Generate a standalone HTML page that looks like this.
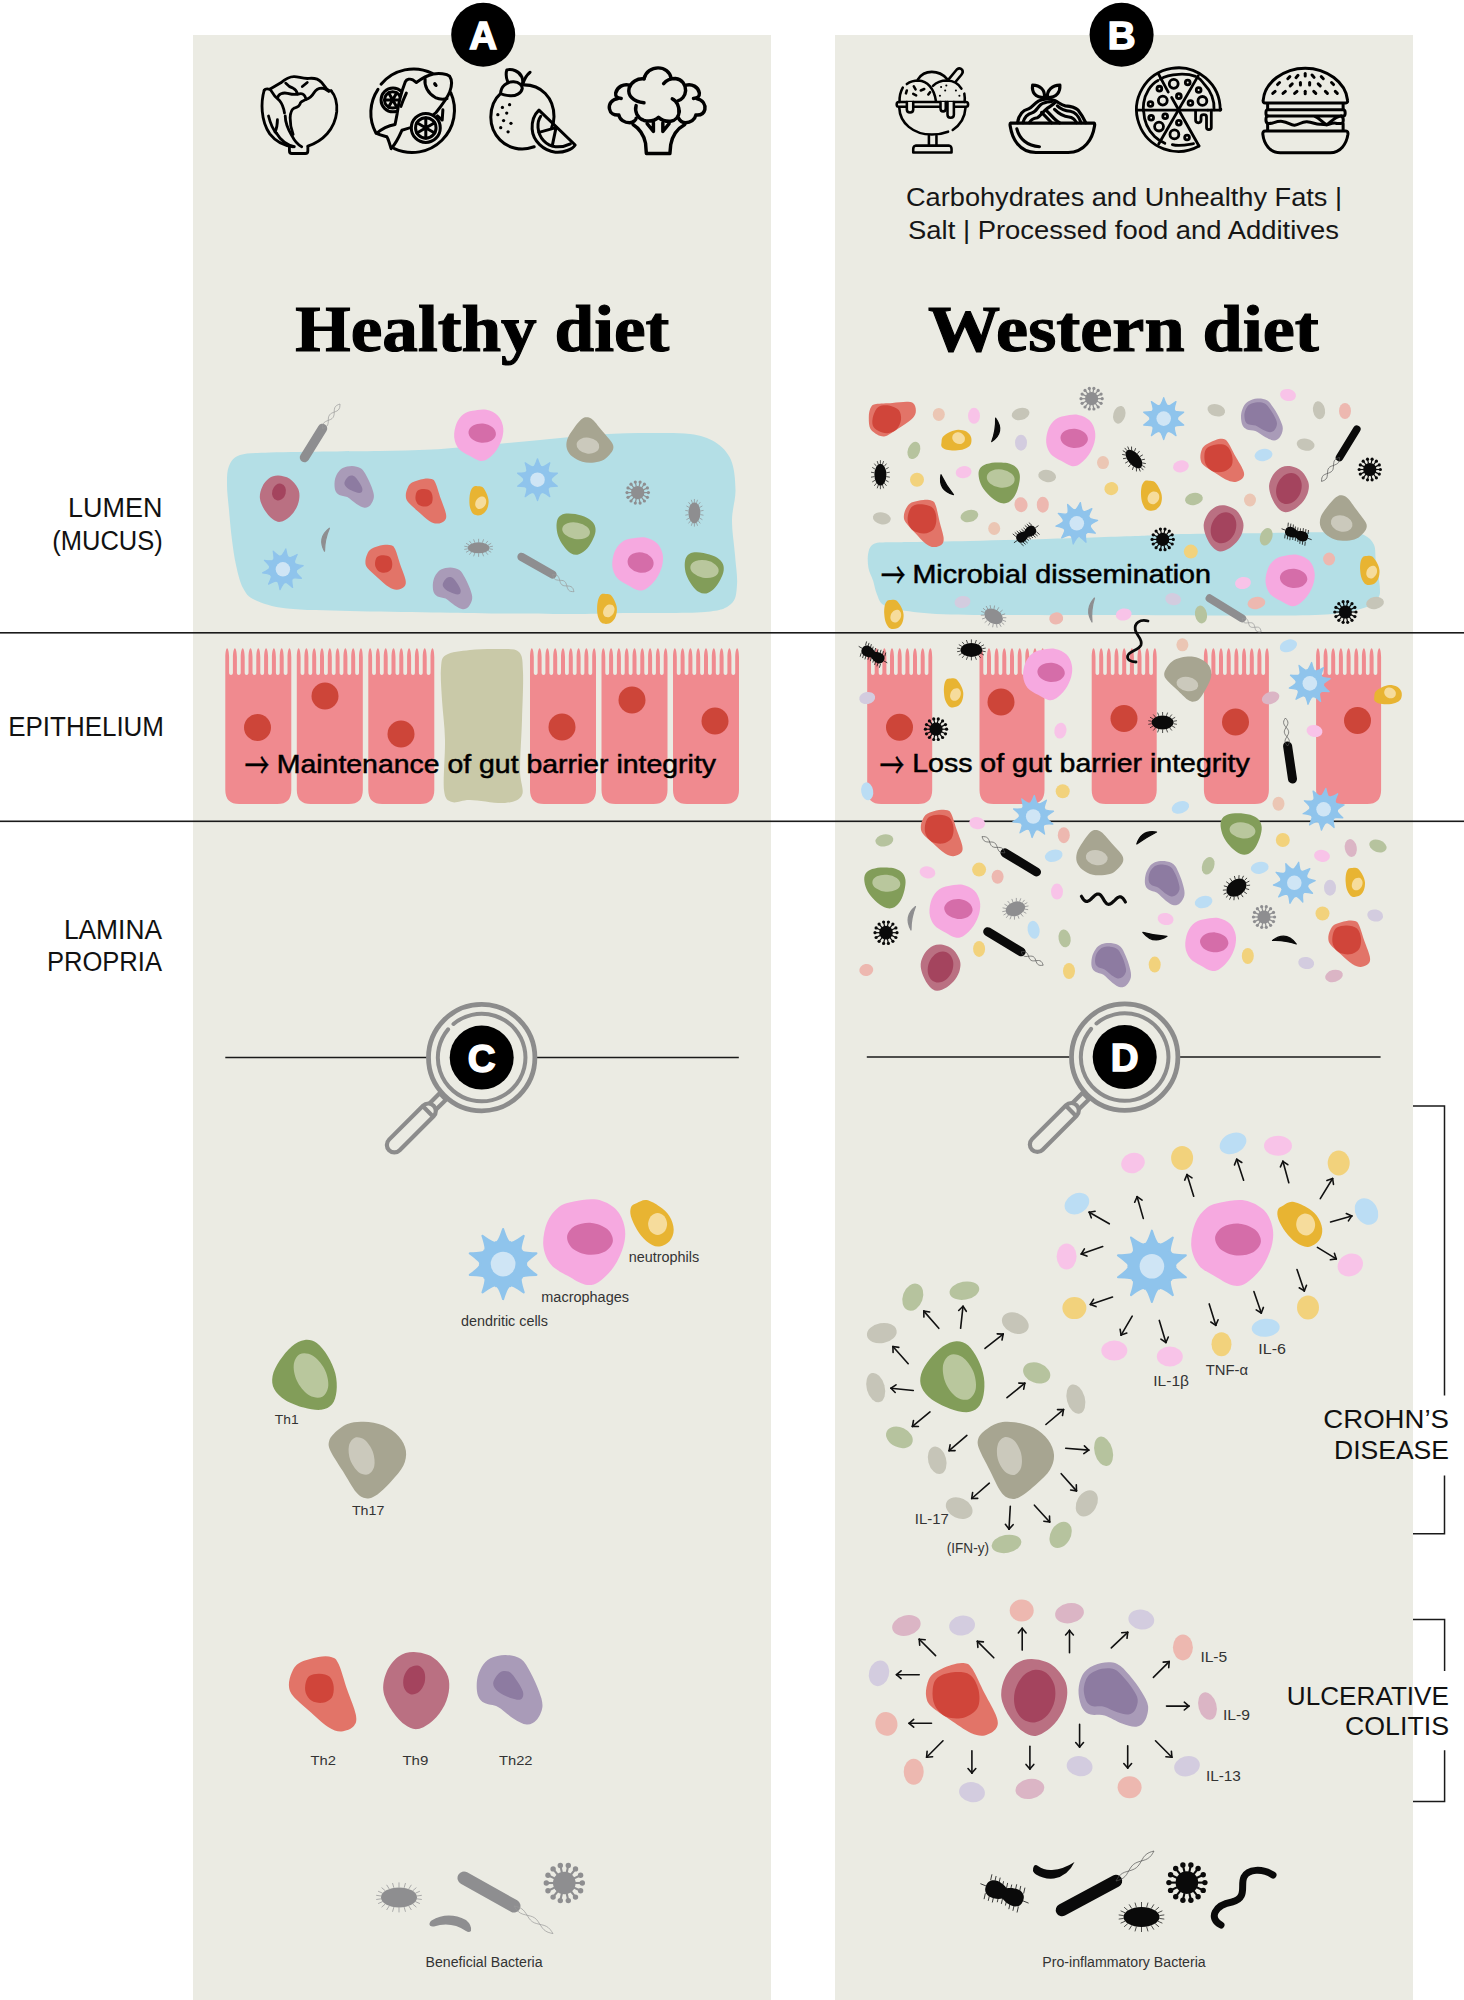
<!DOCTYPE html>
<html><head><meta charset="utf-8"><title>Healthy vs Western diet</title>
<style>html,body{margin:0;padding:0;background:#fff;width:1464px;height:2000px;overflow:hidden}svg{display:block}</style>
</head><body>
<svg width="1464" height="2000" viewBox="0 0 1464 2000">
<rect x="0" y="0" width="1464" height="2000" fill="#fff"/>
<rect x="193" y="35" width="578" height="1965" fill="#EBEBE3"/>
<rect x="835" y="35" width="578" height="1965" fill="#EBEBE3"/>
<rect x="0" y="632" width="1464" height="1.6" fill="#1a1a1a"/>
<rect x="0" y="820.5" width="1464" height="1.6" fill="#1a1a1a"/>
<circle cx="483.2" cy="34.8" r="32" fill="#000"/>
<text x="483.2" y="48.5" font-family="Liberation Sans, sans-serif" font-size="38.5" font-weight="bold" fill="#fff" text-anchor="middle" stroke="#fff" stroke-width="1.5">A</text>
<circle cx="1121.6" cy="34.8" r="32" fill="#000"/>
<text x="1121.6" y="48.5" font-family="Liberation Sans, sans-serif" font-size="38.5" font-weight="bold" fill="#fff" text-anchor="middle" stroke="#fff" stroke-width="1.5">B</text>
<text x="1124" y="206" font-family="Liberation Sans, sans-serif" font-size="25" font-weight="normal" fill="#161616" text-anchor="middle" textLength="436" lengthAdjust="spacingAndGlyphs">Carbohydrates and Unhealthy Fats |</text>
<text x="1123.5" y="239" font-family="Liberation Sans, sans-serif" font-size="25" font-weight="normal" fill="#161616" text-anchor="middle" textLength="431" lengthAdjust="spacingAndGlyphs">Salt | Processed food and Additives</text>
<text x="482.3" y="350.6" font-family="Liberation Serif, sans-serif" font-size="65" font-weight="bold" fill="#000" text-anchor="middle" textLength="374" lengthAdjust="spacingAndGlyphs" stroke="#000" stroke-width="1.1">Healthy diet</text>
<text x="1123.4" y="351.4" font-family="Liberation Serif, sans-serif" font-size="65" font-weight="bold" fill="#000" text-anchor="middle" textLength="391" lengthAdjust="spacingAndGlyphs" stroke="#000" stroke-width="1.1">Western diet</text>
<text x="162.4" y="517.2" font-family="Liberation Sans, sans-serif" font-size="27" font-weight="normal" fill="#111" text-anchor="end" textLength="94.4" lengthAdjust="spacingAndGlyphs">LUMEN</text>
<text x="162.8" y="550" font-family="Liberation Sans, sans-serif" font-size="27" font-weight="normal" fill="#111" text-anchor="end" textLength="110.5" lengthAdjust="spacingAndGlyphs">(MUCUS)</text>
<text x="8.2" y="736.3" font-family="Liberation Sans, sans-serif" font-size="27" font-weight="normal" fill="#111" text-anchor="start" textLength="155.8" lengthAdjust="spacingAndGlyphs">EPITHELIUM</text>
<text x="162" y="938.9" font-family="Liberation Sans, sans-serif" font-size="27" font-weight="normal" fill="#111" text-anchor="end" textLength="98.1" lengthAdjust="spacingAndGlyphs">LAMINA</text>
<text x="162" y="971.3" font-family="Liberation Sans, sans-serif" font-size="27" font-weight="normal" fill="#111" text-anchor="end" textLength="115.1" lengthAdjust="spacingAndGlyphs">PROPRIA</text>
<path fill="#B4DFE6" d="M229,466C231.2,461 233.2,457.2 240,455C246.8,452.8 255,453.1 270,452.5C285,451.9 311.7,451.8 330,451.5C348.3,451.2 363,451.3 380,451C397,450.7 415.3,450.4 432,449.5C448.7,448.6 462,447.1 480,445.5C498,443.9 520,441.8 540,440C560,438.2 581.7,435.7 600,434.5C618.3,433.3 635,433.1 650,433C665,432.9 679.2,432.5 690,434C700.8,435.5 708.2,437.7 715,442C721.8,446.3 727.6,452 731,460C734.4,468 735.3,480 735.5,490C735.7,500 732.1,509.2 732,520C731.9,530.8 734.2,544.2 735,555C735.8,565.8 737.7,576.8 737,585C736.3,593.2 736.3,599.5 731,604C725.7,608.5 721.8,610.5 705,612C688.2,613.5 651.3,612.7 630,613C608.7,613.3 598.7,613.9 577,614C555.3,614.1 524.2,613.8 500,613.5C475.8,613.2 457,612.9 432,612.5C407,612.1 374.2,611.7 350,611C325.8,610.3 302.8,610.3 287,608.5C271.2,606.7 262.3,603.4 255,600C247.7,596.6 246.2,593.8 243,588C239.8,582.2 237.8,573 236,565C234.2,557 233.2,549.2 232,540C230.8,530.8 229.8,519.2 229,510C228.2,500.8 227,492.3 227,485C227,477.7 226.8,471 229,466Z"/>
<line x1="304.5" y1="457.5" x2="322.5" y2="428.5" stroke="#8E8E90" stroke-width="9.5" stroke-linecap="round"/>
<polyline points="322.5,428.5 324.2,427.9 325.7,427.1 326.9,426.1 327.7,424.8 328.1,423.3 328.3,421.5 328.3,419.7 328.4,417.9 328.8,416.3 329.5,415 330.5,413.9 331.9,413 333.6,412.4 335.3,411.7 336.9,411 338.2,410.1 339.1,408.9 339.7,407.5 339.9,405.8 340,404" fill="none" stroke="#999" stroke-width="0.7"/>
<polyline points="322.5,428.5 322.6,426.7 322.8,425 323.4,423.6 324.3,422.4 325.6,421.5 327.2,420.8 328.9,420.1 330.6,419.5 332,418.6 333,417.5 333.7,416.2 334.1,414.6 334.2,412.8 334.2,411 334.4,409.2 334.8,407.7 335.6,406.4 336.8,405.4 338.3,404.6 340,404" fill="none" stroke="#999" stroke-width="0.7"/>
<path fill="#F6A9E0" d="M472.5,410.8C476.4,410 482.1,408.9 486.3,409.7C490.5,410.4 495,412.7 497.7,415.4C500.5,418.1 502.1,422.1 502.9,425.7C503.7,429.4 503.4,433.2 502.4,437.2C501.3,441.2 499.1,446.2 496.6,449.9C494.1,453.5 490.3,457.2 487.4,459C484.6,460.9 482.4,461.3 479.4,460.7C476.3,460.1 472.5,457.6 469.1,455.6C465.6,453.6 461.2,451.7 458.7,448.7C456.3,445.6 454.6,441.4 454.2,437.2C453.8,433 454.9,427.3 456.5,423.5C458,419.6 460.7,416.4 463.4,414.3C466,412.2 468.7,411.6 472.5,410.8Z"/>
<path fill="#D56DA9" d="M495.9,434.4C495.8,436.6 493.8,439.4 491.3,440.8C488.9,442.2 484.6,443 481.4,442.7C478.1,442.5 474,440.9 471.9,439.1C469.7,437.3 468.3,434.2 468.5,432C468.6,429.7 470.6,427 473.1,425.6C475.5,424.2 479.8,423.3 483,423.6C486.3,423.9 490.4,425.5 492.5,427.3C494.7,429.1 496.1,432.1 495.9,434.4Z"/>
<path fill="#A7A591" d="M610.9,453.1C609.3,455.2 606.7,458.2 603.9,459.8C601.1,461.3 597.9,462.1 594.3,462.4C590.8,462.8 586,462.8 582.3,461.8C578.7,460.8 574.9,458.7 572.3,456.6C569.7,454.4 567.8,451.6 566.9,448.7C566.1,445.9 566.2,442.6 567.2,439.4C568.3,436.2 570.8,432.6 573.2,429.3C575.5,426 578.8,421.6 581.1,419.6C583.3,417.6 584.7,417.1 586.7,417.2C588.6,417.2 590.3,417.6 593,419.9C595.6,422.2 599.4,427.5 602.5,431.2C605.6,434.8 609.5,439.1 611.3,441.8C613.1,444.5 613.5,445.6 613.4,447.5C613.3,449.4 612.5,451.1 610.9,453.1Z"/>
<ellipse cx="587.9" cy="445.6" rx="11.4" ry="8" fill="#CBC9BC" transform="rotate(8 587.9 445.6)"/>
<path fill="#BA7082" d="M278.2,475.6C281.7,475.7 286.4,476.8 289.7,478.8C292.9,480.9 296.1,484.9 297.7,488C299.4,491.1 299.6,493.9 299.4,497.2C299.2,500.4 298.2,504.2 296.6,507.5C295,510.8 292.4,514.3 289.7,516.7C287,519.1 283.4,521.5 280.5,521.8C277.6,522.2 275.2,521 272.5,519C269.8,517 266.5,513.2 264.4,509.8C262.3,506.3 260.3,502.1 259.9,498.3C259.5,494.5 260.6,490.2 262.2,486.9C263.7,483.5 266.4,480.1 269.1,478.3C271.7,476.4 274.8,475.5 278.2,475.6Z"/>
<ellipse cx="279" cy="492" rx="6.8" ry="8.6" fill="#A4445E" transform="rotate(15 279 492)"/>
<path fill="#A99BB8" d="M342.7,467.9C345.1,466.7 348.9,465.9 351.9,465.9C355,466 358.6,466.7 361.1,468.5C363.6,470.2 365,473.2 366.8,476.5C368.6,479.8 370.8,484.5 372,488C373.1,491.4 374.2,494.3 373.9,497.1C373.7,500 371.8,503.4 370.3,505.2C368.7,506.9 366.8,507.9 364.5,507.7C362.2,507.5 359.3,505.8 356.5,504C353.6,502.3 350.2,498.7 347.3,497.1C344.4,495.6 341.3,496 339.3,494.9C337.2,493.7 336,492.6 335.2,490.3C334.5,488 334.3,484 334.7,481.1C335.1,478.2 336.2,475.3 337.6,473.1C338.9,470.9 340.4,469.1 342.7,467.9Z"/>
<path fill="#8D7BA1" d="M348.4,476.5C350,475.4 352.1,475.4 353.6,476C355.1,476.5 356.2,477.9 357.6,479.9C359.1,481.9 361.7,485.8 362.2,488C362.8,490.1 362.2,491.9 361.1,492.6C359.9,493.2 357.6,492.8 355.3,492C353,491.2 349.1,489.5 347.3,488C345.5,486.4 344.2,484.7 344.4,482.8C344.6,480.9 346.9,477.6 348.4,476.5Z"/>
<path fill="#E27468" d="M412,482.6C414.6,481 420.1,479.6 423.4,479C426.7,478.4 429.5,478.4 431.6,479.1C433.6,479.8 434,479.9 435.6,483.2C437.1,486.4 439,493.6 440.7,498.6C442.5,503.7 445.2,509.9 445.9,513.6C446.6,517.2 446.2,518.7 444.8,520.4C443.3,522.1 439.9,523.5 437.3,523.6C434.7,523.7 432.5,523.1 429.3,521C426,518.9 421.4,514.4 417.8,511.3C414.3,508.1 410.1,504.7 408,502.1C406,499.5 405.9,498.1 405.8,495.8C405.7,493.5 406.5,490.5 407.5,488.3C408.5,486.1 409.4,484.1 412,482.6Z"/>
<path fill="#D0453A" d="M418.2,490.3C419.6,489.4 422.2,489 424.2,489.1C426.2,489.2 428.8,489.6 430.2,490.9C431.6,492.2 432.4,494.8 432.6,496.9C432.8,499 432.5,501.9 431.4,503.5C430.3,505.1 428,506.2 426,506.5C424,506.8 421.1,506.3 419.4,505.3C417.7,504.3 416.4,502.3 415.8,500.5C415.2,498.7 415.4,496.2 415.8,494.5C416.2,492.8 416.8,491.2 418.2,490.3Z"/>
<path fill="#E8B432" d="M477.4,486.3C478.9,486.4 481.1,486 482.7,487.3C484.3,488.7 486,492 487,494.4C487.9,496.9 488.7,499.3 488.6,501.9C488.5,504.5 487.8,507.9 486.5,510C485.3,512.2 483.2,514.1 481.1,514.9C479.1,515.6 475.9,515.6 474.1,514.6C472.3,513.5 471.2,511.1 470.4,508.7C469.6,506.3 469.3,503 469.4,500.1C469.4,497.3 469.8,493.8 470.5,491.5C471.2,489.3 472.4,487.5 473.5,486.7C474.7,485.8 475.9,486.1 477.4,486.3Z"/>
<path fill="#F6DC9C" d="M485.2,505.3C484.4,506.6 482.8,508.1 481.5,508.6C480.2,509.1 478.5,509.1 477.4,508.4C476.4,507.8 475.4,506.3 475.2,505C475.1,503.6 475.5,501.5 476.3,500.2C477.1,498.8 478.6,497.4 479.9,496.9C481.2,496.4 483,496.4 484,497C485.1,497.6 486,499.1 486.2,500.5C486.4,501.9 485.9,503.9 485.2,505.3Z"/>
<path fill="#8FC4EC" stroke="#8FC4EC" stroke-width="1.3" stroke-linejoin="round" d="M537.5,458.8Q540.3,467.5 541.8,466.6Q542.4,468.2 549.8,462.8Q547,471.5 548.7,471.6Q548.3,473.2 557.4,473.2Q550,478.6 551.3,479.7Q550,480.8 557.4,486.2Q548.3,486.2 548.7,487.8Q547,487.9 549.8,496.6Q542.4,491.2 541.8,492.8Q540.3,491.9 537.5,500.6Q534.7,491.9 533.2,492.8Q532.6,491.2 525.2,496.6Q528,487.9 526.3,487.8Q526.7,486.2 517.6,486.2Q525,480.8 523.7,479.7Q525,478.6 517.6,473.2Q526.7,473.2 526.3,471.6Q528,471.5 525.2,462.8Q532.6,468.2 533.2,466.6Q534.7,467.5 537.5,458.8Z"/>
<circle cx="537.5" cy="479.7" r="7.3" fill="#CFE5F5"/>
<g fill="#8E8E90" stroke="#8E8E90"><circle cx="637.7" cy="492.6" r="6.7" stroke="none"/><line x1="643.8" y1="492.6" x2="648.4" y2="492.6" stroke-width="1.2"/><circle cx="648.4" cy="492.6" r="1.6" stroke="none"/><line x1="643.2" y1="495.2" x2="647.4" y2="497.3" stroke-width="1.2"/><circle cx="647.4" cy="497.3" r="1.6" stroke="none"/><line x1="641.5" y1="497.4" x2="644.4" y2="501" stroke-width="1.2"/><circle cx="644.4" cy="501" r="1.6" stroke="none"/><line x1="639.1" y1="498.5" x2="640.1" y2="503.1" stroke-width="1.2"/><circle cx="640.1" cy="503.1" r="1.6" stroke="none"/><line x1="636.3" y1="498.5" x2="635.3" y2="503.1" stroke-width="1.2"/><circle cx="635.3" cy="503.1" r="1.6" stroke="none"/><line x1="633.9" y1="497.4" x2="631" y2="501" stroke-width="1.2"/><circle cx="631" cy="501" r="1.6" stroke="none"/><line x1="632.2" y1="495.2" x2="628" y2="497.3" stroke-width="1.2"/><circle cx="628" cy="497.3" r="1.6" stroke="none"/><line x1="631.6" y1="492.6" x2="627" y2="492.6" stroke-width="1.2"/><circle cx="627" cy="492.6" r="1.6" stroke="none"/><line x1="632.2" y1="490" x2="628" y2="487.9" stroke-width="1.2"/><circle cx="628" cy="487.9" r="1.6" stroke="none"/><line x1="633.9" y1="487.8" x2="631" y2="484.2" stroke-width="1.2"/><circle cx="631" cy="484.2" r="1.6" stroke="none"/><line x1="636.3" y1="486.7" x2="635.3" y2="482.1" stroke-width="1.2"/><circle cx="635.3" cy="482.1" r="1.6" stroke="none"/><line x1="639.1" y1="486.7" x2="640.1" y2="482.1" stroke-width="1.2"/><circle cx="640.1" cy="482.1" r="1.6" stroke="none"/><line x1="641.5" y1="487.8" x2="644.4" y2="484.2" stroke-width="1.2"/><circle cx="644.4" cy="484.2" r="1.6" stroke="none"/><line x1="643.2" y1="490" x2="647.4" y2="487.9" stroke-width="1.2"/><circle cx="647.4" cy="487.9" r="1.6" stroke="none"/></g>
<g transform="translate(694.4 512.8) rotate(0)"><ellipse cx="0" cy="0" rx="6" ry="10.6" fill="#8E8E90"/><line x1="5.9" y1="1.8" x2="9.1" y2="2.4" stroke="#8E8E90" stroke-width="0.7"/><line x1="5.2" y1="5.3" x2="8" y2="6.9" stroke="#8E8E90" stroke-width="0.7"/><line x1="3.9" y1="8.1" x2="5.9" y2="10.6" stroke="#8E8E90" stroke-width="0.7"/><line x1="2.1" y1="10" x2="3.1" y2="13" stroke="#8E8E90" stroke-width="0.7"/><line x1="0" y1="10.6" x2="0" y2="13.8" stroke="#8E8E90" stroke-width="0.7"/><line x1="-2.1" y1="10" x2="-3.1" y2="13" stroke="#8E8E90" stroke-width="0.7"/><line x1="-3.9" y1="8.1" x2="-5.9" y2="10.6" stroke="#8E8E90" stroke-width="0.7"/><line x1="-5.2" y1="5.3" x2="-8" y2="6.9" stroke="#8E8E90" stroke-width="0.7"/><line x1="-5.9" y1="1.8" x2="-9.1" y2="2.4" stroke="#8E8E90" stroke-width="0.7"/><line x1="-5.9" y1="-1.8" x2="-9.1" y2="-2.4" stroke="#8E8E90" stroke-width="0.7"/><line x1="-5.2" y1="-5.3" x2="-8" y2="-6.9" stroke="#8E8E90" stroke-width="0.7"/><line x1="-3.9" y1="-8.1" x2="-5.9" y2="-10.6" stroke="#8E8E90" stroke-width="0.7"/><line x1="-2.1" y1="-10" x2="-3.1" y2="-13" stroke="#8E8E90" stroke-width="0.7"/><line x1="0" y1="-10.6" x2="0" y2="-13.8" stroke="#8E8E90" stroke-width="0.7"/><line x1="2.1" y1="-10" x2="3.1" y2="-13" stroke="#8E8E90" stroke-width="0.7"/><line x1="3.9" y1="-8.1" x2="5.9" y2="-10.6" stroke="#8E8E90" stroke-width="0.7"/><line x1="5.2" y1="-5.3" x2="8" y2="-6.9" stroke="#8E8E90" stroke-width="0.7"/><line x1="5.9" y1="-1.8" x2="9.1" y2="-2.4" stroke="#8E8E90" stroke-width="0.7"/></g>
<path fill="#8E8E90" stroke="#8E8E90" stroke-width="1.2" stroke-linejoin="round" d="M329.4,528.2 Q317.2,537.6 324.5,551.2 Q324.6,539.2 329.4,528.2Z"/>
<path fill="#8FC4EC" stroke="#8FC4EC" stroke-width="1.2" stroke-linejoin="round" d="M285.8,548.9Q287.3,557.8 288.9,557.1Q289.3,558.7 297.2,554.5Q293.3,562.6 294.9,562.9Q294.3,564.5 303.2,565.7Q295.2,569.9 296.4,571.2Q294.9,572.1 301.4,578.3Q292.5,577.1 292.7,578.7Q291,578.6 292.6,587.5Q286.1,581.2 285.3,582.7Q284,581.6 280,589.7Q278.5,580.8 276.9,581.5Q276.5,579.9 268.6,584.1Q272.5,576 270.9,575.7Q271.5,574.1 262.6,572.9Q270.6,568.7 269.4,567.4Q270.9,566.5 264.4,560.3Q273.3,561.5 273.1,559.9Q274.8,560 273.2,551.1Q279.7,557.4 280.5,555.9Q281.8,557 285.8,548.9Z"/>
<circle cx="282.9" cy="569.3" r="7.2" fill="#CFE5F5"/>
<path fill="#E27468" d="M371.6,548.7C374.2,547.1 379.7,545.7 383,545.1C386.3,544.5 389.1,544.5 391.2,545.2C393.2,545.9 393.6,546 395.2,549.3C396.7,552.5 398.6,559.7 400.3,564.7C402.1,569.8 404.8,576 405.5,579.7C406.2,583.3 405.8,584.8 404.4,586.5C402.9,588.2 399.5,589.6 396.9,589.7C394.3,589.8 392.1,589.2 388.9,587.1C385.6,585 381,580.5 377.4,577.4C373.9,574.2 369.6,570.8 367.6,568.2C365.6,565.6 365.4,564.2 365.4,561.9C365.3,559.6 366.1,556.6 367.1,554.4C368.1,552.2 368.9,550.2 371.6,548.7Z"/>
<path fill="#D0453A" d="M377.8,556.4C379.2,555.5 381.8,555.1 383.8,555.2C385.8,555.3 388.4,555.7 389.8,557C391.2,558.3 392,560.9 392.2,563C392.4,565.1 392.1,568 391,569.6C389.9,571.2 387.6,572.3 385.6,572.6C383.6,572.9 380.7,572.4 379,571.4C377.3,570.4 376,568.4 375.4,566.6C374.8,564.8 375,562.3 375.4,560.6C375.8,558.9 376.4,557.3 377.8,556.4Z"/>
<g transform="translate(478.6 547.8) rotate(0)"><ellipse cx="0" cy="0" rx="11" ry="5.5" fill="#8E8E90"/><line x1="10.8" y1="1" x2="14.3" y2="1.6" stroke="#8E8E90" stroke-width="0.7"/><line x1="9.5" y1="2.7" x2="12.6" y2="4.5" stroke="#8E8E90" stroke-width="0.7"/><line x1="7.1" y1="4.2" x2="9.3" y2="6.9" stroke="#8E8E90" stroke-width="0.7"/><line x1="3.8" y1="5.2" x2="5" y2="8.5" stroke="#8E8E90" stroke-width="0.7"/><line x1="0" y1="5.5" x2="0" y2="9" stroke="#8E8E90" stroke-width="0.7"/><line x1="-3.8" y1="5.2" x2="-5" y2="8.5" stroke="#8E8E90" stroke-width="0.7"/><line x1="-7.1" y1="4.2" x2="-9.3" y2="6.9" stroke="#8E8E90" stroke-width="0.7"/><line x1="-9.5" y1="2.8" x2="-12.6" y2="4.5" stroke="#8E8E90" stroke-width="0.7"/><line x1="-10.8" y1="1" x2="-14.3" y2="1.6" stroke="#8E8E90" stroke-width="0.7"/><line x1="-10.8" y1="-1" x2="-14.3" y2="-1.6" stroke="#8E8E90" stroke-width="0.7"/><line x1="-9.5" y1="-2.8" x2="-12.6" y2="-4.5" stroke="#8E8E90" stroke-width="0.7"/><line x1="-7.1" y1="-4.2" x2="-9.3" y2="-6.9" stroke="#8E8E90" stroke-width="0.7"/><line x1="-3.8" y1="-5.2" x2="-5" y2="-8.5" stroke="#8E8E90" stroke-width="0.7"/><line x1="0" y1="-5.5" x2="0" y2="-9" stroke="#8E8E90" stroke-width="0.7"/><line x1="3.8" y1="-5.2" x2="5" y2="-8.5" stroke="#8E8E90" stroke-width="0.7"/><line x1="7.1" y1="-4.2" x2="9.3" y2="-6.9" stroke="#8E8E90" stroke-width="0.7"/><line x1="9.5" y1="-2.7" x2="12.6" y2="-4.5" stroke="#8E8E90" stroke-width="0.7"/><line x1="10.8" y1="-1" x2="14.3" y2="-1.6" stroke="#8E8E90" stroke-width="0.7"/></g>
<path fill="#A99BB8" d="M441,569.4C443.4,568.2 447.2,567.4 450.2,567.4C453.3,567.5 456.9,568.2 459.4,570C461.9,571.7 463.3,574.8 465.1,578C466.9,581.2 469.1,586 470.3,589.5C471.4,592.9 472.5,595.8 472.2,598.6C472,601.5 470.1,604.9 468.6,606.7C467,608.4 465.1,609.4 462.8,609.2C460.5,609 457.6,607.3 454.8,605.5C451.9,603.8 448.5,600.2 445.6,598.6C442.7,597.1 439.6,597.5 437.6,596.4C435.6,595.2 434.3,594.1 433.5,591.8C432.8,589.5 432.6,585.5 433,582.6C433.4,579.8 434.5,576.8 435.9,574.6C437.2,572.4 438.7,570.6 441,569.4Z"/>
<path fill="#8D7BA1" d="M446.7,578C448.3,576.9 450.4,576.9 451.9,577.5C453.4,578 454.5,579.4 455.9,581.4C457.4,583.4 460,587.4 460.5,589.5C461.1,591.6 460.5,593.4 459.4,594.1C458.2,594.8 455.9,594.2 453.6,593.5C451.3,592.7 447.4,591 445.6,589.5C443.8,587.9 442.5,586.2 442.7,584.3C442.9,582.4 445.2,579.1 446.7,578Z"/>
<line x1="521.5" y1="556.8" x2="552.5" y2="574.5" stroke="#8E8E90" stroke-width="8.3" stroke-linecap="round"/>
<polyline points="552.5,574.5 553,576.1 553.5,577.6 554.4,578.8 555.5,579.6 556.9,580 558.5,580.2 560.2,580.3 561.9,580.4 563.4,580.7 564.6,581.4 565.5,582.4 566.2,583.8 566.7,585.4 567.1,587.1 567.7,588.6 568.4,589.9 569.4,590.8 570.7,591.4 572.3,591.6 574,591.7" fill="none" stroke="#999" stroke-width="0.7"/>
<polyline points="552.5,574.5 554.2,574.6 555.8,574.8 557.1,575.4 558.1,576.3 558.8,577.6 559.4,579.1 559.8,580.8 560.3,582.4 561,583.8 561.9,584.8 563.1,585.5 564.6,585.8 566.3,585.9 568,586 569.6,586.2 571,586.6 572.1,587.4 573,588.6 573.5,590.1 574,591.7" fill="none" stroke="#999" stroke-width="0.7"/>
<path fill="#829D59" d="M578.2,554.6C575.7,555.1 573.2,554.7 570.8,553.3C568.4,551.9 565.7,549 563.6,546.1C561.4,543.2 559.3,539.4 558.1,536C556.9,532.6 556.5,528.7 556.5,525.6C556.6,522.5 557.1,519.5 558.5,517.6C559.8,515.6 561.9,514.3 564.7,513.7C567.5,513.1 571.6,513.4 575.3,514.1C579,514.8 583.7,516.1 586.8,517.7C589.9,519.3 592.4,521.4 593.9,523.7C595.3,526 595.8,528.5 595.5,531.4C595.2,534.3 593.7,537.8 592.1,540.9C590.4,544 588,547.8 585.6,550.1C583.3,552.3 580.6,554 578.2,554.6Z"/>
<ellipse cx="576.1" cy="530.8" rx="14" ry="8.3" fill="#B9C79D" transform="rotate(10 576.1 530.8)"/>
<path fill="#F6A9E0" d="M631.2,538.6C635.2,537.8 641.1,536.6 645.4,537.4C649.8,538.2 654.4,540.6 657.3,543.4C660.1,546.1 661.8,550.3 662.6,554C663.4,557.8 663.1,561.7 662.1,565.9C661,570 658.7,575.2 656.1,579C653.5,582.7 649.6,586.6 646.6,588.4C643.6,590.3 641.5,590.8 638.3,590.2C635.1,589.6 631.2,586.9 627.6,584.9C624.1,582.8 619.5,580.9 617,577.7C614.4,574.6 612.7,570.2 612.3,565.9C611.9,561.5 613,555.6 614.6,551.7C616.2,547.7 619,544.4 621.8,542.2C624.5,540 627.3,539.4 631.2,538.6Z"/>
<ellipse cx="640.6" cy="562.5" rx="13.1" ry="10.1" fill="#D56DA9" transform="rotate(10 640.6 562.5)"/>
<path fill="#829D59" d="M706.4,593.4C703.9,593.9 701.4,593.5 699,592.1C696.6,590.7 693.9,587.8 691.8,584.9C689.6,582 687.5,578.2 686.3,574.8C685.1,571.4 684.7,567.5 684.7,564.4C684.8,561.3 685.3,558.3 686.7,556.4C688,554.4 690.1,553.1 692.9,552.5C695.7,551.9 699.8,552.2 703.5,552.9C707.2,553.6 711.9,554.9 715,556.5C718.1,558.1 720.6,560.2 722.1,562.5C723.5,564.8 724,567.3 723.7,570.2C723.4,573.1 721.9,576.6 720.3,579.7C718.6,582.8 716.2,586.6 713.8,588.9C711.5,591.1 708.8,592.8 706.4,593.4Z"/>
<ellipse cx="704.5" cy="569" rx="14.3" ry="8.8" fill="#B9C79D" transform="rotate(10 704.5 569)"/>
<path fill="#E8B432" d="M605.4,593.9C606.9,594 609.2,593.6 610.8,595C612.5,596.4 614.2,599.8 615.2,602.3C616.3,604.8 617,607.4 616.9,610.1C616.9,612.8 616.1,616.2 614.8,618.5C613.5,620.7 611.4,622.7 609.2,623.5C607.1,624.2 603.8,624.2 602,623.1C600.1,622.1 598.9,619.5 598.1,617C597.3,614.5 597,611.2 597.1,608.2C597.1,605.3 597.6,601.6 598.3,599.3C599,597 600.2,595.2 601.4,594.3C602.5,593.4 603.8,593.8 605.4,593.9Z"/>
<path fill="#F6DC9C" d="M613.4,613.5C612.6,614.9 611,616.4 609.6,616.9C608.3,617.5 606.5,617.4 605.4,616.8C604.3,616.2 603.3,614.6 603.1,613.2C602.9,611.8 603.4,609.6 604.2,608.2C605,606.9 606.6,605.4 608,604.8C609.3,604.3 611.1,604.4 612.2,605C613.3,605.6 614.3,607.2 614.5,608.6C614.7,610 614.2,612.2 613.4,613.5Z"/>
<path fill="#B4DFE6" d="M868.4,552.4C869.4,548.4 870.5,545.5 874.1,543.8C877.7,542.1 883.6,542.6 890,542.3C896.4,542 899.1,542.1 912.4,541.9C925.7,541.7 947.4,541.4 969.7,540.9C992,540.4 1018.7,539.8 1046.2,539C1073.8,538.2 1113.8,536.9 1135,536.1C1156.2,535.3 1154.1,534.7 1173.2,534.2C1192.3,533.7 1224.2,533.5 1249.7,533.2C1275.2,532.9 1309.5,532.3 1326.2,532.3C1342.9,532.3 1343.6,532.5 1350,533C1356.4,533.5 1360.5,533.2 1364.5,535.2C1368.5,537.2 1372.1,540.2 1374,544.7C1375.9,549.2 1375,555 1376,562C1377,569 1379.5,580.8 1379.8,586.8C1380.1,592.8 1380.5,594.8 1377.9,598.3C1375.4,601.8 1373.1,605.1 1364.5,607.8C1355.9,610.5 1345.3,613.2 1326.2,614.5C1307.1,615.8 1274.9,615.4 1249.7,615.5C1224.5,615.6 1199.3,615.4 1175,615.3C1150.7,615.2 1128.3,615.1 1103.6,615.1C1078.9,615.1 1052.5,615.2 1027,615.1C1001.5,615 971,615.2 950.6,614.5C930.2,613.8 915.9,612.3 904.7,610.7C893.6,609.1 888.3,607.7 883.7,605C879.1,602.3 878.8,598.4 877,594.4C875.2,590.4 874.6,585.5 873.2,581C871.8,576.5 869.2,572.5 868.4,567.7C867.6,562.9 867.4,556.4 868.4,552.4Z"/>
<ellipse cx="938.8" cy="414.4" rx="6" ry="6.5" fill="#EBC6B4"/>
<ellipse cx="974" cy="415.8" rx="6" ry="8" fill="#F8C3E8"/>
<ellipse cx="1020.6" cy="414" rx="9" ry="6" fill="#C6C5B8" transform="rotate(-15 1020.6 414)"/>
<ellipse cx="1119.3" cy="414.8" rx="6" ry="9" fill="#C6C5B8" transform="rotate(15 1119.3 414.8)"/>
<ellipse cx="913.9" cy="450.4" rx="6" ry="9" fill="#B6C39E" transform="rotate(20 913.9 450.4)"/>
<ellipse cx="1021" cy="442.7" rx="6" ry="8" fill="#D3CCDF"/>
<ellipse cx="917" cy="479.8" rx="7" ry="7" fill="#F2D27C"/>
<ellipse cx="963.6" cy="472.2" rx="8" ry="6" fill="#F8C3E8" transform="rotate(-10 963.6 472.2)"/>
<ellipse cx="1103" cy="462.6" rx="6" ry="6.5" fill="#EBC6B4"/>
<ellipse cx="1047.2" cy="476" rx="9" ry="6" fill="#C6C5B8" transform="rotate(10 1047.2 476)"/>
<ellipse cx="1111.3" cy="488.6" rx="7" ry="6.5" fill="#F2D27C" transform="rotate(-10 1111.3 488.6)"/>
<ellipse cx="1021" cy="504.7" rx="6.5" ry="7.5" fill="#EDB8B0" transform="rotate(-10 1021 504.7)"/>
<ellipse cx="1042.8" cy="504.7" rx="6" ry="8" fill="#EDB8B0"/>
<ellipse cx="881.8" cy="518.3" rx="9" ry="6" fill="#C6C5B8" transform="rotate(10 881.8 518.3)"/>
<ellipse cx="969.4" cy="516" rx="9" ry="6" fill="#B6C39E" transform="rotate(-15 969.4 516)"/>
<ellipse cx="994.2" cy="528.5" rx="6" ry="6.5" fill="#EBC6B4"/>
<ellipse cx="1216.3" cy="410.2" rx="9" ry="6" fill="#C6C5B8" transform="rotate(15 1216.3 410.2)"/>
<ellipse cx="1288" cy="395" rx="8" ry="6" fill="#F8C3E8" transform="rotate(10 1288 395)"/>
<ellipse cx="1319" cy="410.2" rx="6" ry="9" fill="#C6C5B8" transform="rotate(-10 1319 410.2)"/>
<ellipse cx="1345" cy="411" rx="6" ry="8" fill="#EDB8B0"/>
<ellipse cx="1180.9" cy="466.4" rx="8" ry="6" fill="#F8C3E8" transform="rotate(-10 1180.9 466.4)"/>
<ellipse cx="1263.5" cy="455" rx="9" ry="6" fill="#BBDDF4" transform="rotate(-10 1263.5 455)"/>
<ellipse cx="1305.6" cy="444.6" rx="9" ry="6" fill="#C6C5B8" transform="rotate(10 1305.6 444.6)"/>
<ellipse cx="1193.9" cy="499" rx="9" ry="6" fill="#B6C39E" transform="rotate(-10 1193.9 499)"/>
<ellipse cx="1250" cy="500" rx="6" ry="6.5" fill="#EBC6B4"/>
<ellipse cx="1190.8" cy="551.6" rx="7" ry="7" fill="#F2D27C"/>
<ellipse cx="1266.2" cy="536.7" rx="6" ry="9" fill="#B6C39E" transform="rotate(20 1266.2 536.7)"/>
<ellipse cx="1329.1" cy="559" rx="6" ry="6.5" fill="#EDB8B0"/>
<ellipse cx="1243" cy="583" rx="8" ry="6" fill="#F8C3E8" transform="rotate(-10 1243 583)"/>
<ellipse cx="1173.2" cy="599.2" rx="8" ry="6" fill="#D3CCDF" transform="rotate(10 1173.2 599.2)"/>
<ellipse cx="1256.4" cy="603" rx="9" ry="6" fill="#EDB8B0" transform="rotate(-10 1256.4 603)"/>
<ellipse cx="1201" cy="614.5" rx="6" ry="9" fill="#B6C39E" transform="rotate(-10 1201 614.5)"/>
<ellipse cx="1375" cy="603" rx="9" ry="6" fill="#C6C5B8" transform="rotate(-10 1375 603)"/>
<ellipse cx="962.5" cy="602" rx="8" ry="6" fill="#D3CCDF" transform="rotate(-10 962.5 602)"/>
<ellipse cx="1056.2" cy="618.4" rx="7" ry="6" fill="#EDB8B0" transform="rotate(-10 1056.2 618.4)"/>
<ellipse cx="1123.7" cy="614.5" rx="8" ry="6" fill="#F8C3E8" transform="rotate(-10 1123.7 614.5)"/>
<g fill="#8E8E90" stroke="#8E8E90"><circle cx="1091.6" cy="398.7" r="6.6" stroke="none"/><line x1="1097.6" y1="398.7" x2="1102.2" y2="398.7" stroke-width="1.2"/><circle cx="1102.2" cy="398.7" r="1.6" stroke="none"/><line x1="1097" y1="401.3" x2="1101.1" y2="403.3" stroke-width="1.2"/><circle cx="1101.1" cy="403.3" r="1.6" stroke="none"/><line x1="1095.3" y1="403.4" x2="1098.2" y2="407" stroke-width="1.2"/><circle cx="1098.2" cy="407" r="1.6" stroke="none"/><line x1="1092.9" y1="404.5" x2="1093.9" y2="409" stroke-width="1.2"/><circle cx="1093.9" cy="409" r="1.6" stroke="none"/><line x1="1090.3" y1="404.5" x2="1089.3" y2="409" stroke-width="1.2"/><circle cx="1089.3" cy="409" r="1.6" stroke="none"/><line x1="1087.9" y1="403.4" x2="1085" y2="407" stroke-width="1.2"/><circle cx="1085" cy="407" r="1.6" stroke="none"/><line x1="1086.2" y1="401.3" x2="1082.1" y2="403.3" stroke-width="1.2"/><circle cx="1082.1" cy="403.3" r="1.6" stroke="none"/><line x1="1085.6" y1="398.7" x2="1081" y2="398.7" stroke-width="1.2"/><circle cx="1081" cy="398.7" r="1.6" stroke="none"/><line x1="1086.2" y1="396.1" x2="1082.1" y2="394.1" stroke-width="1.2"/><circle cx="1082.1" cy="394.1" r="1.6" stroke="none"/><line x1="1087.9" y1="394" x2="1085" y2="390.4" stroke-width="1.2"/><circle cx="1085" cy="390.4" r="1.6" stroke="none"/><line x1="1090.3" y1="392.9" x2="1089.3" y2="388.4" stroke-width="1.2"/><circle cx="1089.3" cy="388.4" r="1.6" stroke="none"/><line x1="1092.9" y1="392.9" x2="1093.9" y2="388.4" stroke-width="1.2"/><circle cx="1093.9" cy="388.4" r="1.6" stroke="none"/><line x1="1095.3" y1="394" x2="1098.2" y2="390.4" stroke-width="1.2"/><circle cx="1098.2" cy="390.4" r="1.6" stroke="none"/><line x1="1097" y1="396.1" x2="1101.1" y2="394.1" stroke-width="1.2"/><circle cx="1101.1" cy="394.1" r="1.6" stroke="none"/></g>
<path fill="#E27468" d="M869.5,426.5C868.7,423.6 868.7,417.9 868.9,414.6C869.2,411.3 870,408.5 871.2,406.7C872.4,404.9 872.6,404.5 876.1,403.9C879.7,403.3 887,403.3 892.4,402.9C897.7,402.5 904.5,401.5 908.1,401.8C911.8,402.1 913.2,402.8 914.5,404.7C915.7,406.5 916.2,410.2 915.7,412.7C915.1,415.2 913.9,417.2 911,419.8C908.2,422.4 902.6,425.7 898.7,428.3C894.7,430.9 890.3,434.1 887.3,435.4C884.3,436.7 882.8,436.5 880.6,436C878.4,435.5 875.7,433.9 873.8,432.3C871.9,430.8 870.3,429.5 869.5,426.5Z"/>
<path fill="#D0453A" d="M872.7,425.2C871.9,422.7 872.4,418.4 873.4,415.3C874.4,412.2 876.1,408.3 878.7,406.7C881.3,405 885.6,404.9 889,405.4C892.3,406 896.7,407.6 898.7,410C900.7,412.4 901.4,416.5 901,419.7C900.7,423 898.7,427.3 896.4,429.6C894.2,431.8 890.5,433 887.5,433.2C884.5,433.4 880.7,432 878.2,430.7C875.8,429.4 873.5,427.8 872.7,425.2Z"/>
<path fill="#E8B432" d="M941.5,442.6C941.7,440.9 941.4,438.6 942.9,436.8C944.3,435 947.8,433 950.4,431.8C952.9,430.7 955.5,429.7 958.2,429.7C960.8,429.6 964.2,430.3 966.4,431.5C968.5,432.8 970.4,435 971.1,437.2C971.8,439.4 971.6,442.8 970.5,444.8C969.3,446.8 966.7,448.1 964.2,449.1C961.7,450.1 958.3,450.5 955.4,450.6C952.4,450.7 948.9,450.4 946.6,449.8C944.3,449.1 942.6,447.9 941.7,446.7C940.9,445.6 941.3,444.3 941.5,442.6Z"/>
<path fill="#F6DC9C" d="M961.4,433.3C962.8,434 964.2,435.7 964.7,437C965.1,438.4 965,440.3 964.3,441.5C963.6,442.7 962.1,443.7 960.6,444C959.2,444.3 957.1,443.9 955.7,443.1C954.4,442.3 953,440.7 952.5,439.3C952.1,438 952.2,436.1 952.9,434.9C953.6,433.7 955.1,432.6 956.6,432.4C958,432.1 960.1,432.5 961.4,433.3Z"/>
<path fill="#0A0A0A" stroke="#0A0A0A" stroke-width="1.2" stroke-linejoin="round" d="M995.6,418.2 Q1005.5,431.9 991.7,441.6 Q996,430.3 995.6,418.2Z"/>
<path fill="#F6A9E0" d="M1064.5,416C1068.4,415.2 1074.1,414.1 1078.3,414.9C1082.5,415.6 1087,417.9 1089.7,420.6C1092.5,423.3 1094.1,427.3 1094.9,430.9C1095.7,434.6 1095.4,438.4 1094.4,442.4C1093.3,446.4 1091.1,451.4 1088.6,455.1C1086.1,458.7 1082.3,462.4 1079.4,464.2C1076.5,466.1 1074.4,466.5 1071.4,465.9C1068.3,465.3 1064.5,462.8 1061.1,460.8C1057.6,458.8 1053.2,456.9 1050.7,453.9C1048.3,450.8 1046.6,446.6 1046.2,442.4C1045.8,438.2 1046.9,432.5 1048.5,428.7C1050,424.8 1052.7,421.6 1055.4,419.5C1058,417.4 1060.7,416.8 1064.5,416Z"/>
<path fill="#D56DA9" d="M1087.9,439.6C1087.8,441.8 1085.8,444.6 1083.3,446C1080.9,447.4 1076.6,448.2 1073.4,447.9C1070.1,447.7 1066,446.1 1063.9,444.3C1061.7,442.5 1060.3,439.4 1060.5,437.2C1060.6,434.9 1062.6,432.2 1065.1,430.8C1067.5,429.4 1071.8,428.5 1075,428.8C1078.3,429.1 1082.4,430.7 1084.5,432.5C1086.7,434.3 1088.1,437.3 1087.9,439.6Z"/>
<g transform="translate(880.4 474.7) rotate(0)"><ellipse cx="0" cy="0" rx="6" ry="11" fill="#0A0A0A"/><line x1="5.9" y1="1.9" x2="9.4" y2="2.5" stroke="#0A0A0A" stroke-width="0.7"/><line x1="5.2" y1="5.5" x2="8.2" y2="7.2" stroke="#0A0A0A" stroke-width="0.7"/><line x1="3.9" y1="8.4" x2="6.1" y2="11.1" stroke="#0A0A0A" stroke-width="0.7"/><line x1="2.1" y1="10.3" x2="3.2" y2="13.6" stroke="#0A0A0A" stroke-width="0.7"/><line x1="0" y1="11" x2="0" y2="14.5" stroke="#0A0A0A" stroke-width="0.7"/><line x1="-2.1" y1="10.3" x2="-3.2" y2="13.6" stroke="#0A0A0A" stroke-width="0.7"/><line x1="-3.9" y1="8.4" x2="-6.1" y2="11.1" stroke="#0A0A0A" stroke-width="0.7"/><line x1="-5.2" y1="5.5" x2="-8.2" y2="7.3" stroke="#0A0A0A" stroke-width="0.7"/><line x1="-5.9" y1="1.9" x2="-9.4" y2="2.5" stroke="#0A0A0A" stroke-width="0.7"/><line x1="-5.9" y1="-1.9" x2="-9.4" y2="-2.5" stroke="#0A0A0A" stroke-width="0.7"/><line x1="-5.2" y1="-5.5" x2="-8.2" y2="-7.3" stroke="#0A0A0A" stroke-width="0.7"/><line x1="-3.9" y1="-8.4" x2="-6.1" y2="-11.1" stroke="#0A0A0A" stroke-width="0.7"/><line x1="-2.1" y1="-10.3" x2="-3.2" y2="-13.6" stroke="#0A0A0A" stroke-width="0.7"/><line x1="0" y1="-11" x2="0" y2="-14.5" stroke="#0A0A0A" stroke-width="0.7"/><line x1="2.1" y1="-10.3" x2="3.2" y2="-13.6" stroke="#0A0A0A" stroke-width="0.7"/><line x1="3.9" y1="-8.4" x2="6.1" y2="-11.1" stroke="#0A0A0A" stroke-width="0.7"/><line x1="5.2" y1="-5.5" x2="8.2" y2="-7.2" stroke="#0A0A0A" stroke-width="0.7"/><line x1="5.9" y1="-1.9" x2="9.4" y2="-2.5" stroke="#0A0A0A" stroke-width="0.7"/></g>
<path fill="#0A0A0A" stroke="#0A0A0A" stroke-width="1.2" stroke-linejoin="round" d="M941,474.7 Q937.9,490.5 953.5,494.7 Q946.1,485.4 941,474.7Z"/>
<path fill="#829D59" d="M1008.6,502.3C1006.2,503.5 1003.7,503.8 1000.9,503C998.1,502.2 994.6,500 991.7,497.7C988.8,495.4 985.7,492.2 983.6,489.1C981.5,486 980,482.2 979.2,479.2C978.5,476.1 978.2,472.9 979,470.6C979.8,468.2 981.6,466.4 984.2,465.1C986.8,463.7 991,463 994.9,462.6C998.7,462.3 1003.8,462.4 1007.3,463.1C1010.8,463.9 1013.9,465.3 1016,467.2C1018.1,469.1 1019.2,471.6 1019.7,474.5C1020.2,477.5 1019.6,481.4 1018.8,484.9C1018,488.5 1016.5,492.9 1014.8,495.8C1013.1,498.6 1010.9,501.1 1008.6,502.3Z"/>
<ellipse cx="1000.7" cy="478.5" rx="14" ry="9" fill="#B9C79D" transform="rotate(8 1000.7 478.5)"/>
<g transform="translate(1134 459) rotate(-40)"><ellipse cx="0" cy="0" rx="6" ry="11" fill="#0A0A0A"/><line x1="5.9" y1="1.9" x2="9.4" y2="2.5" stroke="#0A0A0A" stroke-width="0.7"/><line x1="5.2" y1="5.5" x2="8.2" y2="7.2" stroke="#0A0A0A" stroke-width="0.7"/><line x1="3.9" y1="8.4" x2="6.1" y2="11.1" stroke="#0A0A0A" stroke-width="0.7"/><line x1="2.1" y1="10.3" x2="3.2" y2="13.6" stroke="#0A0A0A" stroke-width="0.7"/><line x1="0" y1="11" x2="0" y2="14.5" stroke="#0A0A0A" stroke-width="0.7"/><line x1="-2.1" y1="10.3" x2="-3.2" y2="13.6" stroke="#0A0A0A" stroke-width="0.7"/><line x1="-3.9" y1="8.4" x2="-6.1" y2="11.1" stroke="#0A0A0A" stroke-width="0.7"/><line x1="-5.2" y1="5.5" x2="-8.2" y2="7.3" stroke="#0A0A0A" stroke-width="0.7"/><line x1="-5.9" y1="1.9" x2="-9.4" y2="2.5" stroke="#0A0A0A" stroke-width="0.7"/><line x1="-5.9" y1="-1.9" x2="-9.4" y2="-2.5" stroke="#0A0A0A" stroke-width="0.7"/><line x1="-5.2" y1="-5.5" x2="-8.2" y2="-7.3" stroke="#0A0A0A" stroke-width="0.7"/><line x1="-3.9" y1="-8.4" x2="-6.1" y2="-11.1" stroke="#0A0A0A" stroke-width="0.7"/><line x1="-2.1" y1="-10.3" x2="-3.2" y2="-13.6" stroke="#0A0A0A" stroke-width="0.7"/><line x1="0" y1="-11" x2="0" y2="-14.5" stroke="#0A0A0A" stroke-width="0.7"/><line x1="2.1" y1="-10.3" x2="3.2" y2="-13.6" stroke="#0A0A0A" stroke-width="0.7"/><line x1="3.9" y1="-8.4" x2="6.1" y2="-11.1" stroke="#0A0A0A" stroke-width="0.7"/><line x1="5.2" y1="-5.5" x2="8.2" y2="-7.2" stroke="#0A0A0A" stroke-width="0.7"/><line x1="5.9" y1="-1.9" x2="9.4" y2="-2.5" stroke="#0A0A0A" stroke-width="0.7"/></g>
<path fill="#8FC4EC" stroke="#8FC4EC" stroke-width="1.3" stroke-linejoin="round" d="M1080.4,502.6Q1081.7,511.7 1083.3,511.1Q1083.7,512.7 1091.9,508.7Q1087.6,516.8 1089.3,517.2Q1088.6,518.8 1097.6,520.4Q1089.4,524.4 1090.4,525.7Q1089,526.6 1095.3,533.2Q1086.3,531.6 1086.4,533.3Q1084.7,533.1 1086,542.2Q1079.6,535.6 1078.7,537Q1077.5,535.9 1073.2,544Q1071.9,534.9 1070.3,535.5Q1069.9,533.9 1061.7,537.9Q1066,529.8 1064.3,529.4Q1065,527.8 1056,526.2Q1064.2,522.2 1063.2,520.9Q1064.6,520 1058.3,513.4Q1067.3,515 1067.2,513.3Q1068.9,513.5 1067.6,504.4Q1074,511 1074.9,509.6Q1076.1,510.7 1080.4,502.6Z"/>
<circle cx="1076.8" cy="523.3" r="7.3" fill="#CFE5F5"/>
<path fill="#E27468" d="M911.5,502.6C914.3,501.3 920.1,500.2 923.5,499.9C926.9,499.6 929.9,499.9 931.9,500.8C933.9,501.7 934.4,501.9 935.7,505.4C937,508.8 938.3,516.3 939.6,521.7C940.9,527.1 943.2,533.7 943.6,537.5C943.9,541.3 943.4,542.9 941.8,544.5C940.2,546.1 936.5,547.3 933.8,547.1C931.2,547 929,546.1 925.8,543.7C922.6,541.3 918.2,536.2 914.9,532.7C911.5,529.1 907.5,525.2 905.6,522.3C903.8,519.5 903.7,518 903.9,515.6C904,513.3 905.1,510.2 906.3,508.1C907.6,505.9 908.6,504 911.5,502.6Z"/>
<path fill="#D0453A" d="M913.4,505.7C915.8,504.4 920.2,504.1 923.6,504.6C926.9,505.1 931.2,506.1 933.3,508.4C935.4,510.8 936.4,515.2 936.4,518.7C936.5,522.2 935.6,526.9 933.5,529.4C931.4,531.8 927.4,533.3 924.1,533.5C920.7,533.7 915.9,532.5 913.2,530.6C910.5,528.7 908.6,525.2 907.9,522.2C907.2,519.1 907.9,515 908.8,512.3C909.7,509.5 910.9,507 913.4,505.7Z"/>
<g transform="translate(1026.2 534.2) rotate(-35)"><path fill="#0A0A0A" d="M-11,0 C-11,-6 -4.4,-6 0,-3.2 C4.4,-6 11,-6 11,0 C11,6 4.4,6 0,3.2 C-4.4,6 -11,6 -11,0Z"/><line x1="-9.8" y1="-4" x2="-10.8" y2="-8" stroke="#0A0A0A" stroke-width="0.7"/><line x1="-9.8" y1="4" x2="-8.8" y2="8" stroke="#0A0A0A" stroke-width="0.7"/><line x1="-7.3" y1="-4" x2="-8.3" y2="-8" stroke="#0A0A0A" stroke-width="0.7"/><line x1="-7.3" y1="4" x2="-6.3" y2="8" stroke="#0A0A0A" stroke-width="0.7"/><line x1="-4.9" y1="-4" x2="-5.9" y2="-8" stroke="#0A0A0A" stroke-width="0.7"/><line x1="-4.9" y1="4" x2="-3.9" y2="8" stroke="#0A0A0A" stroke-width="0.7"/><line x1="-2.4" y1="-2.8" x2="-3.4" y2="-6.8" stroke="#0A0A0A" stroke-width="0.7"/><line x1="-2.4" y1="2.8" x2="-1.4" y2="6.8" stroke="#0A0A0A" stroke-width="0.7"/><line x1="0" y1="-2.8" x2="-1" y2="-6.8" stroke="#0A0A0A" stroke-width="0.7"/><line x1="0" y1="2.8" x2="1" y2="6.8" stroke="#0A0A0A" stroke-width="0.7"/><line x1="2.4" y1="-2.8" x2="1.4" y2="-6.8" stroke="#0A0A0A" stroke-width="0.7"/><line x1="2.4" y1="2.8" x2="3.4" y2="6.8" stroke="#0A0A0A" stroke-width="0.7"/><line x1="4.9" y1="-4" x2="3.9" y2="-8" stroke="#0A0A0A" stroke-width="0.7"/><line x1="4.9" y1="4" x2="5.9" y2="8" stroke="#0A0A0A" stroke-width="0.7"/><line x1="7.3" y1="-4" x2="6.3" y2="-8" stroke="#0A0A0A" stroke-width="0.7"/><line x1="7.3" y1="4" x2="8.3" y2="8" stroke="#0A0A0A" stroke-width="0.7"/><line x1="9.8" y1="-4" x2="8.8" y2="-8" stroke="#0A0A0A" stroke-width="0.7"/><line x1="9.8" y1="4" x2="10.8" y2="8" stroke="#0A0A0A" stroke-width="0.7"/><line x1="-11" y1="0" x2="-15" y2="0" stroke="#0A0A0A" stroke-width="0.7"/><line x1="11" y1="0" x2="15" y2="0" stroke="#0A0A0A" stroke-width="0.7"/></g>
<path fill="#8FC4EC" stroke="#8FC4EC" stroke-width="1.3" stroke-linejoin="round" d="M1163.7,397.6Q1166.5,406.3 1168,405.4Q1168.6,407 1176,401.6Q1173.2,410.3 1174.9,410.5Q1174.5,412.1 1183.7,412.1Q1176.3,417.5 1177.6,418.6Q1176.3,419.7 1183.7,425.1Q1174.5,425.1 1174.9,426.7Q1173.2,426.9 1176,435.6Q1168.6,430.2 1168,431.8Q1166.5,430.9 1163.7,439.6Q1160.9,430.9 1159.4,431.8Q1158.8,430.2 1151.4,435.6Q1154.2,426.9 1152.5,426.7Q1152.9,425.1 1143.7,425.1Q1151.1,419.7 1149.8,418.6Q1151.1,417.5 1143.7,412.1Q1152.9,412.1 1152.5,410.5Q1154.2,410.3 1151.4,401.6Q1158.8,407 1159.4,405.4Q1160.9,406.3 1163.7,397.6Z"/>
<circle cx="1163.7" cy="418.6" r="7.3" fill="#CFE5F5"/>
<path fill="#A99BB8" d="M1248.1,401.4C1250.4,400 1254.2,398.7 1257.4,398.5C1260.5,398.3 1264.3,398.7 1267,400.3C1269.7,401.9 1271.5,404.9 1273.6,408.1C1275.8,411.2 1278.4,416 1280,419.4C1281.5,422.8 1282.9,425.7 1282.8,428.7C1282.8,431.6 1281.2,435.3 1279.8,437.3C1278.3,439.2 1276.5,440.4 1274.1,440.4C1271.7,440.4 1268.6,438.9 1265.5,437.3C1262.4,435.8 1258.5,432.4 1255.4,431.1C1252.3,429.7 1249.1,430.4 1246.9,429.4C1244.8,428.4 1243.4,427.4 1242.4,425.1C1241.4,422.8 1240.9,418.7 1241,415.7C1241.1,412.7 1242.1,409.6 1243.2,407.2C1244.4,404.8 1245.7,402.8 1248.1,401.4Z"/>
<path fill="#8D7BA1" d="M1250,404.3C1251.9,403.2 1254.8,402.3 1257.3,402.2C1259.7,402 1262.7,402.3 1264.8,403.4C1266.9,404.5 1268.2,406.7 1269.9,408.9C1271.6,411.2 1273.6,414.6 1274.8,417.1C1276,419.5 1277,421.6 1277,423.7C1276.9,425.9 1275.7,428.5 1274.5,430C1273.4,431.4 1271.9,432.2 1270.1,432.2C1268.2,432.2 1265.8,431.2 1263.4,430.1C1261,429 1258,426.5 1255.6,425.6C1253.2,424.7 1250.7,425.2 1249,424.5C1247.3,423.8 1246.2,423 1245.4,421.4C1244.7,419.7 1244.3,416.8 1244.4,414.6C1244.5,412.5 1245.3,410.2 1246.2,408.5C1247.1,406.7 1248.2,405.3 1250,404.3Z"/>
<path fill="#E27468" d="M1204.5,445.7C1206.8,443.7 1212,441.3 1215.1,440.2C1218.2,439 1221,438.5 1223.1,438.9C1225.3,439.2 1225.7,439.2 1227.8,442.2C1229.9,445.1 1233,451.8 1235.6,456.5C1238.1,461.1 1242,466.8 1243.2,470.3C1244.5,473.7 1244.4,475.3 1243.3,477.2C1242.2,479.1 1239.1,481.2 1236.5,481.7C1234,482.2 1231.7,482 1228.2,480.5C1224.6,479 1219.2,475.4 1215.2,472.9C1211.2,470.4 1206.4,467.8 1204,465.6C1201.5,463.4 1201.1,462 1200.6,459.8C1200.1,457.5 1200.4,454.4 1201,452.1C1201.7,449.7 1202.1,447.7 1204.5,445.7Z"/>
<path fill="#D0453A" d="M1207,448.1C1209,446.3 1213.1,444.9 1216.3,444.5C1219.5,444.1 1223.8,444 1226.3,445.7C1228.9,447.3 1230.9,451.2 1231.8,454.4C1232.7,457.7 1233.1,462.3 1231.8,465.2C1230.5,468 1227.1,470.4 1224,471.4C1220.9,472.5 1216.1,472.5 1213.1,471.4C1210.1,470.3 1207.5,467.5 1206,464.8C1204.6,462.2 1204.2,458.2 1204.4,455.4C1204.5,452.6 1205.1,449.9 1207,448.1Z"/>
<line x1="1356.8" y1="429.3" x2="1339.5" y2="457.4" stroke="#0A0A0A" stroke-width="7.6" stroke-linecap="round"/>
<polyline points="1339.5,457.4 1337.8,458 1336.3,458.7 1335.1,459.7 1334.2,460.9 1333.8,462.5 1333.6,464.2 1333.5,466 1333.3,467.8 1333,469.4 1332.3,470.7 1331.2,471.8 1329.7,472.6 1328.1,473.2 1326.4,473.8 1324.8,474.5 1323.4,475.3 1322.5,476.5 1321.9,477.9 1321.6,479.6 1321.5,481.4" fill="none" stroke="#555" stroke-width="0.7"/>
<polyline points="1339.5,457.4 1339.4,459.2 1339.1,460.9 1338.5,462.3 1337.6,463.5 1336.2,464.3 1334.6,465 1332.9,465.6 1331.3,466.2 1329.8,467 1328.7,468.1 1328,469.4 1327.7,471 1327.5,472.8 1327.4,474.6 1327.2,476.3 1326.8,477.9 1325.9,479.1 1324.7,480.1 1323.2,480.8 1321.5,481.4" fill="none" stroke="#555" stroke-width="0.7"/>
<g fill="#0A0A0A" stroke="#0A0A0A"><circle cx="1369.8" cy="469.5" r="6.6" stroke="none"/><line x1="1375.8" y1="469.5" x2="1380.4" y2="469.5" stroke-width="1.2"/><circle cx="1380.4" cy="469.5" r="1.6" stroke="none"/><line x1="1375.2" y1="472.1" x2="1379.3" y2="474.1" stroke-width="1.2"/><circle cx="1379.3" cy="474.1" r="1.6" stroke="none"/><line x1="1373.5" y1="474.2" x2="1376.4" y2="477.8" stroke-width="1.2"/><circle cx="1376.4" cy="477.8" r="1.6" stroke="none"/><line x1="1371.1" y1="475.3" x2="1372.1" y2="479.8" stroke-width="1.2"/><circle cx="1372.1" cy="479.8" r="1.6" stroke="none"/><line x1="1368.5" y1="475.3" x2="1367.5" y2="479.8" stroke-width="1.2"/><circle cx="1367.5" cy="479.8" r="1.6" stroke="none"/><line x1="1366.1" y1="474.2" x2="1363.2" y2="477.8" stroke-width="1.2"/><circle cx="1363.2" cy="477.8" r="1.6" stroke="none"/><line x1="1364.4" y1="472.1" x2="1360.3" y2="474.1" stroke-width="1.2"/><circle cx="1360.3" cy="474.1" r="1.6" stroke="none"/><line x1="1363.8" y1="469.5" x2="1359.2" y2="469.5" stroke-width="1.2"/><circle cx="1359.2" cy="469.5" r="1.6" stroke="none"/><line x1="1364.4" y1="466.9" x2="1360.3" y2="464.9" stroke-width="1.2"/><circle cx="1360.3" cy="464.9" r="1.6" stroke="none"/><line x1="1366.1" y1="464.8" x2="1363.2" y2="461.2" stroke-width="1.2"/><circle cx="1363.2" cy="461.2" r="1.6" stroke="none"/><line x1="1368.5" y1="463.7" x2="1367.5" y2="459.2" stroke-width="1.2"/><circle cx="1367.5" cy="459.2" r="1.6" stroke="none"/><line x1="1371.1" y1="463.7" x2="1372.1" y2="459.2" stroke-width="1.2"/><circle cx="1372.1" cy="459.2" r="1.6" stroke="none"/><line x1="1373.5" y1="464.8" x2="1376.4" y2="461.2" stroke-width="1.2"/><circle cx="1376.4" cy="461.2" r="1.6" stroke="none"/><line x1="1375.2" y1="466.9" x2="1379.3" y2="464.9" stroke-width="1.2"/><circle cx="1379.3" cy="464.9" r="1.6" stroke="none"/></g>
<path fill="#BA7082" d="M1291.1,466.3C1294.5,467 1299,468.8 1301.9,471.4C1304.7,474 1307.1,478.5 1308.2,481.8C1309.3,485.1 1309,488 1308.2,491.2C1307.5,494.3 1305.8,497.9 1303.7,500.8C1301.5,503.8 1298.3,506.8 1295.3,508.7C1292.2,510.6 1288.2,512.3 1285.4,512.2C1282.5,512 1280.2,510.4 1277.9,507.9C1275.6,505.5 1273.1,501.2 1271.6,497.5C1270.1,493.7 1268.8,489.2 1269.1,485.4C1269.4,481.6 1271.3,477.5 1273.3,474.5C1275.4,471.5 1278.7,468.7 1281.6,467.3C1284.6,465.9 1287.8,465.6 1291.1,466.3Z"/>
<path fill="#A4445E" d="M1300.3,493.2C1299.1,496.1 1296.9,499.2 1294.6,501C1292.3,502.8 1289.2,504 1286.7,504.1C1284.3,504.1 1281.5,503 1279.7,501.2C1277.9,499.5 1276.5,496.4 1276.2,493.5C1275.8,490.7 1276.3,486.9 1277.5,484C1278.7,481.1 1281,478 1283.2,476.1C1285.5,474.3 1288.6,473.1 1291.1,473.1C1293.6,473 1296.3,474.2 1298.1,475.9C1299.9,477.7 1301.3,480.7 1301.6,483.6C1302,486.5 1301.5,490.3 1300.3,493.2Z"/>
<path fill="#E8B432" d="M1149,480.7C1150.7,480.9 1153,480.6 1154.8,482.1C1156.6,483.5 1158.6,487 1159.8,489.6C1160.9,492.1 1161.9,494.7 1161.9,497.4C1162,500 1161.3,503.4 1160.1,505.6C1158.8,507.7 1156.6,509.6 1154.4,510.3C1152.2,511 1148.8,510.8 1146.8,509.7C1144.8,508.5 1143.5,505.9 1142.5,503.4C1141.5,500.9 1141.1,497.5 1141,494.6C1140.9,491.6 1141.2,488.1 1141.8,485.8C1142.5,483.5 1143.7,481.8 1144.9,480.9C1146,480.1 1147.3,480.5 1149,480.7Z"/>
<path fill="#F6DC9C" d="M1158.3,500.6C1157.6,502 1155.9,503.4 1154.6,503.9C1153.2,504.3 1151.3,504.2 1150.1,503.5C1148.9,502.8 1147.9,501.3 1147.6,499.8C1147.3,498.4 1147.7,496.3 1148.5,494.9C1149.3,493.6 1150.9,492.2 1152.3,491.7C1153.6,491.3 1155.5,491.4 1156.7,492.1C1157.9,492.8 1159,494.3 1159.2,495.8C1159.5,497.2 1159.1,499.3 1158.3,500.6Z"/>
<path fill="#BA7082" d="M1225.7,505.5C1229.1,506.2 1233.6,508 1236.5,510.6C1239.3,513.2 1241.7,517.7 1242.8,521C1243.9,524.3 1243.6,527.2 1242.8,530.4C1242.1,533.5 1240.4,537.1 1238.3,540C1236.1,543 1232.9,546 1229.9,547.9C1226.8,549.8 1222.8,551.5 1220,551.4C1217.1,551.2 1214.8,549.6 1212.5,547.1C1210.2,544.7 1207.7,540.4 1206.2,536.7C1204.7,532.9 1203.4,528.4 1203.7,524.6C1204,520.8 1205.9,516.7 1207.9,513.7C1210,510.7 1213.3,507.9 1216.2,506.5C1219.2,505.1 1222.4,504.8 1225.7,505.5Z"/>
<path fill="#A4445E" d="M1234.9,532.4C1233.7,535.3 1231.5,538.4 1229.2,540.2C1226.9,542 1223.8,543.2 1221.3,543.3C1218.9,543.3 1216.1,542.2 1214.3,540.4C1212.5,538.7 1211.1,535.6 1210.8,532.7C1210.4,529.9 1210.9,526.1 1212.1,523.2C1213.3,520.3 1215.6,517.2 1217.8,515.3C1220.1,513.5 1223.2,512.3 1225.7,512.3C1228.2,512.2 1230.9,513.4 1232.7,515.1C1234.5,516.9 1235.9,519.9 1236.2,522.8C1236.6,525.7 1236.1,529.5 1234.9,532.4Z"/>
<g fill="#0A0A0A" stroke="#0A0A0A"><circle cx="1162.7" cy="539.4" r="6.6" stroke="none"/><line x1="1168.7" y1="539.4" x2="1173.3" y2="539.4" stroke-width="1.2"/><circle cx="1173.3" cy="539.4" r="1.6" stroke="none"/><line x1="1168.1" y1="542" x2="1172.2" y2="544" stroke-width="1.2"/><circle cx="1172.2" cy="544" r="1.6" stroke="none"/><line x1="1166.4" y1="544.1" x2="1169.3" y2="547.7" stroke-width="1.2"/><circle cx="1169.3" cy="547.7" r="1.6" stroke="none"/><line x1="1164" y1="545.2" x2="1165" y2="549.7" stroke-width="1.2"/><circle cx="1165" cy="549.7" r="1.6" stroke="none"/><line x1="1161.4" y1="545.2" x2="1160.4" y2="549.7" stroke-width="1.2"/><circle cx="1160.4" cy="549.7" r="1.6" stroke="none"/><line x1="1159" y1="544.1" x2="1156.1" y2="547.7" stroke-width="1.2"/><circle cx="1156.1" cy="547.7" r="1.6" stroke="none"/><line x1="1157.3" y1="542" x2="1153.2" y2="544" stroke-width="1.2"/><circle cx="1153.2" cy="544" r="1.6" stroke="none"/><line x1="1156.7" y1="539.4" x2="1152.1" y2="539.4" stroke-width="1.2"/><circle cx="1152.1" cy="539.4" r="1.6" stroke="none"/><line x1="1157.3" y1="536.8" x2="1153.2" y2="534.8" stroke-width="1.2"/><circle cx="1153.2" cy="534.8" r="1.6" stroke="none"/><line x1="1159" y1="534.7" x2="1156.1" y2="531.1" stroke-width="1.2"/><circle cx="1156.1" cy="531.1" r="1.6" stroke="none"/><line x1="1161.4" y1="533.6" x2="1160.4" y2="529.1" stroke-width="1.2"/><circle cx="1160.4" cy="529.1" r="1.6" stroke="none"/><line x1="1164" y1="533.6" x2="1165" y2="529.1" stroke-width="1.2"/><circle cx="1165" cy="529.1" r="1.6" stroke="none"/><line x1="1166.4" y1="534.7" x2="1169.3" y2="531.1" stroke-width="1.2"/><circle cx="1169.3" cy="531.1" r="1.6" stroke="none"/><line x1="1168.1" y1="536.8" x2="1172.2" y2="534.8" stroke-width="1.2"/><circle cx="1172.2" cy="534.8" r="1.6" stroke="none"/></g>
<g transform="translate(1296.6 534.2) rotate(20)"><path fill="#0A0A0A" d="M-12,0 C-12,-6 -4.8,-6 0,-3.2 C4.8,-6 12,-6 12,0 C12,6 4.8,6 0,3.2 C-4.8,6 -12,6 -12,0Z"/><line x1="-10.7" y1="-4" x2="-11.7" y2="-8" stroke="#0A0A0A" stroke-width="0.7"/><line x1="-10.7" y1="4" x2="-9.7" y2="8" stroke="#0A0A0A" stroke-width="0.7"/><line x1="-8" y1="-4" x2="-9" y2="-8" stroke="#0A0A0A" stroke-width="0.7"/><line x1="-8" y1="4" x2="-7" y2="8" stroke="#0A0A0A" stroke-width="0.7"/><line x1="-5.3" y1="-4" x2="-6.3" y2="-8" stroke="#0A0A0A" stroke-width="0.7"/><line x1="-5.3" y1="4" x2="-4.3" y2="8" stroke="#0A0A0A" stroke-width="0.7"/><line x1="-2.7" y1="-2.8" x2="-3.7" y2="-6.8" stroke="#0A0A0A" stroke-width="0.7"/><line x1="-2.7" y1="2.8" x2="-1.7" y2="6.8" stroke="#0A0A0A" stroke-width="0.7"/><line x1="0" y1="-2.8" x2="-1" y2="-6.8" stroke="#0A0A0A" stroke-width="0.7"/><line x1="0" y1="2.8" x2="1" y2="6.8" stroke="#0A0A0A" stroke-width="0.7"/><line x1="2.7" y1="-2.8" x2="1.7" y2="-6.8" stroke="#0A0A0A" stroke-width="0.7"/><line x1="2.7" y1="2.8" x2="3.7" y2="6.8" stroke="#0A0A0A" stroke-width="0.7"/><line x1="5.3" y1="-4" x2="4.3" y2="-8" stroke="#0A0A0A" stroke-width="0.7"/><line x1="5.3" y1="4" x2="6.3" y2="8" stroke="#0A0A0A" stroke-width="0.7"/><line x1="8" y1="-4" x2="7" y2="-8" stroke="#0A0A0A" stroke-width="0.7"/><line x1="8" y1="4" x2="9" y2="8" stroke="#0A0A0A" stroke-width="0.7"/><line x1="10.7" y1="-4" x2="9.7" y2="-8" stroke="#0A0A0A" stroke-width="0.7"/><line x1="10.7" y1="4" x2="11.7" y2="8" stroke="#0A0A0A" stroke-width="0.7"/><line x1="-12" y1="0" x2="-16" y2="0" stroke="#0A0A0A" stroke-width="0.7"/><line x1="12" y1="0" x2="16" y2="0" stroke="#0A0A0A" stroke-width="0.7"/></g>
<path fill="#A7A591" d="M1363.9,532.4C1362.2,534.3 1359.4,537.2 1356.6,538.6C1353.7,540 1350.5,540.6 1346.9,540.8C1343.3,540.9 1338.5,540.7 1334.9,539.5C1331.3,538.4 1327.6,536.1 1325.2,533.8C1322.7,531.4 1320.9,528.5 1320.2,525.6C1319.5,522.7 1319.8,519.5 1321,516.3C1322.2,513.2 1325,509.7 1327.4,506.6C1329.9,503.4 1333.5,499.2 1335.9,497.3C1338.2,495.4 1339.6,495 1341.6,495.2C1343.6,495.3 1345.2,495.8 1347.7,498.2C1350.3,500.7 1353.8,506.2 1356.7,510C1359.5,513.8 1363.2,518.2 1364.9,521.1C1366.6,523.9 1366.9,525 1366.7,526.9C1366.5,528.7 1365.6,530.4 1363.9,532.4Z"/>
<ellipse cx="1341.7" cy="523.5" rx="11" ry="8" fill="#CBC9BC" transform="rotate(15 1341.7 523.5)"/>
<path fill="#F6A9E0" d="M1283.9,556C1287.8,555.2 1293.5,554.1 1297.7,554.9C1301.9,555.6 1306.4,557.9 1309.1,560.6C1311.9,563.3 1313.5,567.3 1314.3,570.9C1315.1,574.6 1314.8,578.4 1313.8,582.4C1312.7,586.4 1310.5,591.4 1308,595.1C1305.5,598.7 1301.7,602.4 1298.8,604.2C1295.9,606 1293.8,606.5 1290.8,605.9C1287.7,605.3 1283.9,602.8 1280.5,600.8C1277,598.8 1272.6,596.9 1270.1,593.9C1267.7,590.8 1266,586.6 1265.6,582.4C1265.2,578.2 1266.3,572.5 1267.9,568.7C1269.4,564.8 1272.1,561.6 1274.8,559.5C1277.4,557.4 1280.1,556.8 1283.9,556Z"/>
<path fill="#D56DA9" d="M1307.3,579.6C1307.2,581.8 1305.2,584.6 1302.7,586C1300.3,587.4 1296,588.2 1292.8,587.9C1289.5,587.7 1285.4,586.1 1283.3,584.3C1281.1,582.5 1279.7,579.4 1279.9,577.2C1280,574.9 1282,572.2 1284.5,570.8C1286.9,569.4 1291.2,568.5 1294.4,568.8C1297.7,569.1 1301.8,570.7 1303.9,572.5C1306.1,574.3 1307.5,577.3 1307.3,579.6Z"/>
<path fill="#E8B432" d="M1366.9,556C1368.5,556 1370.6,555.4 1372.3,556.6C1374,557.8 1376,561 1377.2,563.3C1378.4,565.6 1379.3,568.1 1379.5,570.7C1379.6,573.3 1379.2,576.6 1378.1,578.9C1377.1,581.2 1375.1,583.3 1373.1,584.2C1371.2,585.1 1368,585.4 1366.2,584.5C1364.3,583.6 1362.9,581.3 1361.9,578.9C1360.9,576.6 1360.4,573.4 1360.2,570.5C1359.9,567.7 1360.1,564.1 1360.6,561.8C1361.1,559.5 1362.1,557.7 1363.1,556.7C1364.2,555.8 1365.4,556 1366.9,556Z"/>
<path fill="#F6DC9C" d="M1376.3,574.3C1375.7,575.7 1374.2,577.2 1373,577.9C1371.8,578.5 1370,578.6 1368.9,578.1C1367.8,577.6 1366.7,576.2 1366.4,574.8C1366.1,573.5 1366.4,571.4 1367,570C1367.7,568.5 1369.1,567 1370.4,566.4C1371.6,565.7 1373.4,565.6 1374.5,566.1C1375.6,566.7 1376.6,568.1 1376.9,569.4C1377.3,570.8 1377,572.9 1376.3,574.3Z"/>
<line x1="1209.6" y1="598.3" x2="1242.1" y2="618.4" stroke="#8E8E90" stroke-width="8" stroke-linecap="round"/>
<polyline points="1242.1,618.4 1242.5,619.9 1243,621.2 1243.7,622.2 1244.7,622.8 1246,623 1247.4,622.9 1249,622.8 1250.5,622.7 1251.8,622.8 1252.9,623.2 1253.7,624.1 1254.3,625.3 1254.7,626.8 1255.1,628.3 1255.5,629.7 1256.2,630.8 1257.1,631.5 1258.3,631.8 1259.7,631.9 1261.2,631.7" fill="none" stroke="#999" stroke-width="0.7"/>
<polyline points="1242.1,618.4 1243.6,618.2 1245,618.3 1246.2,618.6 1247.1,619.3 1247.8,620.4 1248.2,621.8 1248.6,623.3 1249,624.8 1249.6,626 1250.4,626.9 1251.5,627.3 1252.8,627.4 1254.3,627.3 1255.9,627.2 1257.3,627.1 1258.6,627.3 1259.6,627.9 1260.3,628.9 1260.8,630.2 1261.2,631.7" fill="none" stroke="#999" stroke-width="0.7"/>
<g fill="#0A0A0A" stroke="#0A0A0A"><circle cx="1345.4" cy="612" r="6.6" stroke="none"/><line x1="1351.4" y1="612" x2="1356" y2="612" stroke-width="1.2"/><circle cx="1356" cy="612" r="1.6" stroke="none"/><line x1="1350.8" y1="614.6" x2="1354.9" y2="616.6" stroke-width="1.2"/><circle cx="1354.9" cy="616.6" r="1.6" stroke="none"/><line x1="1349.1" y1="616.7" x2="1352" y2="620.3" stroke-width="1.2"/><circle cx="1352" cy="620.3" r="1.6" stroke="none"/><line x1="1346.7" y1="617.8" x2="1347.7" y2="622.3" stroke-width="1.2"/><circle cx="1347.7" cy="622.3" r="1.6" stroke="none"/><line x1="1344.1" y1="617.8" x2="1343.1" y2="622.3" stroke-width="1.2"/><circle cx="1343.1" cy="622.3" r="1.6" stroke="none"/><line x1="1341.7" y1="616.7" x2="1338.8" y2="620.3" stroke-width="1.2"/><circle cx="1338.8" cy="620.3" r="1.6" stroke="none"/><line x1="1340" y1="614.6" x2="1335.9" y2="616.6" stroke-width="1.2"/><circle cx="1335.9" cy="616.6" r="1.6" stroke="none"/><line x1="1339.4" y1="612" x2="1334.8" y2="612" stroke-width="1.2"/><circle cx="1334.8" cy="612" r="1.6" stroke="none"/><line x1="1340" y1="609.4" x2="1335.9" y2="607.4" stroke-width="1.2"/><circle cx="1335.9" cy="607.4" r="1.6" stroke="none"/><line x1="1341.7" y1="607.3" x2="1338.8" y2="603.7" stroke-width="1.2"/><circle cx="1338.8" cy="603.7" r="1.6" stroke="none"/><line x1="1344.1" y1="606.2" x2="1343.1" y2="601.7" stroke-width="1.2"/><circle cx="1343.1" cy="601.7" r="1.6" stroke="none"/><line x1="1346.7" y1="606.2" x2="1347.7" y2="601.7" stroke-width="1.2"/><circle cx="1347.7" cy="601.7" r="1.6" stroke="none"/><line x1="1349.1" y1="607.3" x2="1352" y2="603.7" stroke-width="1.2"/><circle cx="1352" cy="603.7" r="1.6" stroke="none"/><line x1="1350.8" y1="609.4" x2="1354.9" y2="607.4" stroke-width="1.2"/><circle cx="1354.9" cy="607.4" r="1.6" stroke="none"/></g>
<path fill="#E8B432" d="M891,600C892.6,600 894.7,599.4 896.4,600.6C898.1,601.8 900.1,605 901.3,607.3C902.5,609.6 903.4,612.1 903.6,614.7C903.7,617.3 903.3,620.6 902.2,622.9C901.2,625.2 899.2,627.3 897.2,628.2C895.3,629.1 892.1,629.4 890.3,628.5C888.4,627.6 887,625.3 886,622.9C885,620.6 884.5,617.4 884.3,614.5C884,611.7 884.2,608.1 884.7,605.8C885.2,603.5 886.2,601.7 887.2,600.7C888.3,599.8 889.5,600 891,600Z"/>
<path fill="#F6DC9C" d="M900.4,618.3C899.8,619.7 898.3,621.2 897.1,621.9C895.9,622.5 894.1,622.6 893,622.1C891.9,621.6 890.8,620.2 890.5,618.8C890.2,617.5 890.5,615.4 891.1,614C891.8,612.5 893.2,611 894.5,610.4C895.7,609.7 897.5,609.6 898.6,610.1C899.7,610.7 900.7,612.1 901,613.4C901.4,614.8 901.1,616.9 900.4,618.3Z"/>
<g transform="translate(993.6 616.4) rotate(30)"><ellipse cx="0" cy="0" rx="10" ry="7" fill="#8E8E90"/><line x1="9.8" y1="1.2" x2="13.3" y2="1.8" stroke="#8E8E90" stroke-width="0.7"/><line x1="8.7" y1="3.5" x2="11.7" y2="5.2" stroke="#8E8E90" stroke-width="0.7"/><line x1="6.4" y1="5.4" x2="8.7" y2="8" stroke="#8E8E90" stroke-width="0.7"/><line x1="3.4" y1="6.6" x2="4.6" y2="9.9" stroke="#8E8E90" stroke-width="0.7"/><line x1="0" y1="7" x2="0" y2="10.5" stroke="#8E8E90" stroke-width="0.7"/><line x1="-3.4" y1="6.6" x2="-4.6" y2="9.9" stroke="#8E8E90" stroke-width="0.7"/><line x1="-6.4" y1="5.4" x2="-8.7" y2="8" stroke="#8E8E90" stroke-width="0.7"/><line x1="-8.7" y1="3.5" x2="-11.7" y2="5.3" stroke="#8E8E90" stroke-width="0.7"/><line x1="-9.8" y1="1.2" x2="-13.3" y2="1.8" stroke="#8E8E90" stroke-width="0.7"/><line x1="-9.8" y1="-1.2" x2="-13.3" y2="-1.8" stroke="#8E8E90" stroke-width="0.7"/><line x1="-8.7" y1="-3.5" x2="-11.7" y2="-5.3" stroke="#8E8E90" stroke-width="0.7"/><line x1="-6.4" y1="-5.4" x2="-8.7" y2="-8" stroke="#8E8E90" stroke-width="0.7"/><line x1="-3.4" y1="-6.6" x2="-4.6" y2="-9.9" stroke="#8E8E90" stroke-width="0.7"/><line x1="0" y1="-7" x2="0" y2="-10.5" stroke="#8E8E90" stroke-width="0.7"/><line x1="3.4" y1="-6.6" x2="4.6" y2="-9.9" stroke="#8E8E90" stroke-width="0.7"/><line x1="6.4" y1="-5.4" x2="8.7" y2="-8" stroke="#8E8E90" stroke-width="0.7"/><line x1="8.7" y1="-3.5" x2="11.7" y2="-5.2" stroke="#8E8E90" stroke-width="0.7"/><line x1="9.8" y1="-1.2" x2="13.3" y2="-1.8" stroke="#8E8E90" stroke-width="0.7"/></g>
<path fill="#8E8E90" stroke="#8E8E90" stroke-width="1.2" stroke-linejoin="round" d="M1094.5,598 Q1084.3,609.1 1092,622 Q1090.7,609.7 1094.5,598Z"/>
<text transform="translate(880.8 589.2) scale(0.83 1.2)" font-family="'Noto Sans CJK JP', sans-serif" font-size="30" fill="#000" stroke="#000" stroke-width="0.25">→</text>
<text x="912.4" y="583" font-family="Liberation Sans, sans-serif" font-size="25.5" font-weight="normal" fill="#000" text-anchor="start" textLength="298.6" lengthAdjust="spacingAndGlyphs" stroke="#000" stroke-width="0.5">Microbial dissemination</text>
<path fill="#F08A8F" d="M225.3,790L225.3,657.2C225.4,652.2 226.1,648.6 227.1,648.2C228.2,648.6 229,652.2 229.1,657.2L229.1,672.8C229.1,675.7 232.9,675.7 232.9,672.8L232.9,657.2C233,652.2 233.8,648.6 234.9,648.2C236,648.6 236.8,652.2 236.9,657.2L236.9,672.8C236.9,675.7 240.7,675.7 240.7,672.8L240.7,657.2C240.8,652.2 241.6,648.6 242.7,648.2C243.8,648.6 244.6,652.2 244.7,657.2L244.7,672.8C244.7,675.7 248.5,675.7 248.5,672.8L248.5,657.2C248.6,652.2 249.4,648.6 250.5,648.2C251.6,648.6 252.4,652.2 252.5,657.2L252.5,672.8C252.5,675.7 256.3,675.7 256.3,672.8L256.3,657.2C256.4,652.2 257.2,648.6 258.3,648.2C259.4,648.6 260.2,652.2 260.3,657.2L260.3,672.8C260.3,675.7 264.1,675.7 264.1,672.8L264.1,657.2C264.2,652.2 265,648.6 266.1,648.2C267.2,648.6 268,652.2 268.1,657.2L268.1,672.8C268.1,675.7 271.9,675.7 271.9,672.8L271.9,657.2C272,652.2 272.8,648.6 273.9,648.2C275,648.6 275.8,652.2 275.9,657.2L275.9,672.8C275.9,675.7 279.7,675.7 279.7,672.8L279.7,657.2C279.8,652.2 280.6,648.6 281.7,648.2C282.8,648.6 283.6,652.2 283.7,657.2L283.7,672.8C283.7,675.7 287.5,675.7 287.5,672.8L287.5,657.2C287.6,652.2 288.4,648.6 289.5,648.2C290.5,648.6 291.2,652.2 291.3,657.2L291.3,790Q291.3,804 277.3,804L239.3,804Q225.3,804 225.3,790Z"/>
<path fill="#F08A8F" d="M296.8,790L296.8,657.2C296.9,652.2 297.6,648.6 298.6,648.2C299.7,648.6 300.5,652.2 300.6,657.2L300.6,672.8C300.6,675.7 304.4,675.7 304.4,672.8L304.4,657.2C304.5,652.2 305.3,648.6 306.4,648.2C307.5,648.6 308.3,652.2 308.4,657.2L308.4,672.8C308.4,675.7 312.2,675.7 312.2,672.8L312.2,657.2C312.3,652.2 313.1,648.6 314.2,648.2C315.3,648.6 316.1,652.2 316.2,657.2L316.2,672.8C316.2,675.7 320,675.7 320,672.8L320,657.2C320.1,652.2 320.9,648.6 322,648.2C323.1,648.6 323.9,652.2 324,657.2L324,672.8C324,675.7 327.8,675.7 327.8,672.8L327.8,657.2C327.9,652.2 328.7,648.6 329.8,648.2C330.9,648.6 331.7,652.2 331.8,657.2L331.8,672.8C331.8,675.7 335.6,675.7 335.6,672.8L335.6,657.2C335.7,652.2 336.5,648.6 337.6,648.2C338.7,648.6 339.5,652.2 339.6,657.2L339.6,672.8C339.6,675.7 343.4,675.7 343.4,672.8L343.4,657.2C343.5,652.2 344.3,648.6 345.4,648.2C346.5,648.6 347.3,652.2 347.4,657.2L347.4,672.8C347.4,675.7 351.2,675.7 351.2,672.8L351.2,657.2C351.3,652.2 352.1,648.6 353.2,648.2C354.3,648.6 355.1,652.2 355.2,657.2L355.2,672.8C355.2,675.7 359,675.7 359,672.8L359,657.2C359.1,652.2 359.9,648.6 361,648.2C362,648.6 362.7,652.2 362.8,657.2L362.8,790Q362.8,804 348.8,804L310.8,804Q296.8,804 296.8,790Z"/>
<path fill="#F08A8F" d="M368.3,790L368.3,657.2C368.4,652.2 369.1,648.6 370.1,648.2C371.2,648.6 372,652.2 372.1,657.2L372.1,672.8C372.1,675.7 375.9,675.7 375.9,672.8L375.9,657.2C376,652.2 376.8,648.6 377.9,648.2C379,648.6 379.8,652.2 379.9,657.2L379.9,672.8C379.9,675.7 383.7,675.7 383.7,672.8L383.7,657.2C383.8,652.2 384.6,648.6 385.7,648.2C386.8,648.6 387.6,652.2 387.7,657.2L387.7,672.8C387.7,675.7 391.5,675.7 391.5,672.8L391.5,657.2C391.6,652.2 392.4,648.6 393.5,648.2C394.6,648.6 395.4,652.2 395.5,657.2L395.5,672.8C395.5,675.7 399.3,675.7 399.3,672.8L399.3,657.2C399.4,652.2 400.2,648.6 401.3,648.2C402.4,648.6 403.2,652.2 403.3,657.2L403.3,672.8C403.3,675.7 407.1,675.7 407.1,672.8L407.1,657.2C407.2,652.2 408,648.6 409.1,648.2C410.2,648.6 411,652.2 411.1,657.2L411.1,672.8C411.1,675.7 414.9,675.7 414.9,672.8L414.9,657.2C415,652.2 415.8,648.6 416.9,648.2C418,648.6 418.8,652.2 418.9,657.2L418.9,672.8C418.9,675.7 422.7,675.7 422.7,672.8L422.7,657.2C422.8,652.2 423.6,648.6 424.7,648.2C425.8,648.6 426.6,652.2 426.7,657.2L426.7,672.8C426.7,675.7 430.5,675.7 430.5,672.8L430.5,657.2C430.6,652.2 431.4,648.6 432.5,648.2C433.5,648.6 434.2,652.2 434.3,657.2L434.3,790Q434.3,804 420.3,804L382.3,804Q368.3,804 368.3,790Z"/>
<path fill="#F08A8F" d="M530,790L530,657.2C530.1,652.2 530.8,648.6 531.8,648.2C532.9,648.6 533.7,652.2 533.8,657.2L533.8,672.8C533.8,675.7 537.6,675.7 537.6,672.8L537.6,657.2C537.7,652.2 538.5,648.6 539.6,648.2C540.7,648.6 541.5,652.2 541.6,657.2L541.6,672.8C541.6,675.7 545.4,675.7 545.4,672.8L545.4,657.2C545.5,652.2 546.3,648.6 547.4,648.2C548.5,648.6 549.3,652.2 549.4,657.2L549.4,672.8C549.4,675.7 553.2,675.7 553.2,672.8L553.2,657.2C553.3,652.2 554.1,648.6 555.2,648.2C556.3,648.6 557.1,652.2 557.2,657.2L557.2,672.8C557.2,675.7 561,675.7 561,672.8L561,657.2C561.1,652.2 561.9,648.6 563,648.2C564.1,648.6 564.9,652.2 565,657.2L565,672.8C565,675.7 568.8,675.7 568.8,672.8L568.8,657.2C568.9,652.2 569.7,648.6 570.8,648.2C571.9,648.6 572.7,652.2 572.8,657.2L572.8,672.8C572.8,675.7 576.6,675.7 576.6,672.8L576.6,657.2C576.7,652.2 577.5,648.6 578.6,648.2C579.7,648.6 580.5,652.2 580.6,657.2L580.6,672.8C580.6,675.7 584.4,675.7 584.4,672.8L584.4,657.2C584.5,652.2 585.3,648.6 586.4,648.2C587.5,648.6 588.3,652.2 588.4,657.2L588.4,672.8C588.4,675.7 592.2,675.7 592.2,672.8L592.2,657.2C592.3,652.2 593.1,648.6 594.2,648.2C595.2,648.6 595.9,652.2 596,657.2L596,790Q596,804 582,804L544,804Q530,804 530,790Z"/>
<path fill="#F08A8F" d="M601.5,790L601.5,657.2C601.6,652.2 602.3,648.6 603.3,648.2C604.4,648.6 605.2,652.2 605.3,657.2L605.3,672.8C605.3,675.7 609.1,675.7 609.1,672.8L609.1,657.2C609.2,652.2 610,648.6 611.1,648.2C612.2,648.6 613,652.2 613.1,657.2L613.1,672.8C613.1,675.7 616.9,675.7 616.9,672.8L616.9,657.2C617,652.2 617.8,648.6 618.9,648.2C620,648.6 620.8,652.2 620.9,657.2L620.9,672.8C620.9,675.7 624.7,675.7 624.7,672.8L624.7,657.2C624.8,652.2 625.6,648.6 626.7,648.2C627.8,648.6 628.6,652.2 628.7,657.2L628.7,672.8C628.7,675.7 632.5,675.7 632.5,672.8L632.5,657.2C632.6,652.2 633.4,648.6 634.5,648.2C635.6,648.6 636.4,652.2 636.5,657.2L636.5,672.8C636.5,675.7 640.3,675.7 640.3,672.8L640.3,657.2C640.4,652.2 641.2,648.6 642.3,648.2C643.4,648.6 644.2,652.2 644.3,657.2L644.3,672.8C644.3,675.7 648.1,675.7 648.1,672.8L648.1,657.2C648.2,652.2 649,648.6 650.1,648.2C651.2,648.6 652,652.2 652.1,657.2L652.1,672.8C652.1,675.7 655.9,675.7 655.9,672.8L655.9,657.2C656,652.2 656.8,648.6 657.9,648.2C659,648.6 659.8,652.2 659.9,657.2L659.9,672.8C659.9,675.7 663.7,675.7 663.7,672.8L663.7,657.2C663.8,652.2 664.6,648.6 665.7,648.2C666.7,648.6 667.4,652.2 667.5,657.2L667.5,790Q667.5,804 653.5,804L615.5,804Q601.5,804 601.5,790Z"/>
<path fill="#F08A8F" d="M673,790L673,657.2C673.1,652.2 673.8,648.6 674.8,648.2C675.9,648.6 676.7,652.2 676.8,657.2L676.8,672.8C676.8,675.7 680.6,675.7 680.6,672.8L680.6,657.2C680.7,652.2 681.5,648.6 682.6,648.2C683.7,648.6 684.5,652.2 684.6,657.2L684.6,672.8C684.6,675.7 688.4,675.7 688.4,672.8L688.4,657.2C688.5,652.2 689.3,648.6 690.4,648.2C691.5,648.6 692.3,652.2 692.4,657.2L692.4,672.8C692.4,675.7 696.2,675.7 696.2,672.8L696.2,657.2C696.3,652.2 697.1,648.6 698.2,648.2C699.3,648.6 700.1,652.2 700.2,657.2L700.2,672.8C700.2,675.7 704,675.7 704,672.8L704,657.2C704.1,652.2 704.9,648.6 706,648.2C707.1,648.6 707.9,652.2 708,657.2L708,672.8C708,675.7 711.8,675.7 711.8,672.8L711.8,657.2C711.9,652.2 712.7,648.6 713.8,648.2C714.9,648.6 715.7,652.2 715.8,657.2L715.8,672.8C715.8,675.7 719.6,675.7 719.6,672.8L719.6,657.2C719.7,652.2 720.5,648.6 721.6,648.2C722.7,648.6 723.5,652.2 723.6,657.2L723.6,672.8C723.6,675.7 727.4,675.7 727.4,672.8L727.4,657.2C727.5,652.2 728.3,648.6 729.4,648.2C730.5,648.6 731.3,652.2 731.4,657.2L731.4,672.8C731.4,675.7 735.2,675.7 735.2,672.8L735.2,657.2C735.3,652.2 736.1,648.6 737.2,648.2C738.2,648.6 738.9,652.2 739,657.2L739,790Q739,804 725,804L687,804Q673,804 673,790Z"/>
<path fill="#C9C9A8" d="M446,655C450.8,652 461,651 470,650C479,649 491.8,648.7 500,649C508.2,649.3 515.2,648.2 519,652C522.8,655.8 522.5,660.7 523,672C523.5,683.3 522.5,703.7 522,720C521.5,736.3 520,757.5 520,770C520,782.5 524.5,789.5 522,795C519.5,800.5 513.7,802.2 505,803C496.3,803.8 478.8,800.2 470,800C461.2,799.8 456.3,803.7 452,802C447.7,800.3 445.2,800.3 444,790C442.8,779.7 445.3,755 445,740C444.7,725 442.7,712 442,700C441.3,688 440.3,675.5 441,668C441.7,660.5 441.2,658 446,655Z"/>
<circle cx="257.5" cy="727.5" r="13.5" fill="#CD4539"/>
<circle cx="325" cy="696" r="13.5" fill="#CD4539"/>
<circle cx="401" cy="734" r="13.5" fill="#CD4539"/>
<circle cx="562" cy="727" r="13.5" fill="#CD4539"/>
<circle cx="632" cy="700" r="13.5" fill="#CD4539"/>
<circle cx="715" cy="721" r="13.5" fill="#CD4539"/>
<text transform="translate(244.5 778.8) scale(0.83 1.2)" font-family="'Noto Sans CJK JP', sans-serif" font-size="30" fill="#000" stroke="#000" stroke-width="0.25">→</text>
<text x="276.8" y="772.8" font-family="Liberation Sans, sans-serif" font-size="26.5" font-weight="normal" fill="#000" text-anchor="start" textLength="439.2" lengthAdjust="spacingAndGlyphs" stroke="#000" stroke-width="0.5">Maintenance of gut barrier integrity</text>
<path fill="#F08A8F" d="M867.2,790L867.2,657.2C867.3,652.2 868,648.6 869,648.2C870.1,648.6 870.9,652.2 871,657.2L871,672.8C871,675.7 874.7,675.7 874.7,672.8L874.7,657.2C874.8,652.2 875.6,648.6 876.7,648.2C877.8,648.6 878.6,652.2 878.7,657.2L878.7,672.8C878.7,675.7 882.4,675.7 882.4,672.8L882.4,657.2C882.5,652.2 883.2,648.6 884.4,648.2C885.5,648.6 886.2,652.2 886.4,657.2L886.4,672.8C886.4,675.7 890,675.7 890,672.8L890,657.2C890.1,652.2 890.9,648.6 892,648.2C893.1,648.6 893.9,652.2 894,657.2L894,672.8C894,675.7 897.7,675.7 897.7,672.8L897.7,657.2C897.8,652.2 898.6,648.6 899.7,648.2C900.8,648.6 901.6,652.2 901.7,657.2L901.7,672.8C901.7,675.7 905.4,675.7 905.4,672.8L905.4,657.2C905.5,652.2 906.3,648.6 907.4,648.2C908.5,648.6 909.3,652.2 909.4,657.2L909.4,672.8C909.4,675.7 913,675.7 913,672.8L913,657.2C913.1,652.2 913.9,648.6 915,648.2C916.1,648.6 916.9,652.2 917,657.2L917,672.8C917,675.7 920.7,675.7 920.7,672.8L920.7,657.2C920.8,652.2 921.6,648.6 922.7,648.2C923.8,648.6 924.6,652.2 924.7,657.2L924.7,672.8C924.7,675.7 928.4,675.7 928.4,672.8L928.4,657.2C928.5,652.2 929.3,648.6 930.4,648.2C931.4,648.6 932.1,652.2 932.2,657.2L932.2,790Q932.2,804 918.2,804L881.2,804Q867.2,804 867.2,790Z"/>
<path fill="#F08A8F" d="M979.5,790L979.5,657.2C979.6,652.2 980.3,648.6 981.3,648.2C982.4,648.6 983.2,652.2 983.3,657.2L983.3,672.8C983.3,675.7 987,675.7 987,672.8L987,657.2C987.1,652.2 987.9,648.6 989,648.2C990.1,648.6 990.9,652.2 991,657.2L991,672.8C991,675.7 994.6,675.7 994.6,672.8L994.6,657.2C994.8,652.2 995.5,648.6 996.6,648.2C997.8,648.6 998.5,652.2 998.6,657.2L998.6,672.8C998.6,675.7 1002.3,675.7 1002.3,672.8L1002.3,657.2C1002.4,652.2 1003.2,648.6 1004.3,648.2C1005.4,648.6 1006.2,652.2 1006.3,657.2L1006.3,672.8C1006.3,675.7 1010,675.7 1010,672.8L1010,657.2C1010.1,652.2 1010.9,648.6 1012,648.2C1013.1,648.6 1013.9,652.2 1014,657.2L1014,672.8C1014,675.7 1017.7,675.7 1017.7,672.8L1017.7,657.2C1017.8,652.2 1018.6,648.6 1019.7,648.2C1020.8,648.6 1021.6,652.2 1021.7,657.2L1021.7,672.8C1021.7,675.7 1025.3,675.7 1025.3,672.8L1025.3,657.2C1025.4,652.2 1026.2,648.6 1027.3,648.2C1028.4,648.6 1029.2,652.2 1029.3,657.2L1029.3,672.8C1029.3,675.7 1033,675.7 1033,672.8L1033,657.2C1033.1,652.2 1033.9,648.6 1035,648.2C1036.1,648.6 1036.9,652.2 1037,657.2L1037,672.8C1037,675.7 1040.7,675.7 1040.7,672.8L1040.7,657.2C1040.8,652.2 1041.6,648.6 1042.7,648.2C1043.7,648.6 1044.4,652.2 1044.5,657.2L1044.5,790Q1044.5,804 1030.5,804L993.5,804Q979.5,804 979.5,790Z"/>
<path fill="#F08A8F" d="M1091.7,790L1091.7,657.2C1091.8,652.2 1092.5,648.6 1093.5,648.2C1094.6,648.6 1095.4,652.2 1095.5,657.2L1095.5,672.8C1095.5,675.7 1099.2,675.7 1099.2,672.8L1099.2,657.2C1099.3,652.2 1100.1,648.6 1101.2,648.2C1102.3,648.6 1103.1,652.2 1103.2,657.2L1103.2,672.8C1103.2,675.7 1106.8,675.7 1106.8,672.8L1106.8,657.2C1106.9,652.2 1107.8,648.6 1108.8,648.2C1109.9,648.6 1110.8,652.2 1110.8,657.2L1110.8,672.8C1110.8,675.7 1114.5,675.7 1114.5,672.8L1114.5,657.2C1114.6,652.2 1115.4,648.6 1116.5,648.2C1117.6,648.6 1118.4,652.2 1118.5,657.2L1118.5,672.8C1118.5,675.7 1122.2,675.7 1122.2,672.8L1122.2,657.2C1122.3,652.2 1123.1,648.6 1124.2,648.2C1125.3,648.6 1126.1,652.2 1126.2,657.2L1126.2,672.8C1126.2,675.7 1129.9,675.7 1129.9,672.8L1129.9,657.2C1130,652.2 1130.8,648.6 1131.9,648.2C1133,648.6 1133.8,652.2 1133.9,657.2L1133.9,672.8C1133.9,675.7 1137.5,675.7 1137.5,672.8L1137.5,657.2C1137.6,652.2 1138.5,648.6 1139.5,648.2C1140.6,648.6 1141.5,652.2 1141.5,657.2L1141.5,672.8C1141.5,675.7 1145.2,675.7 1145.2,672.8L1145.2,657.2C1145.3,652.2 1146.1,648.6 1147.2,648.2C1148.3,648.6 1149.1,652.2 1149.2,657.2L1149.2,672.8C1149.2,675.7 1152.9,675.7 1152.9,672.8L1152.9,657.2C1153,652.2 1153.8,648.6 1154.9,648.2C1155.9,648.6 1156.6,652.2 1156.7,657.2L1156.7,790Q1156.7,804 1142.7,804L1105.7,804Q1091.7,804 1091.7,790Z"/>
<path fill="#F08A8F" d="M1203.9,790L1203.9,657.2C1204,652.2 1204.7,648.6 1205.7,648.2C1206.8,648.6 1207.6,652.2 1207.7,657.2L1207.7,672.8C1207.7,675.7 1211.4,675.7 1211.4,672.8L1211.4,657.2C1211.5,652.2 1212.3,648.6 1213.4,648.2C1214.5,648.6 1215.3,652.2 1215.4,657.2L1215.4,672.8C1215.4,675.7 1219,675.7 1219,672.8L1219,657.2C1219.1,652.2 1220,648.6 1221,648.2C1222.1,648.6 1223,652.2 1223,657.2L1223,672.8C1223,675.7 1226.7,675.7 1226.7,672.8L1226.7,657.2C1226.8,652.2 1227.6,648.6 1228.7,648.2C1229.8,648.6 1230.6,652.2 1230.7,657.2L1230.7,672.8C1230.7,675.7 1234.4,675.7 1234.4,672.8L1234.4,657.2C1234.5,652.2 1235.3,648.6 1236.4,648.2C1237.5,648.6 1238.3,652.2 1238.4,657.2L1238.4,672.8C1238.4,675.7 1242.1,675.7 1242.1,672.8L1242.1,657.2C1242.2,652.2 1243,648.6 1244.1,648.2C1245.2,648.6 1246,652.2 1246.1,657.2L1246.1,672.8C1246.1,675.7 1249.8,675.7 1249.8,672.8L1249.8,657.2C1249.8,652.2 1250.7,648.6 1251.8,648.2C1252.8,648.6 1253.7,652.2 1253.8,657.2L1253.8,672.8C1253.8,675.7 1257.4,675.7 1257.4,672.8L1257.4,657.2C1257.5,652.2 1258.3,648.6 1259.4,648.2C1260.5,648.6 1261.3,652.2 1261.4,657.2L1261.4,672.8C1261.4,675.7 1265.1,675.7 1265.1,672.8L1265.1,657.2C1265.2,652.2 1266,648.6 1267.1,648.2C1268.1,648.6 1268.8,652.2 1268.9,657.2L1268.9,790Q1268.9,804 1254.9,804L1217.9,804Q1203.9,804 1203.9,790Z"/>
<path fill="#F08A8F" d="M1316.1,790L1316.1,657.2C1316.2,652.2 1316.9,648.6 1317.9,648.2C1319,648.6 1319.8,652.2 1319.9,657.2L1319.9,672.8C1319.9,675.7 1323.6,675.7 1323.6,672.8L1323.6,657.2C1323.7,652.2 1324.5,648.6 1325.6,648.2C1326.7,648.6 1327.5,652.2 1327.6,657.2L1327.6,672.8C1327.6,675.7 1331.2,675.7 1331.2,672.8L1331.2,657.2C1331.3,652.2 1332.1,648.6 1333.2,648.2C1334.3,648.6 1335.1,652.2 1335.2,657.2L1335.2,672.8C1335.2,675.7 1338.9,675.7 1338.9,672.8L1338.9,657.2C1339,652.2 1339.8,648.6 1340.9,648.2C1342,648.6 1342.8,652.2 1342.9,657.2L1342.9,672.8C1342.9,675.7 1346.6,675.7 1346.6,672.8L1346.6,657.2C1346.7,652.2 1347.5,648.6 1348.6,648.2C1349.7,648.6 1350.5,652.2 1350.6,657.2L1350.6,672.8C1350.6,675.7 1354.3,675.7 1354.3,672.8L1354.3,657.2C1354.4,652.2 1355.2,648.6 1356.3,648.2C1357.4,648.6 1358.2,652.2 1358.3,657.2L1358.3,672.8C1358.3,675.7 1361.9,675.7 1361.9,672.8L1361.9,657.2C1362,652.2 1362.8,648.6 1363.9,648.2C1365,648.6 1365.8,652.2 1365.9,657.2L1365.9,672.8C1365.9,675.7 1369.6,675.7 1369.6,672.8L1369.6,657.2C1369.7,652.2 1370.5,648.6 1371.6,648.2C1372.7,648.6 1373.5,652.2 1373.6,657.2L1373.6,672.8C1373.6,675.7 1377.3,675.7 1377.3,672.8L1377.3,657.2C1377.4,652.2 1378.2,648.6 1379.3,648.2C1380.3,648.6 1381,652.2 1381.1,657.2L1381.1,790Q1381.1,804 1367.1,804L1330.1,804Q1316.1,804 1316.1,790Z"/>
<circle cx="899.5" cy="727.3" r="13.5" fill="#CD4539"/>
<circle cx="1001" cy="702" r="13.5" fill="#CD4539"/>
<circle cx="1124" cy="718.5" r="13.5" fill="#CD4539"/>
<circle cx="1235.5" cy="722" r="13.5" fill="#CD4539"/>
<circle cx="1357.5" cy="720.5" r="13.5" fill="#CD4539"/>
<ellipse cx="867.2" cy="698" rx="8" ry="6" fill="#D3CCDF" transform="rotate(-10 867.2 698)"/>
<ellipse cx="1060.4" cy="730.6" rx="6" ry="8" fill="#F8C3E8" transform="rotate(10 1060.4 730.6)"/>
<ellipse cx="1182.4" cy="644.8" rx="6" ry="6.5" fill="#EBC6B4"/>
<ellipse cx="1288.4" cy="645.8" rx="9" ry="6" fill="#BBDDF4" transform="rotate(-20 1288.4 645.8)"/>
<ellipse cx="1270.6" cy="697.9" rx="9" ry="6" fill="#DBB5C5" transform="rotate(-20 1270.6 697.9)"/>
<ellipse cx="1314.5" cy="731" rx="8" ry="6" fill="#F8C3E8" transform="rotate(10 1314.5 731)"/>
<ellipse cx="867.2" cy="791.3" rx="6" ry="9" fill="#BBDDF4" transform="rotate(-10 867.2 791.3)"/>
<ellipse cx="1062.7" cy="791.3" rx="7" ry="7" fill="#F2D27C"/>
<g transform="translate(873 654.6) rotate(30)"><path fill="#0A0A0A" d="M-12.5,0 C-12.5,-6.4 -5,-6.4 0,-3.4 C5,-6.4 12.5,-6.4 12.5,0 C12.5,6.4 5,6.4 0,3.4 C-5,6.4 -12.5,6.4 -12.5,0Z"/><line x1="-11.1" y1="-4.2" x2="-12.1" y2="-8.2" stroke="#0A0A0A" stroke-width="0.7"/><line x1="-11.1" y1="4.2" x2="-10.1" y2="8.2" stroke="#0A0A0A" stroke-width="0.7"/><line x1="-8.3" y1="-4.2" x2="-9.3" y2="-8.2" stroke="#0A0A0A" stroke-width="0.7"/><line x1="-8.3" y1="4.2" x2="-7.3" y2="8.2" stroke="#0A0A0A" stroke-width="0.7"/><line x1="-5.6" y1="-4.2" x2="-6.6" y2="-8.2" stroke="#0A0A0A" stroke-width="0.7"/><line x1="-5.6" y1="4.2" x2="-4.6" y2="8.2" stroke="#0A0A0A" stroke-width="0.7"/><line x1="-2.8" y1="-3" x2="-3.8" y2="-7" stroke="#0A0A0A" stroke-width="0.7"/><line x1="-2.8" y1="3" x2="-1.8" y2="7" stroke="#0A0A0A" stroke-width="0.7"/><line x1="0" y1="-3" x2="-1" y2="-7" stroke="#0A0A0A" stroke-width="0.7"/><line x1="0" y1="3" x2="1" y2="7" stroke="#0A0A0A" stroke-width="0.7"/><line x1="2.8" y1="-3" x2="1.8" y2="-7" stroke="#0A0A0A" stroke-width="0.7"/><line x1="2.8" y1="3" x2="3.8" y2="7" stroke="#0A0A0A" stroke-width="0.7"/><line x1="5.6" y1="-4.2" x2="4.6" y2="-8.2" stroke="#0A0A0A" stroke-width="0.7"/><line x1="5.6" y1="4.2" x2="6.6" y2="8.2" stroke="#0A0A0A" stroke-width="0.7"/><line x1="8.3" y1="-4.2" x2="7.3" y2="-8.2" stroke="#0A0A0A" stroke-width="0.7"/><line x1="8.3" y1="4.2" x2="9.3" y2="8.2" stroke="#0A0A0A" stroke-width="0.7"/><line x1="11.1" y1="-4.2" x2="10.1" y2="-8.2" stroke="#0A0A0A" stroke-width="0.7"/><line x1="11.1" y1="4.2" x2="12.1" y2="8.2" stroke="#0A0A0A" stroke-width="0.7"/><line x1="-12.5" y1="0" x2="-16.5" y2="0" stroke="#0A0A0A" stroke-width="0.7"/><line x1="12.5" y1="0" x2="16.5" y2="0" stroke="#0A0A0A" stroke-width="0.7"/></g>
<g transform="translate(971.4 649.9) rotate(0)"><ellipse cx="0" cy="0" rx="11" ry="7" fill="#0A0A0A"/><line x1="10.8" y1="1.2" x2="14.3" y2="1.8" stroke="#0A0A0A" stroke-width="0.7"/><line x1="9.5" y1="3.5" x2="12.6" y2="5.2" stroke="#0A0A0A" stroke-width="0.7"/><line x1="7.1" y1="5.4" x2="9.3" y2="8" stroke="#0A0A0A" stroke-width="0.7"/><line x1="3.8" y1="6.6" x2="5" y2="9.9" stroke="#0A0A0A" stroke-width="0.7"/><line x1="0" y1="7" x2="0" y2="10.5" stroke="#0A0A0A" stroke-width="0.7"/><line x1="-3.8" y1="6.6" x2="-5" y2="9.9" stroke="#0A0A0A" stroke-width="0.7"/><line x1="-7.1" y1="5.4" x2="-9.3" y2="8" stroke="#0A0A0A" stroke-width="0.7"/><line x1="-9.5" y1="3.5" x2="-12.6" y2="5.3" stroke="#0A0A0A" stroke-width="0.7"/><line x1="-10.8" y1="1.2" x2="-14.3" y2="1.8" stroke="#0A0A0A" stroke-width="0.7"/><line x1="-10.8" y1="-1.2" x2="-14.3" y2="-1.8" stroke="#0A0A0A" stroke-width="0.7"/><line x1="-9.5" y1="-3.5" x2="-12.6" y2="-5.3" stroke="#0A0A0A" stroke-width="0.7"/><line x1="-7.1" y1="-5.4" x2="-9.3" y2="-8" stroke="#0A0A0A" stroke-width="0.7"/><line x1="-3.8" y1="-6.6" x2="-5" y2="-9.9" stroke="#0A0A0A" stroke-width="0.7"/><line x1="0" y1="-7" x2="0" y2="-10.5" stroke="#0A0A0A" stroke-width="0.7"/><line x1="3.8" y1="-6.6" x2="5" y2="-9.9" stroke="#0A0A0A" stroke-width="0.7"/><line x1="7.1" y1="-5.4" x2="9.3" y2="-8" stroke="#0A0A0A" stroke-width="0.7"/><line x1="9.5" y1="-3.5" x2="12.6" y2="-5.2" stroke="#0A0A0A" stroke-width="0.7"/><line x1="10.8" y1="-1.2" x2="14.3" y2="-1.8" stroke="#0A0A0A" stroke-width="0.7"/></g>
<path fill="#F6A9E0" d="M1041.4,650C1045.3,649.2 1051,648.1 1055.2,648.9C1059.4,649.6 1063.9,651.9 1066.6,654.6C1069.4,657.3 1071,661.3 1071.8,664.9C1072.6,668.6 1072.3,672.4 1071.3,676.4C1070.2,680.4 1068,685.4 1065.5,689.1C1063,692.7 1059.2,696.4 1056.3,698.2C1053.4,700 1051.3,700.5 1048.3,699.9C1045.2,699.3 1041.4,696.8 1038,694.8C1034.5,692.8 1030.1,690.9 1027.6,687.9C1025.2,684.8 1023.5,680.6 1023.1,676.4C1022.7,672.2 1023.8,666.5 1025.4,662.7C1026.9,658.8 1029.6,655.6 1032.3,653.5C1034.9,651.4 1037.6,650.8 1041.4,650Z"/>
<path fill="#D56DA9" d="M1064.8,673.6C1064.7,675.8 1062.7,678.6 1060.2,680C1057.8,681.4 1053.5,682.2 1050.3,681.9C1047,681.7 1042.9,680.1 1040.8,678.3C1038.6,676.5 1037.2,673.4 1037.4,671.2C1037.5,668.9 1039.5,666.2 1042,664.8C1044.4,663.4 1048.7,662.5 1051.9,662.8C1055.2,663.1 1059.3,664.7 1061.4,666.5C1063.6,668.3 1065,671.3 1064.8,673.6Z"/>
<path fill="#E8B432" d="M950.7,678.4C952.3,678.4 954.4,677.8 956.1,679C957.8,680.2 959.8,683.4 961,685.7C962.2,688 963.1,690.5 963.3,693.1C963.4,695.7 963,699 961.9,701.3C960.9,703.6 958.9,705.7 956.9,706.6C955,707.5 951.8,707.8 950,706.9C948.1,706 946.7,703.7 945.7,701.3C944.7,699 944.2,695.8 944,692.9C943.7,690.1 943.9,686.5 944.4,684.2C944.9,681.9 945.9,680.1 946.9,679.1C948,678.2 949.2,678.4 950.7,678.4Z"/>
<path fill="#F6DC9C" d="M960.1,696.7C959.5,698.1 958,699.6 956.8,700.3C955.6,700.9 953.8,701 952.7,700.5C951.6,700 950.5,698.6 950.2,697.2C949.9,695.9 950.2,693.8 950.8,692.4C951.5,690.9 952.9,689.4 954.2,688.8C955.4,688.1 957.2,688 958.3,688.5C959.4,689.1 960.4,690.5 960.7,691.8C961.1,693.2 960.8,695.3 960.1,696.7Z"/>
<g fill="#0A0A0A" stroke="#0A0A0A"><circle cx="936" cy="729.2" r="6.6" stroke="none"/><line x1="942" y1="729.2" x2="946.6" y2="729.2" stroke-width="1.2"/><circle cx="946.6" cy="729.2" r="1.6" stroke="none"/><line x1="941.4" y1="731.8" x2="945.5" y2="733.8" stroke-width="1.2"/><circle cx="945.5" cy="733.8" r="1.6" stroke="none"/><line x1="939.7" y1="733.9" x2="942.6" y2="737.5" stroke-width="1.2"/><circle cx="942.6" cy="737.5" r="1.6" stroke="none"/><line x1="937.3" y1="735" x2="938.3" y2="739.5" stroke-width="1.2"/><circle cx="938.3" cy="739.5" r="1.6" stroke="none"/><line x1="934.7" y1="735" x2="933.7" y2="739.5" stroke-width="1.2"/><circle cx="933.7" cy="739.5" r="1.6" stroke="none"/><line x1="932.3" y1="733.9" x2="929.4" y2="737.5" stroke-width="1.2"/><circle cx="929.4" cy="737.5" r="1.6" stroke="none"/><line x1="930.6" y1="731.8" x2="926.5" y2="733.8" stroke-width="1.2"/><circle cx="926.5" cy="733.8" r="1.6" stroke="none"/><line x1="930" y1="729.2" x2="925.4" y2="729.2" stroke-width="1.2"/><circle cx="925.4" cy="729.2" r="1.6" stroke="none"/><line x1="930.6" y1="726.6" x2="926.5" y2="724.6" stroke-width="1.2"/><circle cx="926.5" cy="724.6" r="1.6" stroke="none"/><line x1="932.3" y1="724.5" x2="929.4" y2="720.9" stroke-width="1.2"/><circle cx="929.4" cy="720.9" r="1.6" stroke="none"/><line x1="934.7" y1="723.4" x2="933.7" y2="718.9" stroke-width="1.2"/><circle cx="933.7" cy="718.9" r="1.6" stroke="none"/><line x1="937.3" y1="723.4" x2="938.3" y2="718.9" stroke-width="1.2"/><circle cx="938.3" cy="718.9" r="1.6" stroke="none"/><line x1="939.7" y1="724.5" x2="942.6" y2="720.9" stroke-width="1.2"/><circle cx="942.6" cy="720.9" r="1.6" stroke="none"/><line x1="941.4" y1="726.6" x2="945.5" y2="724.6" stroke-width="1.2"/><circle cx="945.5" cy="724.6" r="1.6" stroke="none"/></g>
<path fill="none" stroke="#0A0A0A" stroke-width="2.8" stroke-linecap="round" d="M1148,621 C1140,619 1134,623 1135.3,630 C1136.5,636 1143,639 1141,645 C1139,650 1130,651 1127.8,655.5 C1126.5,660 1131,662 1136,662"/>
<path fill="#A7A591" d="M1166,668.9C1167.3,666.7 1169.6,663.3 1172.1,661.5C1174.7,659.6 1177.8,658.4 1181.3,657.6C1184.8,656.9 1189.5,656.3 1193.3,656.8C1197.1,657.3 1201.1,658.9 1203.9,660.8C1206.7,662.6 1209,665.2 1210.2,667.9C1211.4,670.7 1211.6,673.9 1211,677.2C1210.4,680.5 1208.3,684.4 1206.4,687.9C1204.5,691.5 1201.7,696.3 1199.7,698.6C1197.7,700.8 1196.4,701.5 1194.4,701.6C1192.5,701.8 1190.7,701.7 1187.8,699.7C1184.9,697.7 1180.5,692.9 1177,689.7C1173.5,686.4 1169.1,682.7 1167,680.2C1164.8,677.7 1164.4,676.7 1164.2,674.8C1164,672.9 1164.7,671.1 1166,668.9Z"/>
<ellipse cx="1187.4" cy="684" rx="11" ry="7" fill="#CBC9BC" transform="rotate(10 1187.4 684)"/>
<path fill="#8FC4EC" stroke="#8FC4EC" stroke-width="1.3" stroke-linejoin="round" d="M1311.6,662.5Q1313.7,671.4 1315.2,670.6Q1315.7,672.3 1323.6,667.6Q1320,676 1321.7,676.3Q1321.1,677.9 1330.3,678.7Q1322.4,683.4 1323.6,684.6Q1322.2,685.6 1329.1,691.6Q1320,690.8 1320.3,692.5Q1318.5,692.5 1320.6,701.4Q1313.7,695.4 1312.9,696.9Q1311.5,695.9 1308,704.3Q1305.9,695.4 1304.4,696.2Q1303.9,694.5 1296,699.2Q1299.6,690.8 1297.9,690.5Q1298.5,688.9 1289.3,688.1Q1297.2,683.4 1296,682.2Q1297.4,681.2 1290.5,675.2Q1299.6,676 1299.3,674.3Q1301.1,674.3 1299,665.4Q1305.9,671.4 1306.7,669.9Q1308.1,670.9 1311.6,662.5Z"/>
<circle cx="1309.8" cy="683.4" r="7.3" fill="#CFE5F5"/>
<path fill="#E8B432" d="M1374.3,696.9C1374.5,695.4 1374.2,693.3 1375.6,691.6C1376.9,690 1380.1,688.2 1382.5,687.1C1384.8,686 1387.2,685.2 1389.6,685.1C1392.1,685.1 1395.2,685.7 1397.2,686.8C1399.1,687.9 1400.9,689.9 1401.5,692C1402.1,694 1401.9,697.1 1400.9,698.9C1399.8,700.8 1397.5,702 1395.2,702.9C1392.9,703.8 1389.8,704.2 1387.1,704.3C1384.4,704.4 1381.1,704.1 1379,703.5C1376.9,702.9 1375.3,701.8 1374.6,700.8C1373.8,699.7 1374.2,698.5 1374.3,696.9Z"/>
<path fill="#F6DC9C" d="M1392.6,688.4C1393.9,689.1 1395.1,690.6 1395.6,691.8C1396,693.1 1395.9,694.9 1395.3,695.9C1394.6,697 1393.2,698 1391.9,698.2C1390.6,698.5 1388.6,698.1 1387.4,697.4C1386.2,696.7 1384.9,695.2 1384.5,694C1384,692.7 1384.2,690.9 1384.8,689.9C1385.4,688.8 1386.9,687.8 1388.2,687.6C1389.5,687.3 1391.4,687.7 1392.6,688.4Z"/>
<g transform="translate(1162.6 722.5) rotate(0)"><ellipse cx="0" cy="0" rx="11" ry="7" fill="#0A0A0A"/><line x1="10.8" y1="1.2" x2="14.3" y2="1.8" stroke="#0A0A0A" stroke-width="0.7"/><line x1="9.5" y1="3.5" x2="12.6" y2="5.2" stroke="#0A0A0A" stroke-width="0.7"/><line x1="7.1" y1="5.4" x2="9.3" y2="8" stroke="#0A0A0A" stroke-width="0.7"/><line x1="3.8" y1="6.6" x2="5" y2="9.9" stroke="#0A0A0A" stroke-width="0.7"/><line x1="0" y1="7" x2="0" y2="10.5" stroke="#0A0A0A" stroke-width="0.7"/><line x1="-3.8" y1="6.6" x2="-5" y2="9.9" stroke="#0A0A0A" stroke-width="0.7"/><line x1="-7.1" y1="5.4" x2="-9.3" y2="8" stroke="#0A0A0A" stroke-width="0.7"/><line x1="-9.5" y1="3.5" x2="-12.6" y2="5.3" stroke="#0A0A0A" stroke-width="0.7"/><line x1="-10.8" y1="1.2" x2="-14.3" y2="1.8" stroke="#0A0A0A" stroke-width="0.7"/><line x1="-10.8" y1="-1.2" x2="-14.3" y2="-1.8" stroke="#0A0A0A" stroke-width="0.7"/><line x1="-9.5" y1="-3.5" x2="-12.6" y2="-5.3" stroke="#0A0A0A" stroke-width="0.7"/><line x1="-7.1" y1="-5.4" x2="-9.3" y2="-8" stroke="#0A0A0A" stroke-width="0.7"/><line x1="-3.8" y1="-6.6" x2="-5" y2="-9.9" stroke="#0A0A0A" stroke-width="0.7"/><line x1="0" y1="-7" x2="0" y2="-10.5" stroke="#0A0A0A" stroke-width="0.7"/><line x1="3.8" y1="-6.6" x2="5" y2="-9.9" stroke="#0A0A0A" stroke-width="0.7"/><line x1="7.1" y1="-5.4" x2="9.3" y2="-8" stroke="#0A0A0A" stroke-width="0.7"/><line x1="9.5" y1="-3.5" x2="12.6" y2="-5.2" stroke="#0A0A0A" stroke-width="0.7"/><line x1="10.8" y1="-1.2" x2="14.3" y2="-1.8" stroke="#0A0A0A" stroke-width="0.7"/></g>
<line x1="1292.5" y1="779" x2="1287.6" y2="746" stroke="#0A0A0A" stroke-width="9" stroke-linecap="round"/>
<polyline points="1287.6,746 1288.5,744.5 1289.2,743.1 1289.4,741.6 1289.2,740.2 1288.6,738.9 1287.6,737.5 1286.5,736.2 1285.4,734.9 1284.7,733.6 1284.3,732.2 1284.4,730.8 1285,729.3 1285.8,727.8 1286.7,726.3 1287.5,724.9 1287.9,723.4 1287.9,722 1287.4,720.7 1286.5,719.3 1285.4,718" fill="none" stroke="#555" stroke-width="0.7"/>
<polyline points="1287.6,746 1286.5,744.7 1285.6,743.3 1285.1,742 1285.1,740.6 1285.5,739.1 1286.3,737.7 1287.2,736.2 1288,734.7 1288.6,733.2 1288.7,731.8 1288.3,730.4 1287.6,729.1 1286.5,727.8 1285.4,726.5 1284.4,725.1 1283.8,723.8 1283.6,722.4 1283.8,720.9 1284.5,719.5 1285.4,718" fill="none" stroke="#555" stroke-width="0.7"/>
<text transform="translate(879.6 778.7) scale(0.83 1.2)" font-family="'Noto Sans CJK JP', sans-serif" font-size="30" fill="#000" stroke="#000" stroke-width="0.25">→</text>
<text x="912.2" y="771.6" font-family="Liberation Sans, sans-serif" font-size="26.5" font-weight="normal" fill="#000" text-anchor="start" textLength="337.6" lengthAdjust="spacingAndGlyphs" stroke="#000" stroke-width="0.5">Loss of gut barrier integrity</text>
<ellipse cx="977.2" cy="823.2" rx="8" ry="6" fill="#F8C3E8" transform="rotate(10 977.2 823.2)"/>
<ellipse cx="1063.8" cy="835.2" rx="6" ry="8" fill="#EDB8B0"/>
<ellipse cx="884.4" cy="840.4" rx="9" ry="6" fill="#B6C39E" transform="rotate(-10 884.4 840.4)"/>
<ellipse cx="1053.7" cy="855.7" rx="9" ry="6" fill="#BBDDF4" transform="rotate(-15 1053.7 855.7)"/>
<ellipse cx="927.5" cy="872.4" rx="8" ry="6" fill="#F8C3E8" transform="rotate(10 927.5 872.4)"/>
<ellipse cx="979.1" cy="869.6" rx="7" ry="7" fill="#F2D27C"/>
<ellipse cx="997.6" cy="876.8" rx="6" ry="7" fill="#EDB8B0"/>
<ellipse cx="1180.4" cy="807.4" rx="9" ry="6" fill="#BBDDF4" transform="rotate(-20 1180.4 807.4)"/>
<ellipse cx="1278.5" cy="803.8" rx="6" ry="7" fill="#EBC6B4"/>
<ellipse cx="1282.8" cy="840" rx="7" ry="7" fill="#F2D27C"/>
<ellipse cx="1350.8" cy="848" rx="6" ry="9" fill="#DBB5C5" transform="rotate(-10 1350.8 848)"/>
<ellipse cx="1377.9" cy="846" rx="9" ry="6" fill="#B6C39E" transform="rotate(20 1377.9 846)"/>
<ellipse cx="1322" cy="855.9" rx="8" ry="6" fill="#F8C3E8" transform="rotate(10 1322 855.9)"/>
<ellipse cx="1208.2" cy="865.8" rx="6" ry="9" fill="#B6C39E" transform="rotate(20 1208.2 865.8)"/>
<ellipse cx="1259.7" cy="867.8" rx="9" ry="6" fill="#BBDDF4" transform="rotate(-10 1259.7 867.8)"/>
<ellipse cx="1057" cy="891.6" rx="6" ry="8" fill="#F8C3E8"/>
<ellipse cx="1033.6" cy="929.8" rx="6" ry="9" fill="#BBDDF4" transform="rotate(-10 1033.6 929.8)"/>
<ellipse cx="1064.6" cy="938.4" rx="6" ry="9" fill="#B6C39E" transform="rotate(-10 1064.6 938.4)"/>
<ellipse cx="979.1" cy="948.9" rx="6" ry="8" fill="#F2D27C"/>
<ellipse cx="866.3" cy="970" rx="7" ry="6" fill="#EDB8B0" transform="rotate(-10 866.3 970)"/>
<ellipse cx="1069" cy="971" rx="6" ry="8" fill="#F2D27C"/>
<ellipse cx="1203.6" cy="902" rx="9" ry="6" fill="#BBDDF4" transform="rotate(-15 1203.6 902)"/>
<ellipse cx="1322.5" cy="913.5" rx="7" ry="7" fill="#F2D27C"/>
<ellipse cx="1375.2" cy="915.5" rx="8" ry="6" fill="#D3CCDF" transform="rotate(10 1375.2 915.5)"/>
<ellipse cx="1165.6" cy="919" rx="8" ry="6" fill="#F8C3E8" transform="rotate(10 1165.6 919)"/>
<ellipse cx="1154.7" cy="964.6" rx="6" ry="8" fill="#F2D27C"/>
<ellipse cx="1247.8" cy="956" rx="6" ry="8" fill="#F2D27C"/>
<ellipse cx="1306.2" cy="963" rx="8" ry="6" fill="#D3CCDF" transform="rotate(10 1306.2 963)"/>
<ellipse cx="1334" cy="975.9" rx="9" ry="6" fill="#DBB5C5" transform="rotate(-15 1334 975.9)"/>
<ellipse cx="1330" cy="887.7" rx="6" ry="8" fill="#D3CCDF"/>
<path fill="#E27468" d="M927.2,813.8C930,812.2 935.7,810.7 939,810.1C942.4,809.5 945.4,809.5 947.5,810.2C949.5,810.9 950,811 951.6,814.4C953.2,817.8 955.2,825.1 956.9,830.3C958.7,835.6 961.6,842 962.3,845.8C963,849.5 962.6,851.1 961.1,852.8C959.6,854.6 956.1,856.1 953.4,856.2C950.7,856.3 948.5,855.6 945.1,853.5C941.7,851.3 936.9,846.7 933.3,843.4C929.6,840.2 925.2,836.6 923.1,833.9C921.1,831.3 920.9,829.8 920.8,827.4C920.7,825 921.5,821.9 922.6,819.7C923.7,817.4 924.5,815.4 927.2,813.8Z"/>
<path fill="#D0453A" d="M929.4,816.7C931.8,815.2 936.1,814.5 939.5,814.7C942.8,814.9 947.2,815.5 949.5,817.7C951.8,819.8 953.2,824.1 953.5,827.6C953.9,831.1 953.3,835.9 951.5,838.5C949.7,841.2 945.8,843 942.5,843.5C939.1,844 934.3,843.1 931.4,841.5C928.6,839.8 926.4,836.5 925.4,833.6C924.4,830.6 924.7,826.4 925.4,823.6C926.1,820.8 927.1,818.2 929.4,816.7Z"/>
<path fill="#8FC4EC" stroke="#8FC4EC" stroke-width="1.3" stroke-linejoin="round" d="M1034.3,795.5Q1036.7,804.4 1038.2,803.6Q1038.7,805.2 1046.4,800.2Q1043.1,808.7 1044.8,809Q1044.3,810.6 1053.5,811.1Q1045.8,816.1 1047,817.2Q1045.7,818.3 1052.8,824Q1043.7,823.5 1044,825.2Q1042.3,825.3 1044.6,834.1Q1037.5,828.3 1036.8,829.9Q1035.4,828.9 1032.1,837.5Q1029.7,828.6 1028.2,829.4Q1027.7,827.8 1020,832.8Q1023.3,824.3 1021.6,824Q1022.1,822.4 1012.9,821.9Q1020.6,816.9 1019.4,815.8Q1020.7,814.7 1013.6,809Q1022.7,809.5 1022.4,807.8Q1024.1,807.7 1021.8,798.9Q1028.9,804.7 1029.6,803.1Q1031,804.1 1034.3,795.5Z"/>
<circle cx="1033.2" cy="816.5" r="7.3" fill="#CFE5F5"/>
<line x1="1036.5" y1="872" x2="1004.9" y2="852.8" stroke="#0A0A0A" stroke-width="9" stroke-linecap="round"/>
<polyline points="1004.9,852.8 1004.3,851.2 1003.6,849.7 1002.7,848.6 1001.5,847.9 1000.1,847.5 998.4,847.4 996.7,847.4 995,847.4 993.5,847.1 992.2,846.5 991.2,845.5 990.4,844.1 989.8,842.6 989.3,840.9 988.6,839.4 987.8,838.1 986.7,837.3 985.3,836.8 983.7,836.6 982,836.6" fill="none" stroke="#555" stroke-width="0.7"/>
<polyline points="1004.9,852.8 1003.2,852.8 1001.6,852.6 1000.2,852.1 999.1,851.3 998.3,850 997.6,848.5 997.1,846.8 996.5,845.3 995.7,843.9 994.7,842.9 993.4,842.3 991.9,842 990.2,842 988.5,842 986.8,841.9 985.4,841.5 984.2,840.8 983.3,839.7 982.6,838.2 982,836.6" fill="none" stroke="#555" stroke-width="0.7"/>
<path fill="#A7A591" d="M1121.1,865.1C1119.5,867.2 1117,870.3 1114.3,871.9C1111.6,873.6 1108.4,874.5 1104.8,874.9C1101.2,875.4 1096.5,875.6 1092.8,874.8C1089.1,873.9 1085.2,871.9 1082.6,869.8C1080,867.8 1077.9,865 1076.9,862.2C1076,859.4 1076,856.1 1076.9,852.9C1077.8,849.6 1080.3,846 1082.5,842.6C1084.7,839.2 1087.9,834.7 1090,832.6C1092.2,830.5 1093.6,830 1095.5,830C1097.5,830 1099.2,830.3 1102,832.5C1104.7,834.7 1108.7,839.9 1111.9,843.4C1115.1,847 1119.2,851.1 1121.1,853.7C1123,856.4 1123.3,857.5 1123.3,859.4C1123.3,861.3 1122.6,863 1121.1,865.1Z"/>
<ellipse cx="1096.7" cy="857.6" rx="11" ry="7.5" fill="#CBC9BC" transform="rotate(10 1096.7 857.6)"/>
<path fill="#8FC4EC" stroke="#8FC4EC" stroke-width="1.3" stroke-linejoin="round" d="M1325.8,788.4Q1327.7,797.4 1329.2,796.6Q1329.7,798.3 1337.7,793.7Q1333.9,802.1 1335.6,802.4Q1335,804 1344.1,804.9Q1336.2,809.5 1337.4,810.7Q1336,811.7 1342.8,817.8Q1333.7,816.9 1333.9,818.6Q1332.2,818.5 1334.1,827.5Q1327.3,821.3 1326.5,822.9Q1325.1,821.8 1321.4,830.2Q1319.5,821.2 1318,822Q1317.5,820.3 1309.5,824.9Q1313.3,816.5 1311.6,816.2Q1312.2,814.6 1303.1,813.7Q1311,809.1 1309.8,807.9Q1311.2,806.9 1304.4,800.8Q1313.5,801.7 1313.3,800Q1315,800.1 1313.1,791.1Q1319.9,797.3 1320.7,795.7Q1322.1,796.8 1325.8,788.4Z"/>
<circle cx="1323.6" cy="809.3" r="7.3" fill="#CFE5F5"/>
<path fill="#0A0A0A" stroke="#0A0A0A" stroke-width="1.2" stroke-linejoin="round" d="M1136.8,844 Q1141.5,829.4 1156.6,832 Q1146.3,837.3 1136.8,844Z"/>
<path fill="#829D59" d="M1248.1,853.9C1245.7,854.9 1243.2,855 1240.5,854C1237.7,853 1234.4,850.4 1231.8,847.9C1229.1,845.3 1226.2,841.9 1224.4,838.6C1222.6,835.4 1221.4,831.5 1220.9,828.3C1220.4,825.2 1220.4,822 1221.5,819.8C1222.5,817.5 1224.4,815.8 1227.1,814.7C1229.9,813.6 1234.1,813.2 1237.9,813.2C1241.8,813.2 1246.9,813.7 1250.3,814.8C1253.7,815.9 1256.7,817.6 1258.6,819.6C1260.5,821.7 1261.4,824.2 1261.7,827.2C1261.9,830.2 1261,834.1 1259.9,837.5C1258.7,841 1256.9,845.2 1255,848C1253,850.7 1250.6,852.9 1248.1,853.9Z"/>
<ellipse cx="1242.5" cy="830.3" rx="13" ry="8" fill="#B9C79D" transform="rotate(8 1242.5 830.3)"/>
<path fill="#829D59" d="M894.3,907.3C891.9,908.5 889.4,908.8 886.6,908C883.8,907.2 880.3,905 877.4,902.7C874.5,900.4 871.4,897.2 869.3,894.1C867.2,891 865.7,887.2 864.9,884.2C864.2,881.1 863.9,877.9 864.7,875.6C865.5,873.2 867.3,871.4 869.9,870.1C872.5,868.7 876.7,868 880.6,867.6C884.4,867.3 889.5,867.4 893,868.1C896.5,868.9 899.6,870.3 901.7,872.2C903.8,874.1 904.9,876.6 905.4,879.5C905.9,882.5 905.3,886.4 904.5,889.9C903.7,893.5 902.2,897.9 900.5,900.8C898.8,903.6 896.6,906.1 894.3,907.3Z"/>
<ellipse cx="886.3" cy="883.2" rx="14" ry="8.5" fill="#B9C79D" transform="rotate(5 886.3 883.2)"/>
<path fill="#F6A9E0" d="M948.4,885.9C952.4,885.1 958.3,883.9 962.6,884.7C967,885.5 971.6,887.9 974.5,890.7C977.3,893.4 979,897.6 979.8,901.3C980.6,905.1 980.3,909 979.3,913.2C978.2,917.3 975.9,922.5 973.3,926.3C970.7,930 966.8,933.9 963.8,935.7C960.8,937.6 958.7,938.1 955.5,937.5C952.3,936.9 948.4,934.2 944.8,932.2C941.3,930.1 936.7,928.2 934.2,925C931.6,921.9 929.9,917.5 929.5,913.2C929.1,908.8 930.2,902.9 931.8,899C933.4,895 936.2,891.7 939,889.5C941.7,887.3 944.5,886.7 948.4,885.9Z"/>
<path fill="#D56DA9" d="M972.6,910.3C972.4,912.6 970.4,915.5 967.9,916.9C965.3,918.3 960.9,919.2 957.6,918.9C954.2,918.6 950,917 947.8,915.1C945.5,913.3 944,910.1 944.2,907.8C944.4,905.5 946.5,902.6 949,901.2C951.5,899.7 955.9,898.9 959.3,899.1C962.6,899.4 966.9,901.1 969.1,902.9C971.3,904.8 972.8,907.9 972.6,910.3Z"/>
<path fill="#8E8E90" stroke="#8E8E90" stroke-width="1.2" stroke-linejoin="round" d="M915.5,906.5 Q903.4,916.4 911,930 Q910.9,917.8 915.5,906.5Z"/>
<g fill="#0A0A0A" stroke="#0A0A0A"><circle cx="886" cy="932.7" r="6.9" stroke="none"/><line x1="892.2" y1="932.7" x2="897" y2="932.7" stroke-width="1.2"/><circle cx="897" cy="932.7" r="1.6" stroke="none"/><line x1="891.6" y1="935.4" x2="895.9" y2="937.5" stroke-width="1.2"/><circle cx="895.9" cy="937.5" r="1.6" stroke="none"/><line x1="889.9" y1="937.6" x2="892.9" y2="941.3" stroke-width="1.2"/><circle cx="892.9" cy="941.3" r="1.6" stroke="none"/><line x1="887.4" y1="938.8" x2="888.4" y2="943.4" stroke-width="1.2"/><circle cx="888.4" cy="943.4" r="1.6" stroke="none"/><line x1="884.6" y1="938.8" x2="883.6" y2="943.4" stroke-width="1.2"/><circle cx="883.6" cy="943.4" r="1.6" stroke="none"/><line x1="882.1" y1="937.6" x2="879.1" y2="941.3" stroke-width="1.2"/><circle cx="879.1" cy="941.3" r="1.6" stroke="none"/><line x1="880.4" y1="935.4" x2="876.1" y2="937.5" stroke-width="1.2"/><circle cx="876.1" cy="937.5" r="1.6" stroke="none"/><line x1="879.8" y1="932.7" x2="875" y2="932.7" stroke-width="1.2"/><circle cx="875" cy="932.7" r="1.6" stroke="none"/><line x1="880.4" y1="930" x2="876.1" y2="927.9" stroke-width="1.2"/><circle cx="876.1" cy="927.9" r="1.6" stroke="none"/><line x1="882.1" y1="927.8" x2="879.1" y2="924.1" stroke-width="1.2"/><circle cx="879.1" cy="924.1" r="1.6" stroke="none"/><line x1="884.6" y1="926.6" x2="883.6" y2="922" stroke-width="1.2"/><circle cx="883.6" cy="922" r="1.6" stroke="none"/><line x1="887.4" y1="926.6" x2="888.4" y2="922" stroke-width="1.2"/><circle cx="888.4" cy="922" r="1.6" stroke="none"/><line x1="889.9" y1="927.8" x2="892.9" y2="924.1" stroke-width="1.2"/><circle cx="892.9" cy="924.1" r="1.6" stroke="none"/><line x1="891.6" y1="930" x2="895.9" y2="927.9" stroke-width="1.2"/><circle cx="895.9" cy="927.9" r="1.6" stroke="none"/></g>
<g transform="translate(1015.4 908.8) rotate(-20)"><ellipse cx="0" cy="0" rx="10" ry="7" fill="#8E8E90"/><line x1="9.8" y1="1.2" x2="13.3" y2="1.8" stroke="#8E8E90" stroke-width="0.7"/><line x1="8.7" y1="3.5" x2="11.7" y2="5.2" stroke="#8E8E90" stroke-width="0.7"/><line x1="6.4" y1="5.4" x2="8.7" y2="8" stroke="#8E8E90" stroke-width="0.7"/><line x1="3.4" y1="6.6" x2="4.6" y2="9.9" stroke="#8E8E90" stroke-width="0.7"/><line x1="0" y1="7" x2="0" y2="10.5" stroke="#8E8E90" stroke-width="0.7"/><line x1="-3.4" y1="6.6" x2="-4.6" y2="9.9" stroke="#8E8E90" stroke-width="0.7"/><line x1="-6.4" y1="5.4" x2="-8.7" y2="8" stroke="#8E8E90" stroke-width="0.7"/><line x1="-8.7" y1="3.5" x2="-11.7" y2="5.3" stroke="#8E8E90" stroke-width="0.7"/><line x1="-9.8" y1="1.2" x2="-13.3" y2="1.8" stroke="#8E8E90" stroke-width="0.7"/><line x1="-9.8" y1="-1.2" x2="-13.3" y2="-1.8" stroke="#8E8E90" stroke-width="0.7"/><line x1="-8.7" y1="-3.5" x2="-11.7" y2="-5.3" stroke="#8E8E90" stroke-width="0.7"/><line x1="-6.4" y1="-5.4" x2="-8.7" y2="-8" stroke="#8E8E90" stroke-width="0.7"/><line x1="-3.4" y1="-6.6" x2="-4.6" y2="-9.9" stroke="#8E8E90" stroke-width="0.7"/><line x1="0" y1="-7" x2="0" y2="-10.5" stroke="#8E8E90" stroke-width="0.7"/><line x1="3.4" y1="-6.6" x2="4.6" y2="-9.9" stroke="#8E8E90" stroke-width="0.7"/><line x1="6.4" y1="-5.4" x2="8.7" y2="-8" stroke="#8E8E90" stroke-width="0.7"/><line x1="8.7" y1="-3.5" x2="11.7" y2="-5.2" stroke="#8E8E90" stroke-width="0.7"/><line x1="9.8" y1="-1.2" x2="13.3" y2="-1.8" stroke="#8E8E90" stroke-width="0.7"/></g>
<polyline points="1081.4,896.3 1082.3,897.8 1083.3,899.2 1084.2,900.3 1085.3,901.1 1086.3,901.5 1087.5,901.4 1088.6,900.9 1089.9,900.1 1091.1,899 1092.4,897.7 1093.7,896.5 1094.9,895.4 1096.2,894.5 1097.3,894.1 1098.5,894 1099.5,894.3 1100.6,895.1 1101.5,896.2 1102.5,897.6 1103.4,899.1 1104.3,900.7 1105.3,902.1 1106.2,903.2 1107.3,904 1108.3,904.3 1109.5,904.2 1110.6,903.8 1111.9,902.9 1113.1,901.8 1114.4,900.6 1115.7,899.3 1116.9,898.2 1118.2,897.4 1119.3,896.9 1120.5,896.8 1121.5,897.2 1122.6,898 1123.5,899.1 1124.5,900.5 1125.4,902" fill="none" stroke="#0A0A0A" stroke-width="3.2" stroke-linecap="round" stroke-linejoin="round"/>
<line x1="987.7" y1="931.7" x2="1021.2" y2="951.8" stroke="#0A0A0A" stroke-width="9" stroke-linecap="round"/>
<polyline points="1021.2,951.8 1021.8,953.3 1022.5,954.7 1023.4,955.7 1024.5,956.3 1025.9,956.5 1027.4,956.4 1029.1,956.2 1030.7,956.1 1032.1,956.2 1033.3,956.6 1034.3,957.5 1035.1,958.7 1035.7,960.2 1036.2,961.8 1036.9,963.2 1037.7,964.3 1038.8,965 1040.1,965.4 1041.6,965.4 1043.2,965.2" fill="none" stroke="#555" stroke-width="0.7"/>
<polyline points="1021.2,951.8 1022.8,951.6 1024.3,951.6 1025.6,952 1026.7,952.7 1027.5,953.8 1028.2,955.2 1028.7,956.8 1029.3,958.3 1030.1,959.5 1031.1,960.4 1032.3,960.8 1033.7,960.9 1035.3,960.8 1037,960.6 1038.5,960.5 1039.9,960.7 1041,961.3 1041.9,962.3 1042.6,963.7 1043.2,965.2" fill="none" stroke="#555" stroke-width="0.7"/>
<path fill="#BA7082" d="M942.7,944.8C946.1,945.5 950.6,947.3 953.5,949.9C956.3,952.5 958.7,957 959.8,960.3C960.9,963.6 960.6,966.5 959.8,969.7C959.1,972.8 957.4,976.4 955.3,979.3C953.1,982.3 949.9,985.3 946.9,987.2C943.8,989.1 939.8,990.8 937,990.7C934.1,990.5 931.8,988.9 929.5,986.4C927.2,984 924.7,979.7 923.2,976C921.7,972.2 920.4,967.7 920.7,963.9C921,960.1 922.9,956 924.9,953C927,950 930.3,947.2 933.2,945.8C936.2,944.4 939.4,944.1 942.7,944.8Z"/>
<path fill="#A4445E" d="M951.9,971.7C950.7,974.6 948.5,977.7 946.2,979.5C943.9,981.3 940.8,982.5 938.3,982.6C935.9,982.6 933.1,981.5 931.3,979.7C929.5,978 928.1,974.9 927.8,972C927.4,969.2 927.9,965.4 929.1,962.5C930.3,959.6 932.6,956.5 934.8,954.6C937.1,952.8 940.2,951.6 942.7,951.6C945.2,951.5 947.9,952.7 949.7,954.4C951.5,956.2 952.9,959.2 953.2,962.1C953.6,965 953.1,968.8 951.9,971.7Z"/>
<path fill="#A99BB8" d="M1101.4,944.3C1104,943.3 1107.9,942.7 1111,943.1C1114.2,943.5 1117.9,944.5 1120.3,946.5C1122.7,948.6 1123.8,951.8 1125.4,955.3C1127,958.8 1128.8,963.9 1129.7,967.6C1130.6,971.2 1131.5,974.3 1130.9,977.2C1130.4,980.1 1128.2,983.5 1126.4,985.2C1124.6,986.8 1122.6,987.6 1120.3,987.2C1117.9,986.8 1115.1,984.8 1112.3,982.7C1109.5,980.7 1106.3,976.7 1103.5,974.8C1100.7,973 1097.4,973.1 1095.4,971.7C1093.4,970.4 1092.3,969.1 1091.7,966.7C1091.1,964.3 1091.3,960.1 1092,957.2C1092.6,954.3 1094.1,951.3 1095.6,949.2C1097.2,947 1098.9,945.3 1101.4,944.3Z"/>
<path fill="#8D7BA1" d="M1102.8,947.5C1104.8,946.8 1107.9,946.4 1110.3,946.7C1112.8,947 1115.7,947.7 1117.5,949.2C1119.4,950.7 1120.3,953 1121.6,955.6C1122.8,958.1 1124.3,961.8 1125,964.4C1125.7,967 1126.4,969.2 1126,971.4C1125.6,973.5 1123.9,975.9 1122.5,977.1C1121.1,978.2 1119.6,978.8 1117.7,978.5C1115.9,978.2 1113.7,976.7 1111.5,975.2C1109.3,973.7 1106.8,970.8 1104.6,969.5C1102.4,968.1 1099.8,968.2 1098.3,967.2C1096.7,966.2 1095.8,965.3 1095.4,963.6C1094.9,961.8 1095,958.8 1095.5,956.7C1096,954.6 1097.1,952.5 1098.3,951C1099.6,949.4 1100.8,948.2 1102.8,947.5Z"/>
<path fill="#A99BB8" d="M1154.9,862.3C1157.5,861.3 1161.4,860.7 1164.5,861.1C1167.7,861.5 1171.4,862.5 1173.8,864.5C1176.2,866.6 1177.3,869.8 1178.9,873.3C1180.5,876.8 1182.3,881.9 1183.2,885.6C1184.1,889.2 1185,892.3 1184.4,895.2C1183.9,898.1 1181.7,901.5 1179.9,903.2C1178.1,904.8 1176.1,905.6 1173.8,905.2C1171.4,904.8 1168.6,902.8 1165.8,900.7C1163,898.7 1159.8,894.7 1157,892.8C1154.2,891 1150.9,891.1 1148.9,889.7C1146.9,888.4 1145.8,887.1 1145.2,884.7C1144.6,882.3 1144.8,878.1 1145.5,875.2C1146.1,872.3 1147.6,869.3 1149.1,867.2C1150.7,865 1152.4,863.3 1154.9,862.3Z"/>
<path fill="#8D7BA1" d="M1156.3,865.5C1158.3,864.8 1161.4,864.4 1163.8,864.7C1166.3,865 1169.2,865.7 1171,867.2C1172.9,868.7 1173.8,871 1175.1,873.6C1176.3,876.1 1177.8,879.8 1178.5,882.4C1179.2,885 1179.9,887.2 1179.5,889.4C1179.1,891.5 1177.4,893.9 1176,895.1C1174.6,896.2 1173.1,896.8 1171.2,896.5C1169.4,896.2 1167.2,894.7 1165,893.2C1162.8,891.7 1160.3,888.8 1158.1,887.5C1155.9,886.1 1153.3,886.2 1151.8,885.2C1150.2,884.2 1149.3,883.3 1148.9,881.6C1148.4,879.8 1148.5,876.8 1149,874.7C1149.5,872.6 1150.6,870.5 1151.8,869C1153.1,867.4 1154.3,866.2 1156.3,865.5Z"/>
<path fill="#8FC4EC" stroke="#8FC4EC" stroke-width="1.3" stroke-linejoin="round" d="M1298.7,862.3Q1299.6,871.4 1301.2,870.8Q1301.5,872.5 1309.9,868.7Q1305.3,876.7 1307,877.2Q1306.2,878.7 1315.2,880.6Q1306.8,884.3 1307.9,885.7Q1306.3,886.5 1312.5,893.3Q1303.5,891.4 1303.6,893.1Q1301.9,892.9 1302.8,902Q1296.7,895.2 1295.7,896.6Q1294.5,895.4 1289.9,903.3Q1289,894.2 1287.4,894.8Q1287.1,893.1 1278.7,896.9Q1283.3,888.9 1281.6,888.4Q1282.4,886.9 1273.4,885Q1281.8,881.3 1280.7,879.9Q1282.3,879.1 1276.1,872.3Q1285.1,874.2 1285,872.5Q1286.7,872.7 1285.8,863.6Q1291.9,870.4 1292.9,869Q1294.1,870.2 1298.7,862.3Z"/>
<circle cx="1294.3" cy="882.8" r="7.3" fill="#CFE5F5"/>
<path fill="#E8B432" d="M1352.4,867.9C1354,867.9 1356.1,867.3 1357.8,868.5C1359.5,869.7 1361.5,872.9 1362.7,875.2C1363.9,877.5 1364.8,880 1365,882.6C1365.1,885.2 1364.7,888.5 1363.6,890.8C1362.6,893.1 1360.6,895.2 1358.6,896.1C1356.7,897 1353.5,897.3 1351.7,896.4C1349.8,895.5 1348.4,893.2 1347.4,890.8C1346.4,888.5 1345.9,885.3 1345.7,882.4C1345.4,879.6 1345.6,876 1346.1,873.7C1346.6,871.4 1347.6,869.6 1348.6,868.6C1349.7,867.7 1350.9,867.9 1352.4,867.9Z"/>
<path fill="#F6DC9C" d="M1361.8,886.2C1361.2,887.6 1359.7,889.1 1358.5,889.8C1357.3,890.4 1355.5,890.5 1354.4,890C1353.3,889.5 1352.2,888.1 1351.9,886.7C1351.6,885.4 1351.9,883.3 1352.5,881.9C1353.2,880.4 1354.6,878.9 1355.9,878.3C1357.1,877.6 1358.9,877.5 1360,878C1361.1,878.6 1362.1,880 1362.4,881.3C1362.8,882.7 1362.5,884.8 1361.8,886.2Z"/>
<g transform="translate(1236.5 887.7) rotate(-35)"><ellipse cx="0" cy="0" rx="11" ry="8" fill="#0A0A0A"/><line x1="10.8" y1="1.4" x2="14.3" y2="2" stroke="#0A0A0A" stroke-width="0.7"/><line x1="9.5" y1="4" x2="12.6" y2="5.7" stroke="#0A0A0A" stroke-width="0.7"/><line x1="7.1" y1="6.1" x2="9.3" y2="8.8" stroke="#0A0A0A" stroke-width="0.7"/><line x1="3.8" y1="7.5" x2="5" y2="10.8" stroke="#0A0A0A" stroke-width="0.7"/><line x1="0" y1="8" x2="0" y2="11.5" stroke="#0A0A0A" stroke-width="0.7"/><line x1="-3.8" y1="7.5" x2="-5" y2="10.8" stroke="#0A0A0A" stroke-width="0.7"/><line x1="-7.1" y1="6.1" x2="-9.3" y2="8.8" stroke="#0A0A0A" stroke-width="0.7"/><line x1="-9.5" y1="4" x2="-12.6" y2="5.8" stroke="#0A0A0A" stroke-width="0.7"/><line x1="-10.8" y1="1.4" x2="-14.3" y2="2" stroke="#0A0A0A" stroke-width="0.7"/><line x1="-10.8" y1="-1.4" x2="-14.3" y2="-2" stroke="#0A0A0A" stroke-width="0.7"/><line x1="-9.5" y1="-4" x2="-12.6" y2="-5.8" stroke="#0A0A0A" stroke-width="0.7"/><line x1="-7.1" y1="-6.1" x2="-9.3" y2="-8.8" stroke="#0A0A0A" stroke-width="0.7"/><line x1="-3.8" y1="-7.5" x2="-5" y2="-10.8" stroke="#0A0A0A" stroke-width="0.7"/><line x1="0" y1="-8" x2="0" y2="-11.5" stroke="#0A0A0A" stroke-width="0.7"/><line x1="3.8" y1="-7.5" x2="5" y2="-10.8" stroke="#0A0A0A" stroke-width="0.7"/><line x1="7.1" y1="-6.1" x2="9.3" y2="-8.8" stroke="#0A0A0A" stroke-width="0.7"/><line x1="9.5" y1="-4" x2="12.6" y2="-5.7" stroke="#0A0A0A" stroke-width="0.7"/><line x1="10.8" y1="-1.4" x2="14.3" y2="-2" stroke="#0A0A0A" stroke-width="0.7"/></g>
<g fill="#8E8E90" stroke="#8E8E90"><circle cx="1264" cy="917" r="6.6" stroke="none"/><line x1="1270" y1="917" x2="1274.6" y2="917" stroke-width="1.2"/><circle cx="1274.6" cy="917" r="1.6" stroke="none"/><line x1="1269.4" y1="919.6" x2="1273.5" y2="921.6" stroke-width="1.2"/><circle cx="1273.5" cy="921.6" r="1.6" stroke="none"/><line x1="1267.7" y1="921.7" x2="1270.6" y2="925.3" stroke-width="1.2"/><circle cx="1270.6" cy="925.3" r="1.6" stroke="none"/><line x1="1265.3" y1="922.8" x2="1266.3" y2="927.3" stroke-width="1.2"/><circle cx="1266.3" cy="927.3" r="1.6" stroke="none"/><line x1="1262.7" y1="922.8" x2="1261.7" y2="927.3" stroke-width="1.2"/><circle cx="1261.7" cy="927.3" r="1.6" stroke="none"/><line x1="1260.3" y1="921.7" x2="1257.4" y2="925.3" stroke-width="1.2"/><circle cx="1257.4" cy="925.3" r="1.6" stroke="none"/><line x1="1258.6" y1="919.6" x2="1254.5" y2="921.6" stroke-width="1.2"/><circle cx="1254.5" cy="921.6" r="1.6" stroke="none"/><line x1="1258" y1="917" x2="1253.4" y2="917" stroke-width="1.2"/><circle cx="1253.4" cy="917" r="1.6" stroke="none"/><line x1="1258.6" y1="914.4" x2="1254.5" y2="912.4" stroke-width="1.2"/><circle cx="1254.5" cy="912.4" r="1.6" stroke="none"/><line x1="1260.3" y1="912.3" x2="1257.4" y2="908.7" stroke-width="1.2"/><circle cx="1257.4" cy="908.7" r="1.6" stroke="none"/><line x1="1262.7" y1="911.2" x2="1261.7" y2="906.7" stroke-width="1.2"/><circle cx="1261.7" cy="906.7" r="1.6" stroke="none"/><line x1="1265.3" y1="911.2" x2="1266.3" y2="906.7" stroke-width="1.2"/><circle cx="1266.3" cy="906.7" r="1.6" stroke="none"/><line x1="1267.7" y1="912.3" x2="1270.6" y2="908.7" stroke-width="1.2"/><circle cx="1270.6" cy="908.7" r="1.6" stroke="none"/><line x1="1269.4" y1="914.4" x2="1273.5" y2="912.4" stroke-width="1.2"/><circle cx="1273.5" cy="912.4" r="1.6" stroke="none"/></g>
<path fill="#0A0A0A" stroke="#0A0A0A" stroke-width="1.2" stroke-linejoin="round" d="M1142.8,932.3 Q1153.1,945.2 1167,936.3 Q1154.7,935.7 1142.8,932.3Z"/>
<path fill="#F6A9E0" d="M1204.2,919.2C1208.2,918.4 1214.1,917.2 1218.4,918C1222.8,918.8 1227.4,921.2 1230.3,924C1233.1,926.7 1234.8,930.9 1235.6,934.6C1236.4,938.4 1236.1,942.3 1235.1,946.5C1234,950.6 1231.7,955.8 1229.1,959.6C1226.5,963.3 1222.6,967.2 1219.6,969C1216.6,970.9 1214.5,971.4 1211.3,970.8C1208.1,970.2 1204.2,967.5 1200.6,965.5C1197.1,963.4 1192.5,961.5 1190,958.3C1187.4,955.2 1185.7,950.8 1185.3,946.5C1184.9,942.1 1186,936.2 1187.6,932.3C1189.2,928.3 1192,925 1194.8,922.8C1197.5,920.6 1200.3,920 1204.2,919.2Z"/>
<path fill="#D56DA9" d="M1228.4,943.6C1228.2,945.9 1226.2,948.8 1223.7,950.2C1221.1,951.6 1216.7,952.5 1213.4,952.2C1210,951.9 1205.8,950.3 1203.6,948.4C1201.3,946.6 1199.8,943.4 1200,941.1C1200.2,938.8 1202.3,935.9 1204.8,934.5C1207.3,933 1211.7,932.2 1215.1,932.4C1218.4,932.7 1222.7,934.4 1224.9,936.2C1227.1,938.1 1228.6,941.2 1228.4,943.6Z"/>
<path fill="#0A0A0A" stroke="#0A0A0A" stroke-width="1.2" stroke-linejoin="round" d="M1272.5,940.5 Q1286.1,930.4 1296.3,944 Q1284.7,939.9 1272.5,940.5Z"/>
<path fill="#E27468" d="M1334.7,924.6C1337.5,923 1343.2,921.5 1346.5,920.9C1349.9,920.3 1352.9,920.3 1355,921C1357,921.7 1357.5,921.8 1359.1,925.2C1360.7,928.6 1362.7,935.9 1364.4,941.1C1366.2,946.4 1369.1,952.8 1369.8,956.6C1370.5,960.3 1370.1,961.9 1368.6,963.6C1367.1,965.4 1363.6,966.9 1360.9,967C1358.2,967.1 1356,966.4 1352.6,964.3C1349.2,962.1 1344.4,957.5 1340.8,954.2C1337.1,951 1332.7,947.4 1330.6,944.7C1328.6,942.1 1328.4,940.6 1328.3,938.2C1328.2,935.8 1329,932.7 1330.1,930.5C1331.2,928.2 1332,926.2 1334.7,924.6Z"/>
<path fill="#D0453A" d="M1336.9,927.5C1339.3,926 1343.6,925.3 1347,925.5C1350.3,925.7 1354.7,926.3 1357,928.5C1359.3,930.6 1360.7,934.9 1361,938.4C1361.4,941.9 1360.8,946.7 1359,949.3C1357.2,952 1353.3,953.8 1350,954.3C1346.6,954.8 1341.8,953.9 1338.9,952.3C1336.1,950.6 1333.9,947.3 1332.9,944.4C1331.9,941.4 1332.2,937.2 1332.9,934.4C1333.6,931.6 1334.6,929 1336.9,927.5Z"/>
<line x1="225.3" y1="1057.6" x2="426.7" y2="1057.6" stroke="#1a1a1a" stroke-width="1.5"/>
<line x1="536.7" y1="1057.6" x2="738.8" y2="1057.6" stroke="#1a1a1a" stroke-width="1.5"/>
<g transform="translate(481.7 1057.6) rotate(135)" fill="none" stroke="#8C8C8C" stroke-width="4.2" stroke-linejoin="round">
<rect x="55" y="-4.5" width="14" height="9" fill="#EBEBE3"/>
<rect x="68" y="-7.5" width="63" height="15" rx="7.5" fill="#EBEBE3"/>
<line x1="76" y1="-7.5" x2="76" y2="7.5"/>
</g>
<circle cx="481.7" cy="1057.6" r="53.2" fill="none" stroke="#8C8C8C" stroke-width="4.8"/>
<path d="M453.5,1024 A43.8,43.8 0 1 1 448.1,1029.4" fill="none" stroke="#8C8C8C" stroke-width="4" stroke-linecap="round"/>
<circle cx="481.7" cy="1057.6" r="32" fill="#000"/>
<text x="481.7" y="1071.5" font-family="Liberation Sans, sans-serif" font-size="38.5" font-weight="bold" fill="#fff" text-anchor="middle" stroke="#fff" stroke-width="1.5">C</text>
<line x1="866.8" y1="1057.1" x2="1069.7" y2="1057.1" stroke="#1a1a1a" stroke-width="1.5"/>
<line x1="1179.7" y1="1057.1" x2="1380.6" y2="1057.1" stroke="#1a1a1a" stroke-width="1.5"/>
<g transform="translate(1124.7 1057.1) rotate(135)" fill="none" stroke="#8C8C8C" stroke-width="4.2" stroke-linejoin="round">
<rect x="55" y="-4.5" width="14" height="9" fill="#EBEBE3"/>
<rect x="68" y="-7.5" width="63" height="15" rx="7.5" fill="#EBEBE3"/>
<line x1="76" y1="-7.5" x2="76" y2="7.5"/>
</g>
<circle cx="1124.7" cy="1057.1" r="53.2" fill="none" stroke="#8C8C8C" stroke-width="4.8"/>
<path d="M1096.5,1023.5 A43.8,43.8 0 1 1 1091.1,1028.9" fill="none" stroke="#8C8C8C" stroke-width="4" stroke-linecap="round"/>
<circle cx="1124.7" cy="1057.1" r="32" fill="#000"/>
<text x="1124.7" y="1071" font-family="Liberation Sans, sans-serif" font-size="38.5" font-weight="bold" fill="#fff" text-anchor="middle" stroke="#fff" stroke-width="1.5">D</text>
<path fill="#8FC4EC" stroke="#8FC4EC" stroke-width="2.1" stroke-linejoin="round" d="M503.1,1229.1Q507.8,1243.6 510.2,1242.1Q511.3,1244.8 523.7,1235.8Q518.9,1250.3 521.8,1250.5Q521.1,1253.3 536.4,1253.3Q524,1262.3 526.2,1264.1Q524,1265.9 536.4,1274.9Q521.1,1274.9 521.8,1277.7Q518.9,1277.9 523.7,1292.4Q511.3,1283.4 510.2,1286.1Q507.8,1284.6 503.1,1299.1Q498.4,1284.6 496,1286.1Q494.9,1283.4 482.5,1292.4Q487.3,1277.9 484.4,1277.7Q485.1,1274.9 469.8,1274.9Q482.2,1265.9 480,1264.1Q482.2,1262.3 469.8,1253.3Q485.1,1253.3 484.4,1250.5Q487.3,1250.3 482.5,1235.8Q494.9,1244.8 496,1242.1Q498.4,1243.6 503.1,1229.1Z"/>
<circle cx="503.1" cy="1264.1" r="12.4" fill="#CFE5F5"/>
<path fill="#F6A9E0" d="M573.9,1201.5C580.3,1200.2 589.8,1198.3 596.8,1199.6C603.8,1200.9 611.3,1204.7 615.9,1209.2C620.5,1213.7 623.2,1220.4 624.5,1226.4C625.8,1232.5 625.4,1238.8 623.6,1245.5C621.9,1252.2 618.1,1260.5 614,1266.6C609.9,1272.7 603.5,1278.9 598.7,1281.9C593.9,1284.9 590.4,1285.7 585.3,1284.7C580.2,1283.7 573.8,1279.4 568.1,1276.1C562.4,1272.8 555,1269.7 550.9,1264.6C546.8,1259.5 543.9,1252.5 543.3,1245.5C542.7,1238.5 544.5,1229 547.1,1222.6C549.7,1216.2 554.1,1210.8 558.6,1207.3C563.1,1203.8 567.5,1202.8 573.9,1201.5Z"/>
<path fill="#D56DA9" d="M612.9,1240.8C612.6,1244.6 609.3,1249.2 605.2,1251.5C601.2,1253.8 594,1255.2 588.6,1254.7C583.2,1254.3 576.4,1251.6 572.8,1248.7C569.2,1245.7 566.8,1240.6 567.1,1236.8C567.4,1233 570.7,1228.4 574.8,1226.1C578.8,1223.8 586,1222.4 591.4,1222.9C596.8,1223.3 603.6,1226 607.2,1228.9C610.8,1231.9 613.2,1237 612.9,1240.8Z"/>
<path fill="#E8B432" d="M637,1203C639.5,1201.9 642.7,1199.5 646.5,1200.1C650.3,1200.7 656.1,1204.1 659.9,1206.8C663.7,1209.5 667.2,1212.5 669.5,1216.3C671.8,1220.1 673.7,1225.5 673.7,1229.7C673.7,1233.9 672.1,1238.4 669.5,1241.2C666.9,1244 661.8,1246.6 658,1246.6C654.2,1246.6 650,1244 646.5,1241.2C643,1238.4 639.6,1233.9 637,1229.7C634.4,1225.5 631.9,1220.1 630.9,1216.3C629.9,1212.5 630.2,1209 631.2,1206.8C632.2,1204.6 634.5,1204.1 637,1203Z"/>
<path fill="#F6DC9C" d="M667.1,1224C667.1,1226.6 665.9,1229.9 664.3,1231.8C662.7,1233.6 659.8,1235 657.6,1235C655.4,1235 652.5,1233.6 650.9,1231.8C649.3,1229.9 648.1,1226.6 648.1,1224C648.1,1221.4 649.3,1218.1 650.9,1216.2C652.5,1214.4 655.4,1213 657.6,1213C659.8,1213 662.7,1214.4 664.3,1216.2C665.9,1218.1 667.1,1221.4 667.1,1224Z"/>
<text x="628.7" y="1262.2" font-family="Liberation Sans, sans-serif" font-size="14" font-weight="normal" fill="#333" text-anchor="start" textLength="70.5" lengthAdjust="spacingAndGlyphs">neutrophils</text>
<text x="541.3" y="1302" font-family="Liberation Sans, sans-serif" font-size="14" font-weight="normal" fill="#333" text-anchor="start" textLength="87.7" lengthAdjust="spacingAndGlyphs">macrophages</text>
<text x="461" y="1326.3" font-family="Liberation Sans, sans-serif" font-size="14" font-weight="normal" fill="#333" text-anchor="start" textLength="87" lengthAdjust="spacingAndGlyphs">dendritic cells</text>
<path fill="#829D59" d="M304.8,1340C309,1339.5 313,1340.4 316.8,1343.1C320.6,1345.8 324.7,1351.1 327.8,1356.2C330.9,1361.3 333.9,1367.9 335.4,1373.7C336.8,1379.5 337.1,1386.1 336.5,1391.2C335.9,1396.3 334.7,1401.2 332.1,1404.3C329.6,1407.4 325.9,1409.2 321.2,1409.8C316.5,1410.3 309.7,1409.2 303.7,1407.6C297.7,1406 290,1403.1 285.1,1400C280.2,1396.9 276.3,1393 274.2,1389C272.1,1385 271.7,1380.6 272.6,1375.9C273.5,1371.2 276.5,1365.5 279.7,1360.6C282.9,1355.7 287.5,1349.8 291.7,1346.4C295.9,1343 300.6,1340.5 304.8,1340Z"/>
<path fill="#B9C79D" d="M324.2,1368.5C326.9,1373.5 328.7,1380.8 328.3,1385.5C328,1390.2 325.4,1395 322.3,1396.7C319.1,1398.4 313.7,1397.8 309.6,1395.5C305.5,1393.1 300.4,1387.5 297.8,1382.5C295.1,1377.5 293.3,1370.2 293.7,1365.5C294,1360.8 296.6,1356 299.7,1354.3C302.9,1352.6 308.3,1353.2 312.4,1355.5C316.5,1357.9 321.6,1363.5 324.2,1368.5Z"/>
<path fill="#A7A591" d="M334.3,1433.3C337.4,1430.3 342.5,1425.9 347.4,1424C352.3,1422.1 357.8,1421.5 363.8,1421.8C369.8,1422.1 377.7,1423.1 383.5,1425.6C389.3,1428.1 395.1,1432.4 398.8,1436.6C402.5,1440.8 405.2,1445.9 405.9,1450.8C406.6,1455.7 405.7,1461 403.2,1466.1C400.7,1471.2 395.7,1476.5 391.1,1481.4C386.5,1486.3 380,1492.8 375.8,1495.6C371.6,1498.4 369.3,1498.8 366,1498.3C362.7,1497.8 360,1496.8 356.2,1492.3C352.4,1487.8 347.3,1478.2 343.1,1471.5C338.9,1464.8 333.4,1456.8 331,1451.9C328.6,1447 328.3,1445.1 328.9,1442C329.4,1438.9 331.2,1436.3 334.3,1433.3Z"/>
<path fill="#CBC9BC" d="M372.9,1451.9C374.4,1456.2 375.1,1462.3 374.3,1466.1C373.5,1469.8 370.9,1473.4 368.3,1474.3C365.6,1475.3 361.3,1474.2 358.3,1471.9C355.4,1469.5 351.9,1464.4 350.3,1460.1C348.8,1455.8 348.1,1449.7 348.9,1445.9C349.7,1442.2 352.3,1438.6 354.9,1437.7C357.6,1436.7 361.9,1437.8 364.9,1440.1C367.8,1442.5 371.3,1447.6 372.9,1451.9Z"/>
<text x="274.8" y="1423.5" font-family="Liberation Sans, sans-serif" font-size="13.5" font-weight="normal" fill="#333" text-anchor="start" textLength="23.8" lengthAdjust="spacingAndGlyphs">Th1</text>
<text x="351.9" y="1515.3" font-family="Liberation Sans, sans-serif" font-size="13.5" font-weight="normal" fill="#333" text-anchor="start" textLength="32.5" lengthAdjust="spacingAndGlyphs">Th17</text>
<path fill="#E27468" d="M299.3,1663C303.7,1660.4 312.9,1658 318.3,1657C323.7,1656 328.5,1656 331.9,1657.2C335.3,1658.4 336.1,1658.6 338.6,1664C341.2,1669.4 344.3,1681.3 347.2,1689.7C350.1,1698.1 354.7,1708.5 355.8,1714.6C356.9,1720.6 356.3,1723.2 353.9,1726C351.5,1728.8 345.8,1731.2 341.5,1731.4C337.2,1731.6 333.5,1730.4 328.1,1727C322.7,1723.6 314.9,1716 309,1710.8C303.1,1705.5 296,1699.8 292.7,1695.5C289.4,1691.2 289.1,1688.8 288.9,1685C288.8,1681.2 290.1,1676.2 291.8,1672.5C293.5,1668.8 294.9,1665.6 299.3,1663Z"/>
<path fill="#D0453A" d="M309.7,1675.8C312,1674.3 316.4,1673.6 319.7,1673.8C323,1674 327.4,1674.6 329.7,1676.8C332,1679 333.4,1683.3 333.7,1686.8C334,1690.3 333.5,1695.1 331.7,1697.8C329.9,1700.5 326,1702.3 322.7,1702.8C319.4,1703.3 314.5,1702.5 311.7,1700.8C308.9,1699.1 306.7,1695.8 305.7,1692.8C304.7,1689.8 305,1685.6 305.7,1682.8C306.4,1680 307.4,1677.3 309.7,1675.8Z"/>
<path fill="#BA7082" d="M413.9,1652.1C419.6,1652.3 427.6,1654 433,1657.4C438.4,1660.8 443.7,1667.6 446.4,1672.7C449.1,1677.8 449.5,1682.6 449.2,1688C448.9,1693.4 447.2,1699.8 444.5,1705.2C441.8,1710.6 437.5,1716.5 433,1720.5C428.5,1724.5 422.5,1728.5 417.7,1729.1C412.9,1729.7 408.8,1727.7 404.3,1724.3C399.8,1720.9 394.4,1714.7 390.9,1709C387.4,1703.3 383.9,1696.3 383.3,1689.9C382.7,1683.5 384.6,1676.4 387.1,1670.8C389.7,1665.2 394.1,1659.6 398.6,1656.5C403.1,1653.4 408.2,1652 413.9,1652.1Z"/>
<path fill="#A4445E" d="M424.6,1682.7C423.7,1686.1 421.2,1690.1 418.9,1692C416.5,1693.9 412.8,1694.9 410.4,1694.2C407.9,1693.5 405.2,1690.9 404.1,1688C403,1685.2 402.9,1680.5 403.8,1677.1C404.7,1673.7 407.2,1669.7 409.5,1667.8C411.9,1665.9 415.6,1664.9 418,1665.6C420.5,1666.3 423.2,1668.9 424.3,1671.8C425.4,1674.6 425.5,1679.3 424.6,1682.7Z"/>
<path fill="#A99BB8" d="M490.4,1658.2C494.4,1656.2 500.6,1654.8 505.7,1654.9C510.8,1655.1 516.9,1656.2 521,1659.1C525.1,1662 527.5,1667.1 530.5,1672.5C533.5,1677.9 537.1,1685.9 539.1,1691.6C541.1,1697.3 542.9,1702.1 542.4,1706.9C541.9,1711.7 538.9,1717.4 536.3,1720.3C533.7,1723.2 530.5,1724.8 526.7,1724.5C522.9,1724.2 518.1,1721.3 513.3,1718.4C508.5,1715.5 502.8,1709.5 498,1706.9C493.2,1704.4 488,1705 484.6,1703.1C481.2,1701.2 479.2,1699.3 477.9,1695.5C476.6,1691.7 476.4,1685 477,1680.2C477.6,1675.4 479.6,1670.5 481.8,1666.8C484,1663.1 486.4,1660.2 490.4,1658.2Z"/>
<path fill="#8D7BA1" d="M499.9,1672.5C502.4,1670.6 505.9,1670.6 508.5,1671.6C511.1,1672.5 512.8,1674.9 515.2,1678.2C517.6,1681.5 521.9,1688.1 522.9,1691.6C523.9,1695.1 522.9,1698.2 521,1699.3C519.1,1700.4 515.2,1699.6 511.4,1698.3C507.6,1697 501,1694.1 498,1691.6C495,1689 492.9,1686.2 493.2,1683C493.5,1679.8 497.3,1674.4 499.9,1672.5Z"/>
<text x="310.6" y="1764.7" font-family="Liberation Sans, sans-serif" font-size="13.5" font-weight="normal" fill="#333" text-anchor="start" textLength="25.4" lengthAdjust="spacingAndGlyphs">Th2</text>
<text x="402.4" y="1764.7" font-family="Liberation Sans, sans-serif" font-size="13.5" font-weight="normal" fill="#333" text-anchor="start" textLength="25.9" lengthAdjust="spacingAndGlyphs">Th9</text>
<text x="499" y="1764.7" font-family="Liberation Sans, sans-serif" font-size="13.5" font-weight="normal" fill="#333" text-anchor="start" textLength="33.5" lengthAdjust="spacingAndGlyphs">Th22</text>
<g transform="translate(399 1897.4) rotate(0)"><ellipse cx="0" cy="0" rx="18" ry="10" fill="#8E8E90"/><line x1="17.8" y1="1.4" x2="22.8" y2="2.1" stroke="#8E8E90" stroke-width="0.7"/><line x1="16.4" y1="4.2" x2="20.9" y2="6.2" stroke="#8E8E90" stroke-width="0.7"/><line x1="13.6" y1="6.5" x2="17.4" y2="9.8" stroke="#8E8E90" stroke-width="0.7"/><line x1="9.7" y1="8.4" x2="12.4" y2="12.6" stroke="#8E8E90" stroke-width="0.7"/><line x1="5.1" y1="9.6" x2="6.5" y2="14.4" stroke="#8E8E90" stroke-width="0.7"/><line x1="0" y1="10" x2="0" y2="15" stroke="#8E8E90" stroke-width="0.7"/><line x1="-5.1" y1="9.6" x2="-6.5" y2="14.4" stroke="#8E8E90" stroke-width="0.7"/><line x1="-9.7" y1="8.4" x2="-12.4" y2="12.6" stroke="#8E8E90" stroke-width="0.7"/><line x1="-13.6" y1="6.5" x2="-17.4" y2="9.8" stroke="#8E8E90" stroke-width="0.7"/><line x1="-16.4" y1="4.2" x2="-20.9" y2="6.2" stroke="#8E8E90" stroke-width="0.7"/><line x1="-17.8" y1="1.4" x2="-22.8" y2="2.1" stroke="#8E8E90" stroke-width="0.7"/><line x1="-17.8" y1="-1.4" x2="-22.8" y2="-2.1" stroke="#8E8E90" stroke-width="0.7"/><line x1="-16.4" y1="-4.2" x2="-20.9" y2="-6.2" stroke="#8E8E90" stroke-width="0.7"/><line x1="-13.6" y1="-6.5" x2="-17.4" y2="-9.8" stroke="#8E8E90" stroke-width="0.7"/><line x1="-9.7" y1="-8.4" x2="-12.4" y2="-12.6" stroke="#8E8E90" stroke-width="0.7"/><line x1="-5.1" y1="-9.6" x2="-6.5" y2="-14.4" stroke="#8E8E90" stroke-width="0.7"/><line x1="0" y1="-10" x2="0" y2="-15" stroke="#8E8E90" stroke-width="0.7"/><line x1="5.1" y1="-9.6" x2="6.5" y2="-14.4" stroke="#8E8E90" stroke-width="0.7"/><line x1="9.7" y1="-8.4" x2="12.4" y2="-12.6" stroke="#8E8E90" stroke-width="0.7"/><line x1="13.6" y1="-6.5" x2="17.4" y2="-9.8" stroke="#8E8E90" stroke-width="0.7"/><line x1="16.4" y1="-4.2" x2="20.9" y2="-6.2" stroke="#8E8E90" stroke-width="0.7"/><line x1="17.8" y1="-1.4" x2="22.8" y2="-2.1" stroke="#8E8E90" stroke-width="0.7"/></g>
<path fill="#8E8E90" d="M431.5,1920.5 Q448,1911 466,1920 Q472,1925 471,1931 Q469,1933 466,1931 Q451,1921 434,1926.5 Q429,1927 429.5,1923.5 Q430,1921.5 431.5,1920.5Z"/>
<line x1="464" y1="1878" x2="514" y2="1906" stroke="#8E8E90" stroke-width="13" stroke-linecap="round"/>
<polyline points="514,1906 515.4,1908.2 516.9,1910.2 518.6,1911.9 520.6,1913.2 522.9,1914.2 525.3,1914.8 527.8,1915.4 530.3,1916 532.7,1916.8 534.8,1918 536.6,1919.6 538.1,1921.5 539.5,1923.7 540.9,1925.9 542.4,1928 544,1929.8 545.9,1931.2 548.1,1932.3 550.5,1933 553,1933.6" fill="none" stroke="#999" stroke-width="0.7"/>
<polyline points="514,1906 516.5,1906.6 518.9,1907.3 521.1,1908.4 523,1909.8 524.6,1911.6 526.1,1913.7 527.5,1915.9 528.9,1918.1 530.4,1920 532.2,1921.6 534.3,1922.8 536.7,1923.6 539.2,1924.2 541.7,1924.8 544.1,1925.4 546.4,1926.4 548.4,1927.7 550.1,1929.4 551.6,1931.4 553,1933.6" fill="none" stroke="#999" stroke-width="0.7"/>
<g fill="#8E8E90" stroke="#8E8E90"><circle cx="564.3" cy="1883" r="11.3" stroke="none"/><line x1="574.5" y1="1883" x2="582.3" y2="1883" stroke-width="2.1"/><circle cx="582.3" cy="1883" r="2.7" stroke="none"/><line x1="573.5" y1="1887.4" x2="580.6" y2="1890.8" stroke-width="2.1"/><circle cx="580.6" cy="1890.8" r="2.7" stroke="none"/><line x1="570.7" y1="1891" x2="575.5" y2="1897.1" stroke-width="2.1"/><circle cx="575.5" cy="1897.1" r="2.7" stroke="none"/><line x1="566.6" y1="1893" x2="568.3" y2="1900.6" stroke-width="2.1"/><circle cx="568.3" cy="1900.6" r="2.7" stroke="none"/><line x1="562" y1="1893" x2="560.3" y2="1900.6" stroke-width="2.1"/><circle cx="560.3" cy="1900.6" r="2.7" stroke="none"/><line x1="557.9" y1="1891" x2="553.1" y2="1897.1" stroke-width="2.1"/><circle cx="553.1" cy="1897.1" r="2.7" stroke="none"/><line x1="555.1" y1="1887.4" x2="548" y2="1890.8" stroke-width="2.1"/><circle cx="548" cy="1890.8" r="2.7" stroke="none"/><line x1="554" y1="1883" x2="546.3" y2="1883" stroke-width="2.1"/><circle cx="546.3" cy="1883" r="2.7" stroke="none"/><line x1="555.1" y1="1878.6" x2="548" y2="1875.2" stroke-width="2.1"/><circle cx="548" cy="1875.2" r="2.7" stroke="none"/><line x1="557.9" y1="1875" x2="553.1" y2="1868.9" stroke-width="2.1"/><circle cx="553.1" cy="1868.9" r="2.7" stroke="none"/><line x1="562" y1="1873" x2="560.3" y2="1865.4" stroke-width="2.1"/><circle cx="560.3" cy="1865.4" r="2.7" stroke="none"/><line x1="566.6" y1="1873" x2="568.3" y2="1865.4" stroke-width="2.1"/><circle cx="568.3" cy="1865.4" r="2.7" stroke="none"/><line x1="570.7" y1="1875" x2="575.5" y2="1868.9" stroke-width="2.1"/><circle cx="575.5" cy="1868.9" r="2.7" stroke="none"/><line x1="573.5" y1="1878.6" x2="580.6" y2="1875.2" stroke-width="2.1"/><circle cx="580.6" cy="1875.2" r="2.7" stroke="none"/></g>
<text x="425.6" y="1967.3" font-family="Liberation Sans, sans-serif" font-size="14" font-weight="normal" fill="#333" text-anchor="start" textLength="117" lengthAdjust="spacingAndGlyphs">Beneficial Bacteria</text>
<ellipse cx="1133" cy="1163" rx="12" ry="10" fill="#F8C3E8" transform="rotate(-20 1133 1163)"/>
<ellipse cx="1182.1" cy="1158.1" rx="11" ry="12" fill="#F2D27C"/>
<ellipse cx="1233" cy="1143.4" rx="14" ry="10" fill="#BBDDF4" transform="rotate(-25 1233 1143.4)"/>
<ellipse cx="1278" cy="1145.8" rx="14" ry="10" fill="#F8C3E8"/>
<ellipse cx="1338.7" cy="1163" rx="11" ry="12.5" fill="#F2D27C"/>
<ellipse cx="1076.9" cy="1203.6" rx="13" ry="10" fill="#BBDDF4" transform="rotate(-30 1076.9 1203.6)"/>
<ellipse cx="1366.5" cy="1211.5" rx="11" ry="14" fill="#BBDDF4" transform="rotate(-30 1366.5 1211.5)"/>
<ellipse cx="1066.6" cy="1256.5" rx="10" ry="13" fill="#F8C3E8"/>
<ellipse cx="1350.3" cy="1265" rx="13" ry="11" fill="#F8C3E8" transform="rotate(-25 1350.3 1265)"/>
<ellipse cx="1074.4" cy="1308.1" rx="12" ry="11" fill="#F2D27C"/>
<ellipse cx="1308" cy="1307.4" rx="11" ry="12" fill="#F2D27C"/>
<ellipse cx="1114.3" cy="1350.6" rx="13" ry="10" fill="#F8C3E8"/>
<ellipse cx="1169.8" cy="1356.5" rx="13" ry="10" fill="#F8C3E8"/>
<ellipse cx="1221.5" cy="1344.2" rx="10" ry="12" fill="#F2D27C"/>
<ellipse cx="1265.7" cy="1327.8" rx="14" ry="9" fill="#BBDDF4" transform="rotate(-5 1265.7 1327.8)"/>
<path fill="#8FC4EC" stroke="#8FC4EC" stroke-width="2.1" stroke-linejoin="round" d="M1151.9,1230.7Q1156.7,1245.5 1159.2,1244Q1160.3,1246.6 1172.8,1237.5Q1168,1252.3 1170.9,1252.5Q1170.2,1255.3 1185.8,1255.3Q1173.2,1264.4 1175.4,1266.3Q1173.2,1268.2 1185.8,1277.3Q1170.2,1277.3 1170.9,1280.1Q1168,1280.3 1172.8,1295.1Q1160.3,1286 1159.2,1288.6Q1156.7,1287.1 1151.9,1301.9Q1147.1,1287.1 1144.6,1288.6Q1143.5,1286 1131,1295.1Q1135.8,1280.3 1132.9,1280.1Q1133.6,1277.3 1118,1277.3Q1130.6,1268.2 1128.4,1266.3Q1130.6,1264.4 1118,1255.3Q1133.6,1255.3 1132.9,1252.5Q1135.8,1252.3 1131,1237.5Q1143.5,1246.6 1144.6,1244Q1147.1,1245.5 1151.9,1230.7Z"/>
<circle cx="1151.9" cy="1266.3" r="12.3" fill="#CFE5F5"/>
<path fill="#F6A9E0" d="M1221.9,1202.3C1228.3,1201 1237.8,1199.1 1244.8,1200.4C1251.8,1201.7 1259.3,1205.5 1263.9,1210C1268.5,1214.5 1271.2,1221.2 1272.5,1227.2C1273.8,1233.2 1273.3,1239.6 1271.6,1246.3C1269.8,1253 1266.2,1261.3 1262,1267.4C1257.8,1273.5 1251.5,1279.7 1246.7,1282.7C1241.9,1285.7 1238.4,1286.5 1233.3,1285.5C1228.2,1284.5 1221.8,1280.2 1216.1,1276.9C1210.4,1273.5 1203,1270.5 1198.9,1265.4C1194.8,1260.3 1191.9,1253.3 1191.3,1246.3C1190.7,1239.3 1192.5,1229.8 1195.1,1223.4C1197.6,1217 1202.1,1211.6 1206.6,1208.1C1211.1,1204.6 1215.5,1203.6 1221.9,1202.3Z"/>
<path fill="#D56DA9" d="M1260.9,1241.6C1260.6,1245.4 1257.3,1250 1253.2,1252.3C1249.2,1254.6 1242,1256 1236.6,1255.5C1231.2,1255.1 1224.4,1252.4 1220.8,1249.5C1217.2,1246.5 1214.8,1241.4 1215.1,1237.6C1215.4,1233.8 1218.7,1229.2 1222.8,1226.9C1226.8,1224.6 1234,1223.2 1239.4,1223.7C1244.8,1224.1 1251.6,1226.8 1255.2,1229.7C1258.8,1232.7 1261.2,1237.8 1260.9,1241.6Z"/>
<path fill="#E8B432" d="M1283.3,1205.4C1285.8,1204 1288.7,1201.4 1292.5,1201.7C1296.4,1202 1302.4,1204.8 1306.5,1207.2C1310.5,1209.5 1314.2,1212.2 1316.8,1215.8C1319.5,1219.4 1321.8,1224.6 1322.2,1228.8C1322.6,1232.9 1321.4,1237.6 1319,1240.6C1316.7,1243.6 1311.9,1246.7 1308,1247C1304.2,1247.3 1299.8,1245.1 1296.1,1242.6C1292.4,1240.1 1288.6,1235.9 1285.6,1232C1282.7,1228.1 1279.7,1222.9 1278.4,1219.2C1277.1,1215.4 1277,1212 1277.9,1209.7C1278.7,1207.4 1280.9,1206.7 1283.3,1205.4Z"/>
<path fill="#F6DC9C" d="M1315.1,1223.7C1315.4,1226.3 1314.5,1229.7 1313,1231.7C1311.6,1233.6 1308.9,1235.3 1306.6,1235.5C1304.4,1235.7 1301.4,1234.5 1299.7,1232.8C1297.9,1231.2 1296.4,1227.9 1296.2,1225.3C1296,1222.8 1296.9,1219.3 1298.3,1217.3C1299.7,1215.4 1302.5,1213.7 1304.7,1213.5C1306.9,1213.4 1309.9,1214.5 1311.7,1216.2C1313.4,1217.9 1314.9,1221.1 1315.1,1223.7Z"/>
<line x1="1109.3" y1="1223.8" x2="1089.2" y2="1212.2" stroke="#111" stroke-width="1.6" stroke-linecap="round"/>
<line x1="1089.2" y1="1212.2" x2="1095.1" y2="1211.2" stroke="#111" stroke-width="1.6" stroke-linecap="round"/>
<line x1="1089.2" y1="1212.2" x2="1091.3" y2="1217.8" stroke="#111" stroke-width="1.6" stroke-linecap="round"/>
<line x1="1143.3" y1="1218.4" x2="1137.1" y2="1196.7" stroke="#111" stroke-width="1.6" stroke-linecap="round"/>
<line x1="1137.1" y1="1196.7" x2="1142.1" y2="1200.1" stroke="#111" stroke-width="1.6" stroke-linecap="round"/>
<line x1="1137.1" y1="1196.7" x2="1134.7" y2="1202.2" stroke="#111" stroke-width="1.6" stroke-linecap="round"/>
<line x1="1193.7" y1="1196.2" x2="1187" y2="1174.6" stroke="#111" stroke-width="1.6" stroke-linecap="round"/>
<line x1="1187" y1="1174.6" x2="1192" y2="1177.8" stroke="#111" stroke-width="1.6" stroke-linecap="round"/>
<line x1="1187" y1="1174.6" x2="1184.7" y2="1180.1" stroke="#111" stroke-width="1.6" stroke-linecap="round"/>
<line x1="1243.6" y1="1180.2" x2="1236.7" y2="1159.3" stroke="#111" stroke-width="1.6" stroke-linecap="round"/>
<line x1="1236.7" y1="1159.3" x2="1241.8" y2="1162.5" stroke="#111" stroke-width="1.6" stroke-linecap="round"/>
<line x1="1236.7" y1="1159.3" x2="1234.5" y2="1164.9" stroke="#111" stroke-width="1.6" stroke-linecap="round"/>
<line x1="1288.8" y1="1182.7" x2="1282.9" y2="1161.3" stroke="#111" stroke-width="1.6" stroke-linecap="round"/>
<line x1="1282.9" y1="1161.3" x2="1287.8" y2="1164.7" stroke="#111" stroke-width="1.6" stroke-linecap="round"/>
<line x1="1282.9" y1="1161.3" x2="1280.4" y2="1166.8" stroke="#111" stroke-width="1.6" stroke-linecap="round"/>
<line x1="1320.3" y1="1198.7" x2="1332.6" y2="1178.5" stroke="#111" stroke-width="1.6" stroke-linecap="round"/>
<line x1="1332.6" y1="1178.5" x2="1333.5" y2="1184.4" stroke="#111" stroke-width="1.6" stroke-linecap="round"/>
<line x1="1332.6" y1="1178.5" x2="1326.9" y2="1180.4" stroke="#111" stroke-width="1.6" stroke-linecap="round"/>
<line x1="1330.6" y1="1222" x2="1351.8" y2="1215.9" stroke="#111" stroke-width="1.6" stroke-linecap="round"/>
<line x1="1351.8" y1="1215.9" x2="1348.4" y2="1220.9" stroke="#111" stroke-width="1.6" stroke-linecap="round"/>
<line x1="1351.8" y1="1215.9" x2="1346.3" y2="1213.5" stroke="#111" stroke-width="1.6" stroke-linecap="round"/>
<line x1="1317.4" y1="1247.4" x2="1336.3" y2="1258.9" stroke="#111" stroke-width="1.6" stroke-linecap="round"/>
<line x1="1336.3" y1="1258.9" x2="1330.4" y2="1259.8" stroke="#111" stroke-width="1.6" stroke-linecap="round"/>
<line x1="1336.3" y1="1258.9" x2="1334.4" y2="1253.2" stroke="#111" stroke-width="1.6" stroke-linecap="round"/>
<line x1="1297" y1="1269.5" x2="1304.3" y2="1290.9" stroke="#111" stroke-width="1.6" stroke-linecap="round"/>
<line x1="1304.3" y1="1290.9" x2="1299.2" y2="1287.8" stroke="#111" stroke-width="1.6" stroke-linecap="round"/>
<line x1="1304.3" y1="1290.9" x2="1306.5" y2="1285.3" stroke="#111" stroke-width="1.6" stroke-linecap="round"/>
<line x1="1253.9" y1="1291.6" x2="1261.3" y2="1313" stroke="#111" stroke-width="1.6" stroke-linecap="round"/>
<line x1="1261.3" y1="1313" x2="1256.2" y2="1309.9" stroke="#111" stroke-width="1.6" stroke-linecap="round"/>
<line x1="1261.3" y1="1313" x2="1263.4" y2="1307.4" stroke="#111" stroke-width="1.6" stroke-linecap="round"/>
<line x1="1209.2" y1="1303.9" x2="1215.8" y2="1325.3" stroke="#111" stroke-width="1.6" stroke-linecap="round"/>
<line x1="1215.8" y1="1325.3" x2="1210.8" y2="1322" stroke="#111" stroke-width="1.6" stroke-linecap="round"/>
<line x1="1215.8" y1="1325.3" x2="1218.1" y2="1319.8" stroke="#111" stroke-width="1.6" stroke-linecap="round"/>
<line x1="1159.3" y1="1320.4" x2="1165.9" y2="1342.5" stroke="#111" stroke-width="1.6" stroke-linecap="round"/>
<line x1="1165.9" y1="1342.5" x2="1160.9" y2="1339.2" stroke="#111" stroke-width="1.6" stroke-linecap="round"/>
<line x1="1165.9" y1="1342.5" x2="1168.3" y2="1337" stroke="#111" stroke-width="1.6" stroke-linecap="round"/>
<line x1="1132.2" y1="1316.2" x2="1121.1" y2="1335.1" stroke="#111" stroke-width="1.6" stroke-linecap="round"/>
<line x1="1121.1" y1="1335.1" x2="1120.1" y2="1329.2" stroke="#111" stroke-width="1.6" stroke-linecap="round"/>
<line x1="1121.1" y1="1335.1" x2="1126.8" y2="1333.1" stroke="#111" stroke-width="1.6" stroke-linecap="round"/>
<line x1="1112.5" y1="1297" x2="1090.4" y2="1304.4" stroke="#111" stroke-width="1.6" stroke-linecap="round"/>
<line x1="1090.4" y1="1304.4" x2="1093.5" y2="1299.3" stroke="#111" stroke-width="1.6" stroke-linecap="round"/>
<line x1="1090.4" y1="1304.4" x2="1096" y2="1306.6" stroke="#111" stroke-width="1.6" stroke-linecap="round"/>
<line x1="1102.7" y1="1246.6" x2="1081.3" y2="1254" stroke="#111" stroke-width="1.6" stroke-linecap="round"/>
<line x1="1081.3" y1="1254" x2="1084.4" y2="1248.9" stroke="#111" stroke-width="1.6" stroke-linecap="round"/>
<line x1="1081.3" y1="1254" x2="1086.9" y2="1256.1" stroke="#111" stroke-width="1.6" stroke-linecap="round"/>
<text x="1153.3" y="1385.6" font-family="Liberation Sans, sans-serif" font-size="14" font-weight="normal" fill="#333" text-anchor="start" textLength="35.7" lengthAdjust="spacingAndGlyphs">IL-1β</text>
<text x="1205.7" y="1374.5" font-family="Liberation Sans, sans-serif" font-size="14" font-weight="normal" fill="#333" text-anchor="start" textLength="42.3" lengthAdjust="spacingAndGlyphs">TNF-α</text>
<text x="1258.3" y="1354" font-family="Liberation Sans, sans-serif" font-size="14" font-weight="normal" fill="#333" text-anchor="start" textLength="27.6" lengthAdjust="spacingAndGlyphs">IL-6</text>
<ellipse cx="912.8" cy="1297.2" rx="10" ry="14" fill="#B6C39E" transform="rotate(20 912.8 1297.2)"/>
<ellipse cx="964.4" cy="1290.7" rx="15" ry="9" fill="#B6C39E" transform="rotate(-10 964.4 1290.7)"/>
<ellipse cx="881.8" cy="1333.1" rx="15" ry="10" fill="#C6C5B8" transform="rotate(-10 881.8 1333.1)"/>
<ellipse cx="1015.3" cy="1323.2" rx="14" ry="10" fill="#C6C5B8" transform="rotate(25 1015.3 1323.2)"/>
<ellipse cx="875.7" cy="1387.6" rx="9" ry="15" fill="#C6C5B8" transform="rotate(-15 875.7 1387.6)"/>
<ellipse cx="1036.7" cy="1372.9" rx="14" ry="10" fill="#B6C39E" transform="rotate(20 1036.7 1372.9)"/>
<ellipse cx="899.4" cy="1437.3" rx="14" ry="10" fill="#B6C39E" transform="rotate(25 899.4 1437.3)"/>
<ellipse cx="937.2" cy="1460.3" rx="9" ry="14" fill="#C6C5B8" transform="rotate(-15 937.2 1460.3)"/>
<ellipse cx="1075.9" cy="1399.1" rx="9" ry="15" fill="#C6C5B8" transform="rotate(-15 1075.9 1399.1)"/>
<ellipse cx="1103.6" cy="1451.3" rx="9" ry="15" fill="#B6C39E" transform="rotate(-15 1103.6 1451.3)"/>
<ellipse cx="1086.8" cy="1503.3" rx="10" ry="14" fill="#C6C5B8" transform="rotate(30 1086.8 1503.3)"/>
<ellipse cx="959.2" cy="1508.1" rx="14" ry="10" fill="#C6C5B8" transform="rotate(25 959.2 1508.1)"/>
<ellipse cx="1060.6" cy="1534.9" rx="10" ry="14" fill="#B6C39E" transform="rotate(30 1060.6 1534.9)"/>
<ellipse cx="1006.5" cy="1543.9" rx="15" ry="9" fill="#B6C39E" transform="rotate(-10 1006.5 1543.9)"/>
<path fill="#829D59" d="M956.3,1341.2C960.6,1341 964.4,1342.3 968,1345.3C971.6,1348.4 975.2,1354 977.8,1359.3C980.5,1364.7 983,1371.5 983.9,1377.4C984.8,1383.4 984.5,1389.9 983.5,1395C982.5,1400 980.7,1404.8 977.9,1407.6C975.1,1410.5 971.4,1412 966.6,1412.2C961.8,1412.3 955.2,1410.6 949.4,1408.4C943.5,1406.3 936.1,1402.8 931.5,1399.3C926.9,1395.7 923.3,1391.5 921.6,1387.3C919.9,1383.2 919.8,1378.8 921.1,1374.2C922.5,1369.5 925.9,1364.2 929.5,1359.5C933.1,1354.9 938.3,1349.5 942.7,1346.4C947.2,1343.4 952.1,1341.4 956.3,1341.2Z"/>
<path fill="#B9C79D" d="M973.2,1371.2C975.4,1376.5 976.6,1383.9 975.8,1388.6C975.1,1393.2 972.1,1397.8 968.8,1399.2C965.6,1400.6 960.2,1399.6 956.3,1396.9C952.4,1394.2 947.8,1388.2 945.6,1383C943.4,1377.8 942.3,1370.3 943,1365.6C943.8,1361 946.8,1356.4 950.1,1355C953.3,1353.6 958.7,1354.6 962.6,1357.3C966.4,1360 971,1366 973.2,1371.2Z"/>
<path fill="#A7A591" d="M984.2,1431C987.5,1428.3 993,1424.4 998.1,1422.9C1003.1,1421.4 1008.6,1421.4 1014.6,1422.2C1020.6,1423 1028.3,1424.7 1033.9,1427.7C1039.5,1430.6 1044.8,1435.4 1048.2,1440C1051.5,1444.5 1053.7,1449.8 1054,1454.7C1054.3,1459.7 1052.9,1464.9 1050,1469.7C1047.1,1474.6 1041.6,1479.4 1036.6,1483.9C1031.6,1488.4 1024.5,1494.3 1020.1,1496.7C1015.7,1499.2 1013.3,1499.4 1010.1,1498.6C1006.9,1497.7 1004.3,1496.5 1000.9,1491.7C997.5,1487 993.2,1476.9 989.6,1469.9C986,1462.8 981.2,1454.4 979.3,1449.3C977.4,1444.2 977.3,1442.3 978.1,1439.2C978.9,1436.2 980.9,1433.8 984.2,1431Z"/>
<path fill="#CBC9BC" d="M1021,1452.9C1022.2,1457.4 1022.3,1463.5 1021.2,1467.2C1020.1,1470.8 1017.2,1474.1 1014.5,1474.9C1011.7,1475.6 1007.6,1474.2 1004.8,1471.6C1002,1468.9 999,1463.6 997.8,1459.1C996.6,1454.7 996.6,1448.6 997.7,1444.9C998.8,1441.3 1001.6,1437.9 1004.4,1437.2C1007.1,1436.5 1011.3,1437.9 1014.1,1440.5C1016.8,1443.1 1019.8,1448.5 1021,1452.9Z"/>
<line x1="938.8" y1="1328.3" x2="923.8" y2="1311.1" stroke="#111" stroke-width="1.6" stroke-linecap="round"/>
<line x1="923.8" y1="1311.1" x2="929.7" y2="1312" stroke="#111" stroke-width="1.6" stroke-linecap="round"/>
<line x1="923.8" y1="1311.1" x2="923.9" y2="1317.1" stroke="#111" stroke-width="1.6" stroke-linecap="round"/>
<line x1="960.6" y1="1328.3" x2="963" y2="1306.3" stroke="#111" stroke-width="1.6" stroke-linecap="round"/>
<line x1="963" y1="1306.3" x2="966.3" y2="1311.3" stroke="#111" stroke-width="1.6" stroke-linecap="round"/>
<line x1="963" y1="1306.3" x2="958.7" y2="1310.5" stroke="#111" stroke-width="1.6" stroke-linecap="round"/>
<line x1="985" y1="1348.4" x2="1003.2" y2="1334.1" stroke="#111" stroke-width="1.6" stroke-linecap="round"/>
<line x1="1003.2" y1="1334.1" x2="1002" y2="1340" stroke="#111" stroke-width="1.6" stroke-linecap="round"/>
<line x1="1003.2" y1="1334.1" x2="997.2" y2="1333.9" stroke="#111" stroke-width="1.6" stroke-linecap="round"/>
<line x1="908.2" y1="1363.7" x2="892.9" y2="1346.5" stroke="#111" stroke-width="1.6" stroke-linecap="round"/>
<line x1="892.9" y1="1346.5" x2="898.8" y2="1347.4" stroke="#111" stroke-width="1.6" stroke-linecap="round"/>
<line x1="892.9" y1="1346.5" x2="893.1" y2="1352.5" stroke="#111" stroke-width="1.6" stroke-linecap="round"/>
<line x1="913.3" y1="1390.5" x2="891" y2="1388.2" stroke="#111" stroke-width="1.6" stroke-linecap="round"/>
<line x1="891" y1="1388.2" x2="896" y2="1384.8" stroke="#111" stroke-width="1.6" stroke-linecap="round"/>
<line x1="891" y1="1388.2" x2="895.2" y2="1392.5" stroke="#111" stroke-width="1.6" stroke-linecap="round"/>
<line x1="930" y1="1411.9" x2="912.4" y2="1426.4" stroke="#111" stroke-width="1.6" stroke-linecap="round"/>
<line x1="912.4" y1="1426.4" x2="913.5" y2="1420.5" stroke="#111" stroke-width="1.6" stroke-linecap="round"/>
<line x1="912.4" y1="1426.4" x2="918.4" y2="1426.5" stroke="#111" stroke-width="1.6" stroke-linecap="round"/>
<line x1="1007" y1="1397.7" x2="1024.8" y2="1383.2" stroke="#111" stroke-width="1.6" stroke-linecap="round"/>
<line x1="1024.8" y1="1383.2" x2="1023.7" y2="1389.1" stroke="#111" stroke-width="1.6" stroke-linecap="round"/>
<line x1="1024.8" y1="1383.2" x2="1018.8" y2="1383.1" stroke="#111" stroke-width="1.6" stroke-linecap="round"/>
<line x1="1045.9" y1="1424.5" x2="1063.5" y2="1409.6" stroke="#111" stroke-width="1.6" stroke-linecap="round"/>
<line x1="1063.5" y1="1409.6" x2="1062.5" y2="1415.5" stroke="#111" stroke-width="1.6" stroke-linecap="round"/>
<line x1="1063.5" y1="1409.6" x2="1057.5" y2="1409.6" stroke="#111" stroke-width="1.6" stroke-linecap="round"/>
<line x1="966.9" y1="1435.4" x2="949.1" y2="1450.7" stroke="#111" stroke-width="1.6" stroke-linecap="round"/>
<line x1="949.1" y1="1450.7" x2="950.1" y2="1444.8" stroke="#111" stroke-width="1.6" stroke-linecap="round"/>
<line x1="949.1" y1="1450.7" x2="955.1" y2="1450.6" stroke="#111" stroke-width="1.6" stroke-linecap="round"/>
<line x1="1065.7" y1="1448.2" x2="1088.7" y2="1450.1" stroke="#111" stroke-width="1.6" stroke-linecap="round"/>
<line x1="1088.7" y1="1450.1" x2="1083.8" y2="1453.6" stroke="#111" stroke-width="1.6" stroke-linecap="round"/>
<line x1="1088.7" y1="1450.1" x2="1084.4" y2="1445.9" stroke="#111" stroke-width="1.6" stroke-linecap="round"/>
<line x1="1061.2" y1="1473.7" x2="1076.5" y2="1490.9" stroke="#111" stroke-width="1.6" stroke-linecap="round"/>
<line x1="1076.5" y1="1490.9" x2="1070.6" y2="1490" stroke="#111" stroke-width="1.6" stroke-linecap="round"/>
<line x1="1076.5" y1="1490.9" x2="1076.3" y2="1484.9" stroke="#111" stroke-width="1.6" stroke-linecap="round"/>
<line x1="1034.4" y1="1505.2" x2="1049.7" y2="1522" stroke="#111" stroke-width="1.6" stroke-linecap="round"/>
<line x1="1049.7" y1="1522" x2="1043.8" y2="1521.2" stroke="#111" stroke-width="1.6" stroke-linecap="round"/>
<line x1="1049.7" y1="1522" x2="1049.5" y2="1516" stroke="#111" stroke-width="1.6" stroke-linecap="round"/>
<line x1="1010.3" y1="1506.2" x2="1009" y2="1529.1" stroke="#111" stroke-width="1.6" stroke-linecap="round"/>
<line x1="1009" y1="1529.1" x2="1005.4" y2="1524.3" stroke="#111" stroke-width="1.6" stroke-linecap="round"/>
<line x1="1009" y1="1529.1" x2="1013.1" y2="1524.7" stroke="#111" stroke-width="1.6" stroke-linecap="round"/>
<line x1="989.3" y1="1483.2" x2="971.7" y2="1498.5" stroke="#111" stroke-width="1.6" stroke-linecap="round"/>
<line x1="971.7" y1="1498.5" x2="972.6" y2="1492.6" stroke="#111" stroke-width="1.6" stroke-linecap="round"/>
<line x1="971.7" y1="1498.5" x2="977.7" y2="1498.4" stroke="#111" stroke-width="1.6" stroke-linecap="round"/>
<text x="914.8" y="1524.4" font-family="Liberation Sans, sans-serif" font-size="14" font-weight="normal" fill="#333" text-anchor="start" textLength="34" lengthAdjust="spacingAndGlyphs">IL-17</text>
<text x="946.8" y="1552.7" font-family="Liberation Sans, sans-serif" font-size="14" font-weight="normal" fill="#333" text-anchor="start" textLength="42.2" lengthAdjust="spacingAndGlyphs">(IFN-y)</text>
<ellipse cx="906.4" cy="1625.5" rx="14.5" ry="10" fill="#DBB5C5" transform="rotate(-15 906.4 1625.5)"/>
<ellipse cx="962.1" cy="1625.5" rx="13" ry="10" fill="#D3CCDF" transform="rotate(-10 962.1 1625.5)"/>
<ellipse cx="1021.7" cy="1610.5" rx="12" ry="11" fill="#EDB8B0"/>
<ellipse cx="1069.5" cy="1613.2" rx="14.5" ry="10" fill="#DBB5C5" transform="rotate(-10 1069.5 1613.2)"/>
<ellipse cx="1141.3" cy="1619.5" rx="13" ry="10" fill="#D3CCDF" transform="rotate(10 1141.3 1619.5)"/>
<ellipse cx="1182.9" cy="1647.4" rx="10" ry="13" fill="#EDB8B0"/>
<ellipse cx="879" cy="1673.3" rx="10" ry="13" fill="#D3CCDF" transform="rotate(15 879 1673.3)"/>
<ellipse cx="1207.5" cy="1706.1" rx="9" ry="14" fill="#DBB5C5" transform="rotate(-15 1207.5 1706.1)"/>
<ellipse cx="886.4" cy="1723.9" rx="11" ry="12" fill="#EDB8B0" transform="rotate(-15 886.4 1723.9)"/>
<ellipse cx="913.7" cy="1771.7" rx="10" ry="13" fill="#EDB8B0"/>
<ellipse cx="972" cy="1792.2" rx="13" ry="10" fill="#D3CCDF" transform="rotate(10 972 1792.2)"/>
<ellipse cx="1029.9" cy="1788.9" rx="14.5" ry="10" fill="#DBB5C5" transform="rotate(-10 1029.9 1788.9)"/>
<ellipse cx="1079.6" cy="1766.2" rx="13" ry="10" fill="#D3CCDF" transform="rotate(10 1079.6 1766.2)"/>
<ellipse cx="1129.6" cy="1787.3" rx="12" ry="11" fill="#EDB8B0"/>
<ellipse cx="1187" cy="1766.2" rx="13" ry="10" fill="#D3CCDF" transform="rotate(-15 1187 1766.2)"/>
<path fill="#E27468" d="M933.4,1673.5C937.4,1670.3 946.1,1666.6 951.4,1664.9C956.6,1663.2 961.4,1662.5 964.9,1663.2C968.4,1663.9 969.2,1664 972.5,1669C975.7,1674 980.5,1685.3 984.6,1693.3C988.6,1701.2 994.6,1710.9 996.5,1716.7C998.5,1722.6 998.2,1725.2 996.2,1728.3C994.3,1731.4 989,1734.6 984.7,1735.4C980.5,1736.1 976.7,1735.5 970.8,1732.9C965,1730.2 956.2,1723.9 949.7,1719.5C943.1,1715.1 935.3,1710.4 931.4,1706.6C927.5,1702.8 926.9,1700.5 926.2,1696.7C925.5,1693 926.1,1687.8 927.3,1684C928.5,1680.1 929.4,1676.7 933.4,1673.5Z"/>
<path fill="#D0453A" d="M937.5,1677.7C940.9,1674.8 947.7,1672.7 953.1,1672.2C958.5,1671.8 965.6,1671.8 969.8,1674.7C974.1,1677.7 977.2,1684.2 978.5,1689.7C979.8,1695.2 980.1,1702.9 977.7,1707.6C975.4,1712.2 969.6,1716 964.4,1717.5C959.2,1719.1 951.2,1718.8 946.3,1716.8C941.4,1714.8 937.2,1710 934.9,1705.5C932.6,1701 932.2,1694.3 932.7,1689.7C933.1,1685 934.1,1680.6 937.5,1677.7Z"/>
<path fill="#BA7082" d="M1031.9,1658.9C1037.6,1659.1 1045.6,1660.8 1051,1664.2C1056.4,1667.6 1061.7,1674.4 1064.4,1679.5C1067.1,1684.6 1067.5,1689.4 1067.2,1694.8C1066.9,1700.2 1065.2,1706.6 1062.5,1712C1059.8,1717.4 1055.5,1723.3 1051,1727.3C1046.5,1731.3 1040.5,1735.3 1035.7,1735.9C1030.9,1736.5 1026.8,1734.4 1022.3,1731.1C1017.8,1727.8 1012.4,1721.5 1008.9,1715.8C1005.4,1710.1 1001.9,1703.1 1001.3,1696.7C1000.7,1690.3 1002.5,1683.2 1005.1,1677.6C1007.7,1672 1012.1,1666.4 1016.6,1663.3C1021.1,1660.2 1026.2,1658.8 1031.9,1658.9Z"/>
<path fill="#A4445E" d="M1054.7,1700.4C1053.6,1705.5 1050.8,1711.2 1047.6,1714.9C1044.5,1718.5 1039.7,1721.4 1035.6,1722.2C1031.6,1723 1026.6,1721.9 1023.3,1719.6C1019.9,1717.2 1016.7,1712.6 1015.3,1708C1013.8,1703.4 1013.6,1697 1014.7,1691.9C1015.8,1686.8 1018.6,1681 1021.8,1677.4C1024.9,1673.8 1029.7,1670.8 1033.8,1670.1C1037.8,1669.3 1042.7,1670.3 1046.1,1672.7C1049.5,1675.1 1052.7,1679.7 1054.1,1684.3C1055.6,1688.9 1055.8,1695.3 1054.7,1700.4Z"/>
<path fill="#A99BB8" d="M1087.1,1669.4C1090.6,1666.6 1096.4,1663.9 1101.4,1663C1106.4,1662 1112.6,1661.9 1117.2,1663.9C1121.9,1665.9 1125.2,1670.3 1129.3,1675C1133.4,1679.7 1138.6,1686.7 1141.7,1691.9C1144.8,1697.1 1147.6,1701.4 1148.1,1706.2C1148.6,1711 1146.9,1717.2 1144.9,1720.6C1143,1724 1140.2,1726.2 1136.4,1726.7C1132.6,1727.2 1127.3,1725.4 1122,1723.5C1116.7,1721.6 1109.9,1716.9 1104.7,1715.4C1099.5,1713.9 1094.4,1715.7 1090.8,1714.5C1087.1,1713.3 1084.7,1711.9 1082.6,1708.4C1080.6,1705 1078.9,1698.5 1078.6,1693.7C1078.2,1688.9 1079.1,1683.6 1080.5,1679.6C1081.9,1675.5 1083.6,1672.1 1087.1,1669.4Z"/>
<path fill="#8D7BA1" d="M1090.8,1673.6C1093.5,1671.6 1098,1669.5 1101.9,1668.8C1105.9,1668.1 1110.7,1667.9 1114.2,1669.3C1117.8,1670.7 1120.4,1673.8 1123.5,1677.2C1126.6,1680.5 1130.6,1685.5 1132.9,1689.2C1135.3,1692.9 1137.4,1696 1137.7,1699.5C1138.1,1702.9 1136.6,1707.4 1135.1,1709.9C1133.5,1712.4 1131.4,1714 1128.4,1714.4C1125.4,1714.8 1121.3,1713.6 1117.3,1712.3C1113.2,1711 1107.9,1707.7 1103.9,1706.7C1099.8,1705.6 1095.9,1707 1093.1,1706.2C1090.2,1705.4 1088.4,1704.4 1086.8,1701.9C1085.3,1699.4 1084.1,1694.7 1083.8,1691.3C1083.6,1687.8 1084.3,1684 1085.5,1681.1C1086.6,1678.1 1088,1675.6 1090.8,1673.6Z"/>
<line x1="935.6" y1="1655.6" x2="919.2" y2="1639.2" stroke="#111" stroke-width="1.6" stroke-linecap="round"/>
<line x1="919.2" y1="1639.2" x2="925.2" y2="1639.7" stroke="#111" stroke-width="1.6" stroke-linecap="round"/>
<line x1="919.2" y1="1639.2" x2="919.7" y2="1645.2" stroke="#111" stroke-width="1.6" stroke-linecap="round"/>
<line x1="993.8" y1="1657.8" x2="977.4" y2="1641.4" stroke="#111" stroke-width="1.6" stroke-linecap="round"/>
<line x1="977.4" y1="1641.4" x2="983.4" y2="1641.9" stroke="#111" stroke-width="1.6" stroke-linecap="round"/>
<line x1="977.4" y1="1641.4" x2="977.9" y2="1647.4" stroke="#111" stroke-width="1.6" stroke-linecap="round"/>
<line x1="1022.2" y1="1650.1" x2="1022.2" y2="1628.3" stroke="#111" stroke-width="1.6" stroke-linecap="round"/>
<line x1="1022.2" y1="1628.3" x2="1026.1" y2="1632.9" stroke="#111" stroke-width="1.6" stroke-linecap="round"/>
<line x1="1022.2" y1="1628.3" x2="1018.3" y2="1632.9" stroke="#111" stroke-width="1.6" stroke-linecap="round"/>
<line x1="1069.5" y1="1652.8" x2="1069.5" y2="1630.4" stroke="#111" stroke-width="1.6" stroke-linecap="round"/>
<line x1="1069.5" y1="1630.4" x2="1073.4" y2="1635" stroke="#111" stroke-width="1.6" stroke-linecap="round"/>
<line x1="1069.5" y1="1630.4" x2="1065.6" y2="1635" stroke="#111" stroke-width="1.6" stroke-linecap="round"/>
<line x1="1111.3" y1="1647.9" x2="1127.7" y2="1632.3" stroke="#111" stroke-width="1.6" stroke-linecap="round"/>
<line x1="1127.7" y1="1632.3" x2="1127" y2="1638.3" stroke="#111" stroke-width="1.6" stroke-linecap="round"/>
<line x1="1127.7" y1="1632.3" x2="1121.7" y2="1632.7" stroke="#111" stroke-width="1.6" stroke-linecap="round"/>
<line x1="919.2" y1="1674.7" x2="896.5" y2="1674.7" stroke="#111" stroke-width="1.6" stroke-linecap="round"/>
<line x1="896.5" y1="1674.7" x2="901.1" y2="1670.8" stroke="#111" stroke-width="1.6" stroke-linecap="round"/>
<line x1="896.5" y1="1674.7" x2="901.1" y2="1678.6" stroke="#111" stroke-width="1.6" stroke-linecap="round"/>
<line x1="1153.4" y1="1677.4" x2="1169.2" y2="1661.6" stroke="#111" stroke-width="1.6" stroke-linecap="round"/>
<line x1="1169.2" y1="1661.6" x2="1168.7" y2="1667.6" stroke="#111" stroke-width="1.6" stroke-linecap="round"/>
<line x1="1169.2" y1="1661.6" x2="1163.2" y2="1662.1" stroke="#111" stroke-width="1.6" stroke-linecap="round"/>
<line x1="1166.5" y1="1706.1" x2="1188.9" y2="1706.1" stroke="#111" stroke-width="1.6" stroke-linecap="round"/>
<line x1="1188.9" y1="1706.1" x2="1184.3" y2="1710" stroke="#111" stroke-width="1.6" stroke-linecap="round"/>
<line x1="1188.9" y1="1706.1" x2="1184.3" y2="1702.2" stroke="#111" stroke-width="1.6" stroke-linecap="round"/>
<line x1="931.5" y1="1723.3" x2="909.1" y2="1723.3" stroke="#111" stroke-width="1.6" stroke-linecap="round"/>
<line x1="909.1" y1="1723.3" x2="913.7" y2="1719.4" stroke="#111" stroke-width="1.6" stroke-linecap="round"/>
<line x1="909.1" y1="1723.3" x2="913.7" y2="1727.2" stroke="#111" stroke-width="1.6" stroke-linecap="round"/>
<line x1="943" y1="1740.8" x2="926.6" y2="1757.2" stroke="#111" stroke-width="1.6" stroke-linecap="round"/>
<line x1="926.6" y1="1757.2" x2="927.1" y2="1751.2" stroke="#111" stroke-width="1.6" stroke-linecap="round"/>
<line x1="926.6" y1="1757.2" x2="932.6" y2="1756.7" stroke="#111" stroke-width="1.6" stroke-linecap="round"/>
<line x1="971.9" y1="1750.7" x2="971.9" y2="1773.1" stroke="#111" stroke-width="1.6" stroke-linecap="round"/>
<line x1="971.9" y1="1773.1" x2="968" y2="1768.5" stroke="#111" stroke-width="1.6" stroke-linecap="round"/>
<line x1="971.9" y1="1773.1" x2="975.8" y2="1768.5" stroke="#111" stroke-width="1.6" stroke-linecap="round"/>
<line x1="1029.9" y1="1746.3" x2="1029.9" y2="1769" stroke="#111" stroke-width="1.6" stroke-linecap="round"/>
<line x1="1029.9" y1="1769" x2="1026" y2="1764.4" stroke="#111" stroke-width="1.6" stroke-linecap="round"/>
<line x1="1029.9" y1="1769" x2="1033.8" y2="1764.4" stroke="#111" stroke-width="1.6" stroke-linecap="round"/>
<line x1="1079.6" y1="1724.4" x2="1079.6" y2="1747.1" stroke="#111" stroke-width="1.6" stroke-linecap="round"/>
<line x1="1079.6" y1="1747.1" x2="1075.7" y2="1742.5" stroke="#111" stroke-width="1.6" stroke-linecap="round"/>
<line x1="1079.6" y1="1747.1" x2="1083.5" y2="1742.5" stroke="#111" stroke-width="1.6" stroke-linecap="round"/>
<line x1="1127.7" y1="1745.7" x2="1127.7" y2="1768.1" stroke="#111" stroke-width="1.6" stroke-linecap="round"/>
<line x1="1127.7" y1="1768.1" x2="1123.8" y2="1763.5" stroke="#111" stroke-width="1.6" stroke-linecap="round"/>
<line x1="1127.7" y1="1768.1" x2="1131.6" y2="1763.5" stroke="#111" stroke-width="1.6" stroke-linecap="round"/>
<line x1="1155.5" y1="1740.8" x2="1171.9" y2="1757.2" stroke="#111" stroke-width="1.6" stroke-linecap="round"/>
<line x1="1171.9" y1="1757.2" x2="1165.9" y2="1756.7" stroke="#111" stroke-width="1.6" stroke-linecap="round"/>
<line x1="1171.9" y1="1757.2" x2="1171.4" y2="1751.2" stroke="#111" stroke-width="1.6" stroke-linecap="round"/>
<text x="1200.4" y="1661.6" font-family="Liberation Sans, sans-serif" font-size="14" font-weight="normal" fill="#333" text-anchor="start" textLength="26.8" lengthAdjust="spacingAndGlyphs">IL-5</text>
<text x="1222.9" y="1719.8" font-family="Liberation Sans, sans-serif" font-size="14" font-weight="normal" fill="#333" text-anchor="start" textLength="27" lengthAdjust="spacingAndGlyphs">IL-9</text>
<text x="1205.9" y="1780.7" font-family="Liberation Sans, sans-serif" font-size="14" font-weight="normal" fill="#333" text-anchor="start" textLength="35" lengthAdjust="spacingAndGlyphs">IL-13</text>
<polyline stroke="#1a1a1a" stroke-width="1.5" fill="none" points="1413,1106 1444.5,1106 1444.5,1395.5"/>
<polyline stroke="#1a1a1a" stroke-width="1.5" fill="none" points="1444.5,1475.4 1444.5,1533.7 1413,1533.7"/>
<polyline stroke="#1a1a1a" stroke-width="1.5" fill="none" points="1413,1619.5 1444.6,1619.5 1444.6,1671"/>
<polyline stroke="#1a1a1a" stroke-width="1.5" fill="none" points="1444.6,1750.2 1444.6,1801.4 1413,1801.4"/>
<text x="1449" y="1428.4" font-family="Liberation Sans, sans-serif" font-size="26" font-weight="normal" fill="#111" text-anchor="end" textLength="125.7" lengthAdjust="spacingAndGlyphs">CROHN’S</text>
<text x="1449" y="1459" font-family="Liberation Sans, sans-serif" font-size="26" font-weight="normal" fill="#111" text-anchor="end" textLength="115" lengthAdjust="spacingAndGlyphs">DISEASE</text>
<text x="1449" y="1704.5" font-family="Liberation Sans, sans-serif" font-size="26" font-weight="normal" fill="#111" text-anchor="end" textLength="162.2" lengthAdjust="spacingAndGlyphs">ULCERATIVE</text>
<text x="1449" y="1734.9" font-family="Liberation Sans, sans-serif" font-size="26" font-weight="normal" fill="#111" text-anchor="end" textLength="104" lengthAdjust="spacingAndGlyphs">COLITIS</text>
<g transform="translate(1004.5 1893.4) rotate(22)"><path fill="#0A0A0A" d="M-20,0 C-20,-10.5 -8,-10.5 0,-5.6 C8,-10.5 20,-10.5 20,0 C20,10.5 8,10.5 0,5.6 C-8,10.5 -20,10.5 -20,0Z"/><line x1="-17.8" y1="-7" x2="-18.8" y2="-13" stroke="#0A0A0A" stroke-width="0.7"/><line x1="-17.8" y1="7" x2="-16.8" y2="13" stroke="#0A0A0A" stroke-width="0.7"/><line x1="-13.3" y1="-7" x2="-14.3" y2="-13" stroke="#0A0A0A" stroke-width="0.7"/><line x1="-13.3" y1="7" x2="-12.3" y2="13" stroke="#0A0A0A" stroke-width="0.7"/><line x1="-8.9" y1="-7" x2="-9.9" y2="-13" stroke="#0A0A0A" stroke-width="0.7"/><line x1="-8.9" y1="7" x2="-7.9" y2="13" stroke="#0A0A0A" stroke-width="0.7"/><line x1="-4.4" y1="-4.9" x2="-5.4" y2="-10.9" stroke="#0A0A0A" stroke-width="0.7"/><line x1="-4.4" y1="4.9" x2="-3.4" y2="10.9" stroke="#0A0A0A" stroke-width="0.7"/><line x1="0" y1="-4.9" x2="-1" y2="-10.9" stroke="#0A0A0A" stroke-width="0.7"/><line x1="0" y1="4.9" x2="1" y2="10.9" stroke="#0A0A0A" stroke-width="0.7"/><line x1="4.4" y1="-4.9" x2="3.4" y2="-10.9" stroke="#0A0A0A" stroke-width="0.7"/><line x1="4.4" y1="4.9" x2="5.4" y2="10.9" stroke="#0A0A0A" stroke-width="0.7"/><line x1="8.9" y1="-7" x2="7.9" y2="-13" stroke="#0A0A0A" stroke-width="0.7"/><line x1="8.9" y1="7" x2="9.9" y2="13" stroke="#0A0A0A" stroke-width="0.7"/><line x1="13.3" y1="-7" x2="12.3" y2="-13" stroke="#0A0A0A" stroke-width="0.7"/><line x1="13.3" y1="7" x2="14.3" y2="13" stroke="#0A0A0A" stroke-width="0.7"/><line x1="17.8" y1="-7" x2="16.8" y2="-13" stroke="#0A0A0A" stroke-width="0.7"/><line x1="17.8" y1="7" x2="18.8" y2="13" stroke="#0A0A0A" stroke-width="0.7"/><line x1="-20" y1="0" x2="-26" y2="0" stroke="#0A0A0A" stroke-width="0.7"/><line x1="20" y1="0" x2="26" y2="0" stroke="#0A0A0A" stroke-width="0.7"/></g>
<path fill="#0A0A0A" d="M1034,1866 Q1031,1871 1036,1874.5 Q1044,1879.5 1054,1878.5 Q1068,1876 1074.5,1862 Q1064,1869 1052,1870 Q1044,1870.5 1038,1866 Q1035.5,1864 1034,1866 Z"/>
<line x1="1062" y1="1910" x2="1116" y2="1881" stroke="#0A0A0A" stroke-width="12.5" stroke-linecap="round"/>
<polyline points="1116,1881 1118.5,1880.3 1120.9,1879.4 1123,1878.2 1124.9,1876.6 1126.5,1874.7 1127.8,1872.5 1129.1,1870.2 1130.4,1868 1131.9,1866 1133.6,1864.3 1135.7,1863 1138,1862 1140.5,1861.2 1143,1860.5 1145.5,1859.7 1147.7,1858.6 1149.6,1857.2 1151.3,1855.4 1152.7,1853.3 1154,1851" fill="none" stroke="#555" stroke-width="0.7"/>
<polyline points="1116,1881 1117.3,1878.7 1118.7,1876.6 1120.4,1874.8 1122.3,1873.4 1124.5,1872.3 1127,1871.5 1129.5,1870.8 1132,1870 1134.3,1869 1136.4,1867.7 1138.1,1866 1139.6,1864 1140.9,1861.8 1142.2,1859.5 1143.5,1857.3 1145.1,1855.4 1147,1853.8 1149.1,1852.6 1151.5,1851.7 1154,1851" fill="none" stroke="#555" stroke-width="0.7"/>
<g transform="translate(1141.5 1917) rotate(0)"><ellipse cx="0" cy="0" rx="18" ry="10" fill="#0A0A0A"/><line x1="17.8" y1="1.4" x2="22.8" y2="2.1" stroke="#0A0A0A" stroke-width="0.7"/><line x1="16.4" y1="4.2" x2="20.9" y2="6.2" stroke="#0A0A0A" stroke-width="0.7"/><line x1="13.6" y1="6.5" x2="17.4" y2="9.8" stroke="#0A0A0A" stroke-width="0.7"/><line x1="9.7" y1="8.4" x2="12.4" y2="12.6" stroke="#0A0A0A" stroke-width="0.7"/><line x1="5.1" y1="9.6" x2="6.5" y2="14.4" stroke="#0A0A0A" stroke-width="0.7"/><line x1="0" y1="10" x2="0" y2="15" stroke="#0A0A0A" stroke-width="0.7"/><line x1="-5.1" y1="9.6" x2="-6.5" y2="14.4" stroke="#0A0A0A" stroke-width="0.7"/><line x1="-9.7" y1="8.4" x2="-12.4" y2="12.6" stroke="#0A0A0A" stroke-width="0.7"/><line x1="-13.6" y1="6.5" x2="-17.4" y2="9.8" stroke="#0A0A0A" stroke-width="0.7"/><line x1="-16.4" y1="4.2" x2="-20.9" y2="6.2" stroke="#0A0A0A" stroke-width="0.7"/><line x1="-17.8" y1="1.4" x2="-22.8" y2="2.1" stroke="#0A0A0A" stroke-width="0.7"/><line x1="-17.8" y1="-1.4" x2="-22.8" y2="-2.1" stroke="#0A0A0A" stroke-width="0.7"/><line x1="-16.4" y1="-4.2" x2="-20.9" y2="-6.2" stroke="#0A0A0A" stroke-width="0.7"/><line x1="-13.6" y1="-6.5" x2="-17.4" y2="-9.8" stroke="#0A0A0A" stroke-width="0.7"/><line x1="-9.7" y1="-8.4" x2="-12.4" y2="-12.6" stroke="#0A0A0A" stroke-width="0.7"/><line x1="-5.1" y1="-9.6" x2="-6.5" y2="-14.4" stroke="#0A0A0A" stroke-width="0.7"/><line x1="0" y1="-10" x2="0" y2="-15" stroke="#0A0A0A" stroke-width="0.7"/><line x1="5.1" y1="-9.6" x2="6.5" y2="-14.4" stroke="#0A0A0A" stroke-width="0.7"/><line x1="9.7" y1="-8.4" x2="12.4" y2="-12.6" stroke="#0A0A0A" stroke-width="0.7"/><line x1="13.6" y1="-6.5" x2="17.4" y2="-9.8" stroke="#0A0A0A" stroke-width="0.7"/><line x1="16.4" y1="-4.2" x2="20.9" y2="-6.2" stroke="#0A0A0A" stroke-width="0.7"/><line x1="17.8" y1="-1.4" x2="22.8" y2="-2.1" stroke="#0A0A0A" stroke-width="0.7"/></g>
<g fill="#0A0A0A" stroke="#0A0A0A"><circle cx="1186.9" cy="1882.6" r="11.3" stroke="none"/><line x1="1197.2" y1="1882.6" x2="1204.9" y2="1882.6" stroke-width="2.1"/><circle cx="1204.9" cy="1882.6" r="2.7" stroke="none"/><line x1="1196.1" y1="1887" x2="1203.2" y2="1890.4" stroke-width="2.1"/><circle cx="1203.2" cy="1890.4" r="2.7" stroke="none"/><line x1="1193.3" y1="1890.6" x2="1198.1" y2="1896.7" stroke-width="2.1"/><circle cx="1198.1" cy="1896.7" r="2.7" stroke="none"/><line x1="1189.2" y1="1892.6" x2="1190.9" y2="1900.2" stroke-width="2.1"/><circle cx="1190.9" cy="1900.2" r="2.7" stroke="none"/><line x1="1184.6" y1="1892.6" x2="1182.9" y2="1900.2" stroke-width="2.1"/><circle cx="1182.9" cy="1900.2" r="2.7" stroke="none"/><line x1="1180.5" y1="1890.6" x2="1175.7" y2="1896.7" stroke-width="2.1"/><circle cx="1175.7" cy="1896.7" r="2.7" stroke="none"/><line x1="1177.7" y1="1887" x2="1170.6" y2="1890.4" stroke-width="2.1"/><circle cx="1170.6" cy="1890.4" r="2.7" stroke="none"/><line x1="1176.7" y1="1882.6" x2="1168.9" y2="1882.6" stroke-width="2.1"/><circle cx="1168.9" cy="1882.6" r="2.7" stroke="none"/><line x1="1177.7" y1="1878.2" x2="1170.6" y2="1874.8" stroke-width="2.1"/><circle cx="1170.6" cy="1874.8" r="2.7" stroke="none"/><line x1="1180.5" y1="1874.6" x2="1175.7" y2="1868.5" stroke-width="2.1"/><circle cx="1175.7" cy="1868.5" r="2.7" stroke="none"/><line x1="1184.6" y1="1872.6" x2="1182.9" y2="1865" stroke-width="2.1"/><circle cx="1182.9" cy="1865" r="2.7" stroke="none"/><line x1="1189.2" y1="1872.6" x2="1190.9" y2="1865" stroke-width="2.1"/><circle cx="1190.9" cy="1865" r="2.7" stroke="none"/><line x1="1193.3" y1="1874.6" x2="1198.1" y2="1868.5" stroke-width="2.1"/><circle cx="1198.1" cy="1868.5" r="2.7" stroke="none"/><line x1="1196.1" y1="1878.2" x2="1203.2" y2="1874.8" stroke-width="2.1"/><circle cx="1203.2" cy="1874.8" r="2.7" stroke="none"/></g>
<path fill="none" stroke="#0A0A0A" stroke-width="7" stroke-linecap="round" d="M1221,1925 C1208,1918 1215,1905 1232,1902 C1248,1898 1240,1885 1244,1877 C1248,1869 1262,1868 1273,1875"/>
<text x="1042.3" y="1967.2" font-family="Liberation Sans, sans-serif" font-size="14" font-weight="normal" fill="#333" text-anchor="start" textLength="163.4" lengthAdjust="spacingAndGlyphs">Pro-inflammatory Bacteria</text>
<g transform="translate(255 65) scale(0.06146)" fill="none" stroke="#000" stroke-width="46" stroke-linecap="round" stroke-linejoin="round">
<path d="M150,410 C95,600 90,900 240,1120 C340,1250 470,1310 620,1330"/>
<path d="M860,1320 C1100,1240 1300,1050 1330,760 C1340,620 1310,500 1240,420"/>
<path d="M560,1335 L560,1400 Q560,1440 600,1440 L820,1440 Q860,1440 860,1400 L860,1330"/>
<path d="M150,410 Q170,380 240,395 L420,290 C500,220 560,185 640,188 C720,192 780,228 880,218 C960,210 1030,225 1080,280 L1160,380 Q1200,425 1240,420"/>
<path d="M250,400 C300,490 350,540 400,580 C450,640 470,720 480,780"/>
<path d="M492,830 C492,950 540,1050 600,1150 C640,1230 700,1300 760,1330"/>
<path d="M370,530 C380,470 450,445 530,460 C600,478 660,490 720,470 C790,455 820,500 830,560 C800,580 760,585 740,615 C730,660 700,690 640,700 C590,720 575,790 572,860 C570,960 590,1050 620,1130"/>
<path d="M830,560 C880,545 930,500 960,450 C990,400 1040,375 1090,375 C1130,378 1160,400 1200,430"/>
<path d="M500,295 C530,330 560,362 620,378 C660,395 680,430 690,470"/>
<path d="M770,350 L850,285"/>
<path d="M220,830 C250,950 290,1050 350,1110"/>
<path d="M365,890 C365,980 345,1050 325,1090"/>
<path d="M350,1110 C420,1230 520,1300 640,1330"/>
</g>
<g transform="translate(365 62) scale(0.06831)" fill="none" stroke="#000" stroke-width="44" stroke-linecap="round" stroke-linejoin="round">
<path d="M235,325 A620,620 0 0 1 985,165"/>
<path d="M190,400 A620,620 0 0 0 160,1040"/>
<path d="M1255,450 A620,620 0 0 1 430,1268"/>
<circle cx="410" cy="555" r="175"/>
<circle cx="405" cy="555" r="120"/>
<path d="M290,555 L525,555 M345,450 L465,660 M345,660 L465,450"/>
<path fill="#EBEBE3" d="M170,1045 C250,975 350,932 440,915 L470,760 C490,600 540,420 590,290 C612,250 660,243 700,262 L752,300 C830,240 920,192 1000,175 C1080,160 1195,168 1238,208 C1275,262 1270,360 1240,440 C1200,540 1120,640 1040,740 C900,880 700,960 540,1000 C505,1080 455,1190 382,1268 C360,1200 345,1130 320,1095 C270,1080 215,1070 170,1045 Z"/>
<path d="M880,250 C865,350 920,460 1030,520 C1090,548 1150,548 1200,535"/>
<ellipse cx="1030" cy="330" rx="26" ry="40" fill="#000" stroke="none" transform="rotate(-40 1030 330)"/>
<path d="M605,455 C575,520 545,590 525,650"/>
<path d="M1140,700 L1130,850 L1060,790"/>
<circle cx="890" cy="965" r="212" fill="#EBEBE3"/>
<circle cx="890" cy="965" r="150"/>
<path d="M890,815 L890,1115 M760,890 L1020,1040 M760,1040 L1020,890"/>
</g>
<g transform="translate(485 62) scale(0.06831)" fill="none" stroke="#000" stroke-width="44" stroke-linecap="round" stroke-linejoin="round">
<path d="M560,335 C820,330 1010,520 1010,800 C1010,880 990,930 975,960"/>
<path d="M720,1240 C660,1260 600,1275 545,1275 C290,1275 85,1070 85,810 C85,650 150,530 230,460"/>
<path d="M230,460 C230,360 320,285 420,290 C500,295 550,340 545,390 C530,460 450,500 370,495 C300,490 250,475 230,460 Z"/>
<path d="M330,280 C300,220 310,140 320,115 C400,100 500,130 540,220 C555,260 555,300 545,330"/>
<path d="M555,320 C575,250 610,190 660,150"/>
<circle cx="360" cy="625" r="24" fill="#000" stroke="none"/>
<circle cx="255" cy="665" r="24" fill="#000" stroke="none"/>
<circle cx="318" cy="748" r="24" fill="#000" stroke="none"/>
<circle cx="188" cy="772" r="24" fill="#000" stroke="none"/>
<circle cx="272" cy="858" r="24" fill="#000" stroke="none"/>
<circle cx="380" cy="898" r="24" fill="#000" stroke="none"/>
<circle cx="230" cy="962" r="24" fill="#000" stroke="none"/>
<circle cx="338" cy="1022" r="24" fill="#000" stroke="none"/>
<path d="M790,705 L1320,1215 C1280,1280 1150,1330 1030,1320 C860,1300 700,1160 690,980 C685,870 720,770 790,705 Z"/>
<path d="M815,795 C782,840 772,900 776,960 C790,1115 900,1230 1030,1240 C1115,1246 1195,1226 1250,1198"/>
<path d="M1040,960 L790,1030 M1040,960 L985,1225"/>
</g>
<g transform="translate(600 60) scale(0.07855)" fill="none" stroke="#000" stroke-width="44" stroke-linecap="round" stroke-linejoin="round">
<path d="M560,240 C580,150 660,100 740,100 C820,100 890,150 905,230"/>
<path d="M560,240 C480,230 390,280 370,360 C350,450 420,530 560,545"/>
<path d="M810,300 C850,250 900,235 960,235 C1050,245 1090,320 1090,390 C1085,460 1040,510 990,520"/>
<path d="M920,495 C980,520 1010,600 1005,660"/>
<path d="M375,320 C300,300 220,340 200,420 C195,460 205,480 270,490"/>
<path d="M230,490 C150,500 110,560 120,620 C130,680 180,705 240,700 C250,760 310,800 380,800 C430,795 460,760 460,740"/>
<path d="M1095,320 C1170,300 1250,340 1265,420 C1268,460 1255,480 1190,490"/>
<path d="M1230,490 C1310,510 1345,570 1335,630 C1320,690 1270,705 1220,700 C1210,760 1150,800 1090,800 C1040,795 1010,760 1000,740"/>
<path d="M460,580 C440,650 470,740 560,770 C640,790 700,770 745,730 C790,770 840,785 900,780 C960,770 1005,720 1010,650"/>
<path d="M420,820 C500,870 560,960 580,1060 L590,1190 L890,1190 L900,1080 C920,960 990,870 1080,820"/>
<path d="M600,810 L680,910 L680,800 M800,800 L800,910 L880,810"/>
</g>
<g transform="translate(890 62) scale(0.05807)" fill="none" stroke="#000" stroke-width="44" stroke-linecap="round" stroke-linejoin="round">
<path d="M160,790 C170,1050 400,1250 720,1250 C830,1250 920,1230 1000,1200"/>
<path d="M1080,1170 C1200,1090 1290,950 1300,790"/>
<path d="M150,690 L1310,690 Q1345,690 1345,730 Q1345,770 1310,770 L150,770 Q115,770 115,730 Q115,690 150,690 Z"/>
<path d="M290,380 C360,330 430,320 490,320 C640,330 760,450 790,670"/>
<path d="M220,440 C180,510 160,600 165,690"/>
<path d="M480,300 C530,220 620,170 720,170 C830,170 920,220 980,290"/>
<path d="M740,410 C800,350 880,320 980,320 C1100,325 1190,390 1230,460"/>
<path d="M1280,545 C1290,600 1290,650 1285,690"/>
<path d="M1010,300 L1150,130 Q1200,90 1240,130 Q1270,175 1230,220 L1130,340"/>
<path d="M290,690 L290,820 Q290,870 345,870 Q400,870 400,820 L400,690" fill="#EBEBE3"/>
<path d="M870,690 L870,800 Q870,850 915,850 Q960,850 960,800 L960,690" fill="#EBEBE3"/>
<path d="M990,690 L990,910 Q990,960 1045,960 Q1100,960 1100,910 L1100,690" fill="#EBEBE3"/>
<path d="M410,420 L440,470 M530,490 L590,465 M400,550 L450,575 M660,560 L690,520 M290,490 L275,540"/>
<circle cx="880" cy="430" r="18" fill="#000" stroke="none"/>
<circle cx="970" cy="405" r="18" fill="#000" stroke="none"/>
<circle cx="950" cy="490" r="18" fill="#000" stroke="none"/>
<circle cx="1135" cy="490" r="18" fill="#000" stroke="none"/>
<circle cx="860" cy="580" r="18" fill="#000" stroke="none"/>
<circle cx="1195" cy="580" r="18" fill="#000" stroke="none"/>
<path d="M670,1270 L670,1440 M800,1270 L800,1440"/>
<path d="M440,1440 L1020,1440 Q1060,1450 1060,1500 L1060,1560 L400,1560 L400,1500 Q400,1450 440,1440 Z"/>
</g>
<g transform="translate(1000 70) scale(0.07174)" fill="none" stroke="#000" stroke-width="44" stroke-linecap="round" stroke-linejoin="round">
<path d="M150,740 L1310,740 Q1325,745 1318,780 C1290,960 1180,1150 950,1150 L500,1150 C270,1150 170,960 142,780 Q135,745 150,740 Z"/>
<path d="M235,820 C270,960 380,1060 550,1070"/>
<path d="M620,385 C480,385 440,300 455,210 C560,210 630,280 620,385 Z"/>
<path d="M660,385 C800,385 840,300 835,210 C730,210 650,280 660,385 Z"/>
<path d="M245,735 C260,620 320,560 400,540 C450,520 470,470 540,430 C610,400 700,400 760,425 C820,450 850,490 910,500 C980,505 1040,510 1090,560 C1130,610 1170,680 1195,735"/>
<path d="M320,735 C340,650 390,610 450,595 C500,585 520,520 570,480 C620,445 680,445 720,440"/>
<path d="M410,735 C430,690 480,670 520,665 C560,650 580,600 640,550 C690,510 740,490 770,450"/>
<path d="M580,590 L720,735"/>
<path d="M640,560 C700,610 760,700 830,735"/>
<path d="M760,550 C820,610 880,650 960,655 C1020,660 1050,700 1065,735"/>
<path d="M800,500 C850,550 900,570 980,575 C1060,585 1100,650 1130,735"/>
</g>
<g transform="translate(1130 62) scale(0.06831)" fill="none" stroke="#000" stroke-width="41" stroke-linecap="round" stroke-linejoin="round">
<path d="M1320,705 A612,612 0 1 0 1010,1230"/>
<path d="M1230,700 C1240,560 1180,420 1100,340 C1060,300 1040,250 1000,235"/>
<path d="M960,210 C880,180 800,175 712,180 C600,185 520,200 445,250"/>
<path d="M410,270 C300,330 220,460 200,600 C190,680 195,700 200,720"/>
<path d="M200,720 C205,860 250,980 360,1090 C400,1130 450,1160 510,1190"/>
<path d="M620,1210 C720,1240 820,1215 930,1195"/>
<path d="M100,705 L1140,705"/>
<path d="M420,180 L560,440 M610,520 L1010,1230"/>
<path d="M1000,200 L420,1200"/>
<path d="M1140,705 L1310,705 Q1330,705 1330,690"/>
<path d="M960,720 L960,850 Q960,890 1000,890 Q1040,890 1040,850 L1040,800 Q1040,770 1080,770 Q1120,770 1120,800 L1120,960 Q1120,990 1155,990 Q1190,990 1190,960 L1190,705"/>
<circle cx="640" cy="320" r="65"/>
<circle cx="480" cy="565" r="65"/>
<circle cx="1060" cy="570" r="65"/>
<circle cx="425" cy="945" r="65"/>
<circle cx="650" cy="1060" r="65"/>
<circle cx="845" cy="300" r="35"/>
<circle cx="430" cy="390" r="35"/>
<circle cx="715" cy="500" r="35"/>
<circle cx="1005" cy="410" r="35"/>
<circle cx="300" cy="615" r="35"/>
<circle cx="885" cy="600" r="35"/>
<circle cx="310" cy="815" r="35"/>
<circle cx="515" cy="795" r="35"/>
<circle cx="715" cy="890" r="35"/>
<circle cx="835" cy="1105" r="35"/>
</g>
<g transform="translate(1255 62) scale(0.06831)" fill="none" stroke="#000" stroke-width="44" stroke-linecap="round" stroke-linejoin="round">
<path d="M150,600 L1330,600 Q1360,600 1355,560 C1330,300 1050,90 735,90 C420,90 140,300 120,560 Q115,600 150,600 Z"/>
<path d="M185,610 L185,690 M1290,610 L1290,690"/>
<path d="M185,700 L1290,700 Q1320,700 1320,745 Q1320,790 1290,790 L860,790 C920,800 980,880 1050,920 C1110,880 1170,800 1260,790 M185,700 Q160,700 160,745 Q160,790 185,790 L860,790"/>
<path d="M185,790 Q160,795 160,845 Q160,890 190,900 C260,910 300,860 400,870 C490,880 520,930 580,925 C650,920 680,870 760,875 C850,880 900,920 960,910 L1050,920 C1100,910 1140,880 1200,900 Q1290,910 1290,870 Q1300,810 1260,790"/>
<path d="M185,900 L185,1000 M1290,900 L1290,1000"/>
<path d="M150,1010 L1330,1010 Q1365,1010 1360,1060 C1340,1200 1250,1330 1100,1330 L370,1330 C220,1330 130,1200 115,1060 Q110,1010 150,1010 Z"/>
<path d="M480,245 L510,215"/>
<path d="M600,230 L630,195"/>
<path d="M735,170 L735,205"/>
<path d="M835,190 L865,225"/>
<path d="M970,215 L1000,245"/>
<path d="M330,330 L360,300"/>
<path d="M515,350 L545,320"/>
<path d="M665,300 L665,335"/>
<path d="M800,300 L800,335"/>
<path d="M925,320 L955,350"/>
<path d="M1120,300 L1150,330"/>
<path d="M260,460 L295,430"/>
<path d="M410,460 L445,430"/>
<path d="M580,460 L615,430"/>
<path d="M735,430 L735,465"/>
<path d="M860,430 L890,460"/>
<path d="M1030,430 L1060,460"/>
<path d="M1175,430 L1205,460"/>
</g>
</svg>
</body></html>
